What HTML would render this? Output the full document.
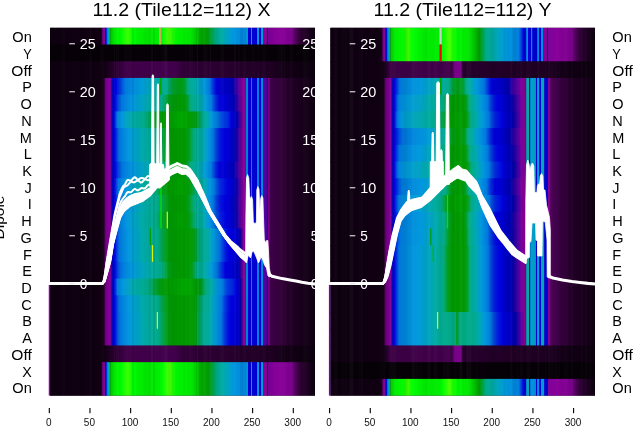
<!DOCTYPE html>
<html><head><meta charset="utf-8"><title>chart</title><style>html,body{margin:0;padding:0;background:#fff}body{width:640px;height:440px;overflow:hidden;font-family:"Liberation Sans",sans-serif}svg{display:block;will-change:transform}</style></head><body>
<svg width="640" height="440" viewBox="0 0 640 440">
<defs><clipPath id="clipL"><rect x="50" y="27.8" width="265" height="367.8"/></clipPath><linearGradient id="gL0" gradientUnits="userSpaceOnUse" x1="50.0" x2="315.0"><stop offset="0" stop-color="#0e0010"/><stop offset="0.1925" stop-color="#110013"/><stop offset="0.1943" stop-color="#1e0023"/><stop offset="0.1981" stop-color="#630071"/><stop offset="0.2" stop-color="#79008a"/><stop offset="0.2057" stop-color="#880099"/><stop offset="0.2075" stop-color="#2900a5"/><stop offset="0.2094" stop-color="#0000be"/><stop offset="0.2113" stop-color="#0000d8"/><stop offset="0.2132" stop-color="#0030dd"/><stop offset="0.2151" stop-color="#006fdd"/><stop offset="0.2189" stop-color="#0099dd"/><stop offset="0.2208" stop-color="#00a4bb"/><stop offset="0.2245" stop-color="#00aa88"/><stop offset="0.2264" stop-color="#009c1b"/><stop offset="0.2283" stop-color="#00ad00"/><stop offset="0.2302" stop-color="#00c900"/><stop offset="0.2453" stop-color="#00ee00"/><stop offset="0.2717" stop-color="#00ff00"/><stop offset="0.2943" stop-color="#40ff00"/><stop offset="0.3094" stop-color="#00fe00"/><stop offset="0.3585" stop-color="#00e700"/><stop offset="0.4" stop-color="#00eb00"/><stop offset="0.4264" stop-color="#00ff00"/><stop offset="0.4491" stop-color="#4bff00"/><stop offset="0.4755" stop-color="#00ff00"/><stop offset="0.4849" stop-color="#00f400"/><stop offset="0.5321" stop-color="#00e400"/><stop offset="0.5698" stop-color="#00ad00"/><stop offset="0.5925" stop-color="#009900"/><stop offset="0.6151" stop-color="#00a352"/><stop offset="0.6245" stop-color="#00aa88"/><stop offset="0.6509" stop-color="#00aaaa"/><stop offset="0.6868" stop-color="#0099dd"/><stop offset="0.7396" stop-color="#007edd"/><stop offset="0.7415" stop-color="#009cd3"/><stop offset="0.7453" stop-color="#009cd3"/><stop offset="0.7472" stop-color="#0000d8"/><stop offset="0.7566" stop-color="#0000d8"/><stop offset="0.7585" stop-color="#0099dc"/><stop offset="0.7623" stop-color="#0099dc"/><stop offset="0.7642" stop-color="#0000d2"/><stop offset="0.7811" stop-color="#0000d2"/><stop offset="0.783" stop-color="#0095dd"/><stop offset="0.7868" stop-color="#0095dd"/><stop offset="0.7887" stop-color="#0000d8"/><stop offset="0.7943" stop-color="#0000d8"/><stop offset="0.7962" stop-color="#009cd3"/><stop offset="0.8019" stop-color="#009cd3"/><stop offset="0.8038" stop-color="#880099"/><stop offset="0.817" stop-color="#880099"/><stop offset="0.8189" stop-color="#0000ce"/><stop offset="0.8208" stop-color="#0000ce"/><stop offset="0.8226" stop-color="#7a009b"/><stop offset="0.8547" stop-color="#880099"/><stop offset="0.8868" stop-color="#840095"/><stop offset="0.9132" stop-color="#780089"/><stop offset="0.9245" stop-color="#560062"/><stop offset="0.9434" stop-color="#320039"/><stop offset="0.9736" stop-color="#1a001e"/><stop offset="1" stop-color="#0e0010"/></linearGradient><linearGradient id="gL1" gradientUnits="userSpaceOnUse" x1="50.0" x2="315.0"><stop offset="0" stop-color="#070008"/><stop offset="1" stop-color="#070008"/></linearGradient><linearGradient id="gL2" gradientUnits="userSpaceOnUse" x1="50.0" x2="315.0"><stop offset="0" stop-color="#0e0010"/><stop offset="0.2038" stop-color="#110013"/><stop offset="0.2491" stop-color="#2d0034"/><stop offset="0.2906" stop-color="#400049"/><stop offset="0.4717" stop-color="#45004f"/><stop offset="0.4981" stop-color="#320039"/><stop offset="0.8377" stop-color="#1f0023"/><stop offset="0.8679" stop-color="#150018"/><stop offset="1" stop-color="#0c000e"/></linearGradient><linearGradient id="gL3" gradientUnits="userSpaceOnUse" x1="50.0" x2="315.0"><stop offset="0" stop-color="#0e0010"/><stop offset="0.2" stop-color="#110013"/><stop offset="0.2019" stop-color="#1b001e"/><stop offset="0.2057" stop-color="#3c0045"/><stop offset="0.2094" stop-color="#6b007a"/><stop offset="0.2113" stop-color="#79008a"/><stop offset="0.2264" stop-color="#870098"/><stop offset="0.2283" stop-color="#7f009a"/><stop offset="0.2321" stop-color="#2400a5"/><stop offset="0.234" stop-color="#0000ac"/><stop offset="0.2434" stop-color="#0000d6"/><stop offset="0.2491" stop-color="#0004dd"/><stop offset="0.2585" stop-color="#0021dd"/><stop offset="0.2623" stop-color="#0035dd"/><stop offset="0.283" stop-color="#0076dd"/><stop offset="0.3132" stop-color="#008bdd"/><stop offset="0.3396" stop-color="#0099dc"/><stop offset="0.4038" stop-color="#00aaaa"/><stop offset="0.4415" stop-color="#00aa89"/><stop offset="0.4604" stop-color="#00a039"/><stop offset="0.4792" stop-color="#009c1b"/><stop offset="0.4906" stop-color="#009c16"/><stop offset="0.5" stop-color="#009c1b"/><stop offset="0.5094" stop-color="#009f2c"/><stop offset="0.5208" stop-color="#00aa87"/><stop offset="0.5226" stop-color="#00aa8b"/><stop offset="0.5491" stop-color="#00aaaa"/><stop offset="0.5811" stop-color="#0099dc"/><stop offset="0.6019" stop-color="#0079dd"/><stop offset="0.6113" stop-color="#0048dd"/><stop offset="0.6264" stop-color="#0008dd"/><stop offset="0.6302" stop-color="#0000dc"/><stop offset="0.6453" stop-color="#0000ca"/><stop offset="0.6679" stop-color="#0000c1"/><stop offset="0.6887" stop-color="#0000ac"/><stop offset="0.7245" stop-color="#84009a"/><stop offset="0.7283" stop-color="#880099"/><stop offset="0.7358" stop-color="#860097"/><stop offset="0.7377" stop-color="#6d009c"/><stop offset="0.7396" stop-color="#6d009c"/><stop offset="0.7415" stop-color="#0088dd"/><stop offset="0.7453" stop-color="#0088dd"/><stop offset="0.7472" stop-color="#0000d8"/><stop offset="0.7566" stop-color="#0000d8"/><stop offset="0.7585" stop-color="#0082dd"/><stop offset="0.7623" stop-color="#0082dd"/><stop offset="0.7642" stop-color="#0000d2"/><stop offset="0.7811" stop-color="#0000d2"/><stop offset="0.783" stop-color="#007fdd"/><stop offset="0.7868" stop-color="#007fdd"/><stop offset="0.7887" stop-color="#0000d8"/><stop offset="0.7943" stop-color="#0000d8"/><stop offset="0.7962" stop-color="#0088dd"/><stop offset="0.8019" stop-color="#0088dd"/><stop offset="0.8038" stop-color="#4f00a0"/><stop offset="0.817" stop-color="#4f00a0"/><stop offset="0.8189" stop-color="#0000ce"/><stop offset="0.8208" stop-color="#0000ce"/><stop offset="0.8226" stop-color="#800091"/><stop offset="0.8264" stop-color="#780089"/><stop offset="0.8321" stop-color="#400049"/><stop offset="0.9057" stop-color="#240029"/><stop offset="1" stop-color="#0e0010"/></linearGradient><linearGradient id="gL4" gradientUnits="userSpaceOnUse" x1="50.0" x2="315.0"><stop offset="0" stop-color="#0e0010"/><stop offset="0.2" stop-color="#110013"/><stop offset="0.2019" stop-color="#1b001e"/><stop offset="0.2057" stop-color="#3c0045"/><stop offset="0.2094" stop-color="#6b007a"/><stop offset="0.2113" stop-color="#79008a"/><stop offset="0.2264" stop-color="#870098"/><stop offset="0.2283" stop-color="#7f009a"/><stop offset="0.2321" stop-color="#2400a5"/><stop offset="0.234" stop-color="#0000ac"/><stop offset="0.2434" stop-color="#0000db"/><stop offset="0.2453" stop-color="#0004dd"/><stop offset="0.2623" stop-color="#005cdd"/><stop offset="0.2698" stop-color="#0075dd"/><stop offset="0.3132" stop-color="#0098dd"/><stop offset="0.3755" stop-color="#00aaaa"/><stop offset="0.4226" stop-color="#00aa89"/><stop offset="0.4491" stop-color="#009c1b"/><stop offset="0.4604" stop-color="#009b0d"/><stop offset="0.4906" stop-color="#009900"/><stop offset="0.5094" stop-color="#009a0a"/><stop offset="0.517" stop-color="#009c1a"/><stop offset="0.5245" stop-color="#00a457"/><stop offset="0.534" stop-color="#00aa87"/><stop offset="0.566" stop-color="#00aaaa"/><stop offset="0.5811" stop-color="#00a1c6"/><stop offset="0.5906" stop-color="#0098dd"/><stop offset="0.6094" stop-color="#0078dd"/><stop offset="0.6264" stop-color="#002cdd"/><stop offset="0.6415" stop-color="#0000dc"/><stop offset="0.6679" stop-color="#0000ce"/><stop offset="0.6868" stop-color="#0000bb"/><stop offset="0.6962" stop-color="#0000aa"/><stop offset="0.7245" stop-color="#7f009a"/><stop offset="0.7302" stop-color="#880099"/><stop offset="0.7358" stop-color="#860097"/><stop offset="0.7377" stop-color="#6d009c"/><stop offset="0.7396" stop-color="#6d009c"/><stop offset="0.7415" stop-color="#0088dd"/><stop offset="0.7453" stop-color="#0088dd"/><stop offset="0.7472" stop-color="#0000d8"/><stop offset="0.7566" stop-color="#0000d8"/><stop offset="0.7585" stop-color="#0082dd"/><stop offset="0.7623" stop-color="#0082dd"/><stop offset="0.7642" stop-color="#0000d2"/><stop offset="0.7811" stop-color="#0000d2"/><stop offset="0.783" stop-color="#007fdd"/><stop offset="0.7868" stop-color="#007fdd"/><stop offset="0.7887" stop-color="#0000d8"/><stop offset="0.7943" stop-color="#0000d8"/><stop offset="0.7962" stop-color="#0088dd"/><stop offset="0.8019" stop-color="#0088dd"/><stop offset="0.8038" stop-color="#4f00a0"/><stop offset="0.817" stop-color="#4f00a0"/><stop offset="0.8189" stop-color="#0000ce"/><stop offset="0.8208" stop-color="#0000ce"/><stop offset="0.8226" stop-color="#800091"/><stop offset="0.8264" stop-color="#780089"/><stop offset="0.8321" stop-color="#400049"/><stop offset="0.9057" stop-color="#240029"/><stop offset="1" stop-color="#0e0010"/></linearGradient><linearGradient id="gL5" gradientUnits="userSpaceOnUse" x1="50.0" x2="315.0"><stop offset="0" stop-color="#0e0010"/><stop offset="0.2" stop-color="#110013"/><stop offset="0.2019" stop-color="#1b001e"/><stop offset="0.2057" stop-color="#3c0045"/><stop offset="0.2094" stop-color="#6b007a"/><stop offset="0.2113" stop-color="#79008a"/><stop offset="0.2264" stop-color="#870098"/><stop offset="0.2283" stop-color="#7f009a"/><stop offset="0.2321" stop-color="#2400a5"/><stop offset="0.234" stop-color="#0000ac"/><stop offset="0.2415" stop-color="#0000db"/><stop offset="0.2528" stop-color="#0074dd"/><stop offset="0.2547" stop-color="#007cdd"/><stop offset="0.2604" stop-color="#008bdd"/><stop offset="0.2717" stop-color="#0099dd"/><stop offset="0.2849" stop-color="#00a1c7"/><stop offset="0.3075" stop-color="#00aaab"/><stop offset="0.3566" stop-color="#00aa88"/><stop offset="0.3774" stop-color="#00a457"/><stop offset="0.3981" stop-color="#009c1b"/><stop offset="0.4245" stop-color="#009901"/><stop offset="0.4906" stop-color="#00a800"/><stop offset="0.5094" stop-color="#00a600"/><stop offset="0.5321" stop-color="#009900"/><stop offset="0.5528" stop-color="#009c1b"/><stop offset="0.5623" stop-color="#00a247"/><stop offset="0.5736" stop-color="#00aa88"/><stop offset="0.5925" stop-color="#00aaaa"/><stop offset="0.6094" stop-color="#0099dd"/><stop offset="0.6321" stop-color="#0078dd"/><stop offset="0.6453" stop-color="#004bdd"/><stop offset="0.6679" stop-color="#0030dd"/><stop offset="0.6849" stop-color="#0000dd"/><stop offset="0.7057" stop-color="#0000ac"/><stop offset="0.7075" stop-color="#0700a9"/><stop offset="0.7245" stop-color="#70009c"/><stop offset="0.7321" stop-color="#880099"/><stop offset="0.7358" stop-color="#860097"/><stop offset="0.7377" stop-color="#6d009c"/><stop offset="0.7396" stop-color="#6d009c"/><stop offset="0.7415" stop-color="#0088dd"/><stop offset="0.7453" stop-color="#0088dd"/><stop offset="0.7472" stop-color="#0000d8"/><stop offset="0.7566" stop-color="#0000d8"/><stop offset="0.7585" stop-color="#0082dd"/><stop offset="0.7623" stop-color="#0082dd"/><stop offset="0.7642" stop-color="#0000d2"/><stop offset="0.7811" stop-color="#0000d2"/><stop offset="0.783" stop-color="#007fdd"/><stop offset="0.7868" stop-color="#007fdd"/><stop offset="0.7887" stop-color="#0000d8"/><stop offset="0.7943" stop-color="#0000d8"/><stop offset="0.7962" stop-color="#0088dd"/><stop offset="0.8019" stop-color="#0088dd"/><stop offset="0.8038" stop-color="#4f00a0"/><stop offset="0.817" stop-color="#4f00a0"/><stop offset="0.8189" stop-color="#0000ce"/><stop offset="0.8208" stop-color="#0000ce"/><stop offset="0.8226" stop-color="#800091"/><stop offset="0.8264" stop-color="#780089"/><stop offset="0.8321" stop-color="#400049"/><stop offset="0.9057" stop-color="#240029"/><stop offset="1" stop-color="#0e0010"/></linearGradient><linearGradient id="gL6" gradientUnits="userSpaceOnUse" x1="50.0" x2="315.0"><stop offset="0" stop-color="#0e0010"/><stop offset="0.2" stop-color="#110013"/><stop offset="0.2019" stop-color="#1b001e"/><stop offset="0.2057" stop-color="#3c0045"/><stop offset="0.2094" stop-color="#6b007a"/><stop offset="0.2113" stop-color="#79008a"/><stop offset="0.2264" stop-color="#870098"/><stop offset="0.2283" stop-color="#7f009a"/><stop offset="0.2321" stop-color="#2400a5"/><stop offset="0.234" stop-color="#0000ac"/><stop offset="0.2434" stop-color="#0002dd"/><stop offset="0.2623" stop-color="#0078dd"/><stop offset="0.2981" stop-color="#0098dd"/><stop offset="0.3509" stop-color="#00aaab"/><stop offset="0.4075" stop-color="#00aa88"/><stop offset="0.4358" stop-color="#009c1b"/><stop offset="0.4566" stop-color="#009901"/><stop offset="0.5113" stop-color="#009a00"/><stop offset="0.5245" stop-color="#009c1b"/><stop offset="0.5396" stop-color="#00a76d"/><stop offset="0.5453" stop-color="#00aa85"/><stop offset="0.5755" stop-color="#00aaaa"/><stop offset="0.5962" stop-color="#0099dd"/><stop offset="0.617" stop-color="#0074dd"/><stop offset="0.6264" stop-color="#0047dd"/><stop offset="0.6453" stop-color="#000cdd"/><stop offset="0.6566" stop-color="#0000dd"/><stop offset="0.6679" stop-color="#0000d8"/><stop offset="0.6868" stop-color="#0000c4"/><stop offset="0.7" stop-color="#0000aa"/><stop offset="0.7245" stop-color="#7a009b"/><stop offset="0.7302" stop-color="#880099"/><stop offset="0.7358" stop-color="#860097"/><stop offset="0.7377" stop-color="#6d009c"/><stop offset="0.7396" stop-color="#6d009c"/><stop offset="0.7415" stop-color="#0088dd"/><stop offset="0.7453" stop-color="#0088dd"/><stop offset="0.7472" stop-color="#0000d8"/><stop offset="0.7566" stop-color="#0000d8"/><stop offset="0.7585" stop-color="#0082dd"/><stop offset="0.7623" stop-color="#0082dd"/><stop offset="0.7642" stop-color="#0000d2"/><stop offset="0.7811" stop-color="#0000d2"/><stop offset="0.783" stop-color="#007fdd"/><stop offset="0.7868" stop-color="#007fdd"/><stop offset="0.7887" stop-color="#0000d8"/><stop offset="0.7943" stop-color="#0000d8"/><stop offset="0.7962" stop-color="#0088dd"/><stop offset="0.8019" stop-color="#0088dd"/><stop offset="0.8038" stop-color="#4f00a0"/><stop offset="0.817" stop-color="#4f00a0"/><stop offset="0.8189" stop-color="#0000ce"/><stop offset="0.8208" stop-color="#0000ce"/><stop offset="0.8226" stop-color="#800091"/><stop offset="0.8264" stop-color="#780089"/><stop offset="0.8321" stop-color="#400049"/><stop offset="0.9057" stop-color="#240029"/><stop offset="1" stop-color="#0e0010"/></linearGradient><linearGradient id="gL7" gradientUnits="userSpaceOnUse" x1="50.0" x2="315.0"><stop offset="0" stop-color="#0e0010"/><stop offset="0.2" stop-color="#110013"/><stop offset="0.2019" stop-color="#1b001e"/><stop offset="0.2057" stop-color="#3c0045"/><stop offset="0.2094" stop-color="#6b007a"/><stop offset="0.2113" stop-color="#79008a"/><stop offset="0.2264" stop-color="#870098"/><stop offset="0.2283" stop-color="#7f009a"/><stop offset="0.2321" stop-color="#2400a5"/><stop offset="0.234" stop-color="#0000ac"/><stop offset="0.2434" stop-color="#0002dd"/><stop offset="0.2623" stop-color="#0078dd"/><stop offset="0.2981" stop-color="#0098dd"/><stop offset="0.3509" stop-color="#00aaab"/><stop offset="0.4075" stop-color="#00aa88"/><stop offset="0.4358" stop-color="#009c1b"/><stop offset="0.4566" stop-color="#009901"/><stop offset="0.5113" stop-color="#009a00"/><stop offset="0.5245" stop-color="#009c1b"/><stop offset="0.5396" stop-color="#00a76d"/><stop offset="0.5453" stop-color="#00aa85"/><stop offset="0.5755" stop-color="#00aaaa"/><stop offset="0.5962" stop-color="#0099dd"/><stop offset="0.617" stop-color="#0074dd"/><stop offset="0.6264" stop-color="#0047dd"/><stop offset="0.6453" stop-color="#000cdd"/><stop offset="0.6566" stop-color="#0000dd"/><stop offset="0.6679" stop-color="#0000d8"/><stop offset="0.6868" stop-color="#0000c4"/><stop offset="0.7" stop-color="#0000aa"/><stop offset="0.7245" stop-color="#7a009b"/><stop offset="0.7302" stop-color="#880099"/><stop offset="0.7358" stop-color="#860097"/><stop offset="0.7377" stop-color="#6d009c"/><stop offset="0.7396" stop-color="#6d009c"/><stop offset="0.7415" stop-color="#0088dd"/><stop offset="0.7453" stop-color="#0088dd"/><stop offset="0.7472" stop-color="#0000d8"/><stop offset="0.7566" stop-color="#0000d8"/><stop offset="0.7585" stop-color="#0082dd"/><stop offset="0.7623" stop-color="#0082dd"/><stop offset="0.7642" stop-color="#0000d2"/><stop offset="0.7811" stop-color="#0000d2"/><stop offset="0.783" stop-color="#007fdd"/><stop offset="0.7868" stop-color="#007fdd"/><stop offset="0.7887" stop-color="#0000d8"/><stop offset="0.7943" stop-color="#0000d8"/><stop offset="0.7962" stop-color="#0088dd"/><stop offset="0.8019" stop-color="#0088dd"/><stop offset="0.8038" stop-color="#4f00a0"/><stop offset="0.817" stop-color="#4f00a0"/><stop offset="0.8189" stop-color="#0000ce"/><stop offset="0.8208" stop-color="#0000ce"/><stop offset="0.8226" stop-color="#800091"/><stop offset="0.8264" stop-color="#780089"/><stop offset="0.8321" stop-color="#400049"/><stop offset="0.9057" stop-color="#240029"/><stop offset="1" stop-color="#0e0010"/></linearGradient><linearGradient id="gL8" gradientUnits="userSpaceOnUse" x1="50.0" x2="315.0"><stop offset="0" stop-color="#0e0010"/><stop offset="0.2" stop-color="#110013"/><stop offset="0.2019" stop-color="#1b001e"/><stop offset="0.2057" stop-color="#3c0045"/><stop offset="0.2094" stop-color="#6b007a"/><stop offset="0.2113" stop-color="#79008a"/><stop offset="0.2264" stop-color="#870098"/><stop offset="0.2283" stop-color="#7f009a"/><stop offset="0.2321" stop-color="#2400a5"/><stop offset="0.234" stop-color="#0000ac"/><stop offset="0.2415" stop-color="#0000d2"/><stop offset="0.2453" stop-color="#0002dd"/><stop offset="0.2623" stop-color="#0056dd"/><stop offset="0.2717" stop-color="#0075dd"/><stop offset="0.3132" stop-color="#0096dd"/><stop offset="0.3792" stop-color="#00aaab"/><stop offset="0.4245" stop-color="#00aa8a"/><stop offset="0.4264" stop-color="#00aa87"/><stop offset="0.4415" stop-color="#00a249"/><stop offset="0.4509" stop-color="#009d1d"/><stop offset="0.4604" stop-color="#009b10"/><stop offset="0.4906" stop-color="#009904"/><stop offset="0.5094" stop-color="#009b0d"/><stop offset="0.5151" stop-color="#009c19"/><stop offset="0.517" stop-color="#009d23"/><stop offset="0.5245" stop-color="#00a563"/><stop offset="0.5321" stop-color="#00aa88"/><stop offset="0.5642" stop-color="#00aaab"/><stop offset="0.5887" stop-color="#0099dc"/><stop offset="0.6094" stop-color="#0075dd"/><stop offset="0.6264" stop-color="#0027dd"/><stop offset="0.6396" stop-color="#0000dd"/><stop offset="0.6679" stop-color="#0000cc"/><stop offset="0.6868" stop-color="#0000b9"/><stop offset="0.6943" stop-color="#0000ac"/><stop offset="0.7245" stop-color="#7f009a"/><stop offset="0.7302" stop-color="#880099"/><stop offset="0.7358" stop-color="#860097"/><stop offset="0.7377" stop-color="#6d009c"/><stop offset="0.7396" stop-color="#6d009c"/><stop offset="0.7415" stop-color="#0088dd"/><stop offset="0.7453" stop-color="#0088dd"/><stop offset="0.7472" stop-color="#0000d8"/><stop offset="0.7566" stop-color="#0000d8"/><stop offset="0.7585" stop-color="#0082dd"/><stop offset="0.7623" stop-color="#0082dd"/><stop offset="0.7642" stop-color="#0000d2"/><stop offset="0.7811" stop-color="#0000d2"/><stop offset="0.783" stop-color="#007fdd"/><stop offset="0.7868" stop-color="#007fdd"/><stop offset="0.7887" stop-color="#0000d8"/><stop offset="0.7943" stop-color="#0000d8"/><stop offset="0.7962" stop-color="#0088dd"/><stop offset="0.8019" stop-color="#0088dd"/><stop offset="0.8038" stop-color="#4f00a0"/><stop offset="0.817" stop-color="#4f00a0"/><stop offset="0.8189" stop-color="#0000ce"/><stop offset="0.8208" stop-color="#0000ce"/><stop offset="0.8226" stop-color="#800091"/><stop offset="0.8264" stop-color="#780089"/><stop offset="0.8321" stop-color="#400049"/><stop offset="0.9057" stop-color="#240029"/><stop offset="1" stop-color="#0e0010"/></linearGradient><linearGradient id="gL9" gradientUnits="userSpaceOnUse" x1="50.0" x2="315.0"><stop offset="0" stop-color="#0e0010"/><stop offset="0.2" stop-color="#110013"/><stop offset="0.2019" stop-color="#1b001e"/><stop offset="0.2057" stop-color="#3c0045"/><stop offset="0.2094" stop-color="#6b007a"/><stop offset="0.2113" stop-color="#79008a"/><stop offset="0.2264" stop-color="#870098"/><stop offset="0.2283" stop-color="#7f009a"/><stop offset="0.2321" stop-color="#2400a5"/><stop offset="0.234" stop-color="#0000ac"/><stop offset="0.2415" stop-color="#0000d7"/><stop offset="0.2434" stop-color="#0009dd"/><stop offset="0.2585" stop-color="#0078dd"/><stop offset="0.2868" stop-color="#0098dd"/><stop offset="0.3358" stop-color="#00aaaa"/><stop offset="0.3925" stop-color="#00aa88"/><stop offset="0.4038" stop-color="#00a66b"/><stop offset="0.4245" stop-color="#009c1b"/><stop offset="0.4472" stop-color="#009901"/><stop offset="0.4906" stop-color="#00a100"/><stop offset="0.517" stop-color="#009a00"/><stop offset="0.5321" stop-color="#009c1a"/><stop offset="0.5396" stop-color="#00a140"/><stop offset="0.5566" stop-color="#00aa89"/><stop offset="0.5811" stop-color="#00aaa8"/><stop offset="0.6019" stop-color="#0097dd"/><stop offset="0.6208" stop-color="#0078dd"/><stop offset="0.6264" stop-color="#005ddd"/><stop offset="0.6453" stop-color="#001fdd"/><stop offset="0.6717" stop-color="#0000dc"/><stop offset="0.6868" stop-color="#0000cb"/><stop offset="0.7019" stop-color="#0000ab"/><stop offset="0.7245" stop-color="#77009b"/><stop offset="0.7321" stop-color="#880099"/><stop offset="0.7358" stop-color="#860097"/><stop offset="0.7377" stop-color="#6d009c"/><stop offset="0.7396" stop-color="#6d009c"/><stop offset="0.7415" stop-color="#0088dd"/><stop offset="0.7453" stop-color="#0088dd"/><stop offset="0.7472" stop-color="#0000d8"/><stop offset="0.7566" stop-color="#0000d8"/><stop offset="0.7585" stop-color="#0082dd"/><stop offset="0.7623" stop-color="#0082dd"/><stop offset="0.7642" stop-color="#0000d2"/><stop offset="0.7811" stop-color="#0000d2"/><stop offset="0.783" stop-color="#007fdd"/><stop offset="0.7868" stop-color="#007fdd"/><stop offset="0.7887" stop-color="#0000d8"/><stop offset="0.7943" stop-color="#0000d8"/><stop offset="0.7962" stop-color="#0088dd"/><stop offset="0.8019" stop-color="#0088dd"/><stop offset="0.8038" stop-color="#4f00a0"/><stop offset="0.817" stop-color="#4f00a0"/><stop offset="0.8189" stop-color="#0000ce"/><stop offset="0.8208" stop-color="#0000ce"/><stop offset="0.8226" stop-color="#800091"/><stop offset="0.8264" stop-color="#780089"/><stop offset="0.8321" stop-color="#400049"/><stop offset="0.9057" stop-color="#240029"/><stop offset="1" stop-color="#0e0010"/></linearGradient><linearGradient id="gL10" gradientUnits="userSpaceOnUse" x1="50.0" x2="315.0"><stop offset="0" stop-color="#0e0010"/><stop offset="0.2" stop-color="#110013"/><stop offset="0.2019" stop-color="#1b001e"/><stop offset="0.2057" stop-color="#3c0045"/><stop offset="0.2094" stop-color="#6b007a"/><stop offset="0.2113" stop-color="#79008a"/><stop offset="0.2264" stop-color="#870098"/><stop offset="0.2283" stop-color="#7f009a"/><stop offset="0.2321" stop-color="#2400a5"/><stop offset="0.234" stop-color="#0000ac"/><stop offset="0.2434" stop-color="#0002dd"/><stop offset="0.2623" stop-color="#0078dd"/><stop offset="0.2981" stop-color="#0098dd"/><stop offset="0.3509" stop-color="#00aaab"/><stop offset="0.4075" stop-color="#00aa88"/><stop offset="0.4358" stop-color="#009c1b"/><stop offset="0.4566" stop-color="#009901"/><stop offset="0.5113" stop-color="#009a00"/><stop offset="0.5245" stop-color="#009c1b"/><stop offset="0.5396" stop-color="#00a76d"/><stop offset="0.5453" stop-color="#00aa85"/><stop offset="0.5755" stop-color="#00aaaa"/><stop offset="0.5962" stop-color="#0099dd"/><stop offset="0.617" stop-color="#0074dd"/><stop offset="0.6264" stop-color="#0047dd"/><stop offset="0.6453" stop-color="#000cdd"/><stop offset="0.6566" stop-color="#0000dd"/><stop offset="0.6679" stop-color="#0000d8"/><stop offset="0.6868" stop-color="#0000c4"/><stop offset="0.7" stop-color="#0000aa"/><stop offset="0.7245" stop-color="#7a009b"/><stop offset="0.7302" stop-color="#880099"/><stop offset="0.7358" stop-color="#860097"/><stop offset="0.7377" stop-color="#6d009c"/><stop offset="0.7396" stop-color="#6d009c"/><stop offset="0.7415" stop-color="#0088dd"/><stop offset="0.7453" stop-color="#0088dd"/><stop offset="0.7472" stop-color="#0000d8"/><stop offset="0.7566" stop-color="#0000d8"/><stop offset="0.7585" stop-color="#0082dd"/><stop offset="0.7623" stop-color="#0082dd"/><stop offset="0.7642" stop-color="#0000d2"/><stop offset="0.7811" stop-color="#0000d2"/><stop offset="0.783" stop-color="#007fdd"/><stop offset="0.7868" stop-color="#007fdd"/><stop offset="0.7887" stop-color="#0000d8"/><stop offset="0.7943" stop-color="#0000d8"/><stop offset="0.7962" stop-color="#0088dd"/><stop offset="0.8019" stop-color="#0088dd"/><stop offset="0.8038" stop-color="#4f00a0"/><stop offset="0.817" stop-color="#4f00a0"/><stop offset="0.8189" stop-color="#0000ce"/><stop offset="0.8208" stop-color="#0000ce"/><stop offset="0.8226" stop-color="#800091"/><stop offset="0.8264" stop-color="#780089"/><stop offset="0.8321" stop-color="#400049"/><stop offset="0.9057" stop-color="#240029"/><stop offset="1" stop-color="#0e0010"/></linearGradient><linearGradient id="gL11" gradientUnits="userSpaceOnUse" x1="50.0" x2="315.0"><stop offset="0" stop-color="#0e0010"/><stop offset="0.2" stop-color="#110013"/><stop offset="0.2019" stop-color="#1b001e"/><stop offset="0.2057" stop-color="#3c0045"/><stop offset="0.2094" stop-color="#6b007a"/><stop offset="0.2113" stop-color="#79008a"/><stop offset="0.2264" stop-color="#870098"/><stop offset="0.2283" stop-color="#7f009a"/><stop offset="0.2321" stop-color="#2400a5"/><stop offset="0.234" stop-color="#0000ac"/><stop offset="0.2415" stop-color="#0000d6"/><stop offset="0.2434" stop-color="#0006dd"/><stop offset="0.2604" stop-color="#0078dd"/><stop offset="0.2925" stop-color="#0098dd"/><stop offset="0.3434" stop-color="#00aaaa"/><stop offset="0.4" stop-color="#00aa88"/><stop offset="0.4038" stop-color="#00a980"/><stop offset="0.4302" stop-color="#009c1b"/><stop offset="0.4528" stop-color="#009900"/><stop offset="0.4906" stop-color="#009f00"/><stop offset="0.5151" stop-color="#009900"/><stop offset="0.5283" stop-color="#009c1a"/><stop offset="0.5396" stop-color="#00a456"/><stop offset="0.5509" stop-color="#00aa87"/><stop offset="0.5792" stop-color="#00aaaa"/><stop offset="0.5981" stop-color="#0099dc"/><stop offset="0.6189" stop-color="#0077dd"/><stop offset="0.6264" stop-color="#0052dd"/><stop offset="0.6453" stop-color="#0016dd"/><stop offset="0.666" stop-color="#0000dd"/><stop offset="0.6868" stop-color="#0000c7"/><stop offset="0.7019" stop-color="#0300aa"/><stop offset="0.7245" stop-color="#79009b"/><stop offset="0.7302" stop-color="#870099"/><stop offset="0.7358" stop-color="#860097"/><stop offset="0.7377" stop-color="#6d009c"/><stop offset="0.7396" stop-color="#6d009c"/><stop offset="0.7415" stop-color="#0088dd"/><stop offset="0.7453" stop-color="#0088dd"/><stop offset="0.7472" stop-color="#0000d8"/><stop offset="0.7566" stop-color="#0000d8"/><stop offset="0.7585" stop-color="#0082dd"/><stop offset="0.7623" stop-color="#0082dd"/><stop offset="0.7642" stop-color="#0000d2"/><stop offset="0.7811" stop-color="#0000d2"/><stop offset="0.783" stop-color="#007fdd"/><stop offset="0.7868" stop-color="#007fdd"/><stop offset="0.7887" stop-color="#0000d8"/><stop offset="0.7943" stop-color="#0000d8"/><stop offset="0.7962" stop-color="#0088dd"/><stop offset="0.8019" stop-color="#0088dd"/><stop offset="0.8038" stop-color="#4f00a0"/><stop offset="0.817" stop-color="#4f00a0"/><stop offset="0.8189" stop-color="#0000ce"/><stop offset="0.8208" stop-color="#0000ce"/><stop offset="0.8226" stop-color="#800091"/><stop offset="0.8264" stop-color="#780089"/><stop offset="0.8321" stop-color="#400049"/><stop offset="0.9057" stop-color="#240029"/><stop offset="1" stop-color="#0e0010"/></linearGradient><linearGradient id="gL12" gradientUnits="userSpaceOnUse" x1="50.0" x2="315.0"><stop offset="0" stop-color="#0e0010"/><stop offset="0.2" stop-color="#110013"/><stop offset="0.2019" stop-color="#1b001e"/><stop offset="0.2057" stop-color="#3c0045"/><stop offset="0.2094" stop-color="#6b007a"/><stop offset="0.2113" stop-color="#79008a"/><stop offset="0.2264" stop-color="#870098"/><stop offset="0.2283" stop-color="#7f009a"/><stop offset="0.2321" stop-color="#2400a5"/><stop offset="0.234" stop-color="#0000ac"/><stop offset="0.2434" stop-color="#0002dd"/><stop offset="0.2623" stop-color="#0078dd"/><stop offset="0.2981" stop-color="#0098dd"/><stop offset="0.3509" stop-color="#00aaab"/><stop offset="0.4075" stop-color="#00aa88"/><stop offset="0.4358" stop-color="#009c1b"/><stop offset="0.4566" stop-color="#009901"/><stop offset="0.534" stop-color="#009a00"/><stop offset="0.5472" stop-color="#009c1b"/><stop offset="0.5623" stop-color="#00a76d"/><stop offset="0.5679" stop-color="#00aa85"/><stop offset="0.5981" stop-color="#00aaaa"/><stop offset="0.6189" stop-color="#0099dd"/><stop offset="0.6396" stop-color="#0074dd"/><stop offset="0.6491" stop-color="#0047dd"/><stop offset="0.6679" stop-color="#000cdd"/><stop offset="0.6792" stop-color="#0000dd"/><stop offset="0.6906" stop-color="#0000d8"/><stop offset="0.7075" stop-color="#0000c5"/><stop offset="0.717" stop-color="#0400a9"/><stop offset="0.7283" stop-color="#76009b"/><stop offset="0.7321" stop-color="#880099"/><stop offset="0.7358" stop-color="#860097"/><stop offset="0.7377" stop-color="#6d009c"/><stop offset="0.7396" stop-color="#6d009c"/><stop offset="0.7415" stop-color="#0088dd"/><stop offset="0.7453" stop-color="#0088dd"/><stop offset="0.7472" stop-color="#0000d8"/><stop offset="0.7566" stop-color="#0000d8"/><stop offset="0.7585" stop-color="#0082dd"/><stop offset="0.7623" stop-color="#0082dd"/><stop offset="0.7642" stop-color="#0000d2"/><stop offset="0.7811" stop-color="#0000d2"/><stop offset="0.783" stop-color="#007fdd"/><stop offset="0.7868" stop-color="#007fdd"/><stop offset="0.7887" stop-color="#0000d8"/><stop offset="0.7943" stop-color="#0000d8"/><stop offset="0.7962" stop-color="#0088dd"/><stop offset="0.8019" stop-color="#0088dd"/><stop offset="0.8038" stop-color="#4f00a0"/><stop offset="0.817" stop-color="#4f00a0"/><stop offset="0.8189" stop-color="#0000ce"/><stop offset="0.8208" stop-color="#0000ce"/><stop offset="0.8226" stop-color="#800091"/><stop offset="0.8264" stop-color="#780089"/><stop offset="0.8321" stop-color="#400049"/><stop offset="0.9057" stop-color="#240029"/><stop offset="1" stop-color="#0e0010"/></linearGradient><linearGradient id="gL13" gradientUnits="userSpaceOnUse" x1="50.0" x2="315.0"><stop offset="0" stop-color="#0e0010"/><stop offset="0.2" stop-color="#110013"/><stop offset="0.2019" stop-color="#1b001e"/><stop offset="0.2057" stop-color="#3c0045"/><stop offset="0.2094" stop-color="#6b007a"/><stop offset="0.2113" stop-color="#79008a"/><stop offset="0.2264" stop-color="#870098"/><stop offset="0.2283" stop-color="#7f009a"/><stop offset="0.2321" stop-color="#2400a5"/><stop offset="0.234" stop-color="#0000ac"/><stop offset="0.2434" stop-color="#0002dd"/><stop offset="0.2623" stop-color="#0078dd"/><stop offset="0.2981" stop-color="#0098dd"/><stop offset="0.3509" stop-color="#00aaab"/><stop offset="0.4075" stop-color="#00aa88"/><stop offset="0.4358" stop-color="#009c1b"/><stop offset="0.4566" stop-color="#009901"/><stop offset="0.534" stop-color="#009a00"/><stop offset="0.5472" stop-color="#009c1b"/><stop offset="0.5623" stop-color="#00a76d"/><stop offset="0.5679" stop-color="#00aa85"/><stop offset="0.5981" stop-color="#00aaaa"/><stop offset="0.6189" stop-color="#0099dd"/><stop offset="0.6396" stop-color="#0074dd"/><stop offset="0.6491" stop-color="#0047dd"/><stop offset="0.6679" stop-color="#000cdd"/><stop offset="0.6792" stop-color="#0000dd"/><stop offset="0.6906" stop-color="#0000d8"/><stop offset="0.7075" stop-color="#0000c5"/><stop offset="0.717" stop-color="#0400a9"/><stop offset="0.7283" stop-color="#76009b"/><stop offset="0.7321" stop-color="#880099"/><stop offset="0.7358" stop-color="#860097"/><stop offset="0.7377" stop-color="#6d009c"/><stop offset="0.7396" stop-color="#6d009c"/><stop offset="0.7415" stop-color="#0088dd"/><stop offset="0.7453" stop-color="#0088dd"/><stop offset="0.7472" stop-color="#0000d8"/><stop offset="0.7566" stop-color="#0000d8"/><stop offset="0.7585" stop-color="#0082dd"/><stop offset="0.7623" stop-color="#0082dd"/><stop offset="0.7642" stop-color="#0000d2"/><stop offset="0.7811" stop-color="#0000d2"/><stop offset="0.783" stop-color="#007fdd"/><stop offset="0.7868" stop-color="#007fdd"/><stop offset="0.7887" stop-color="#0000d8"/><stop offset="0.7943" stop-color="#0000d8"/><stop offset="0.7962" stop-color="#0088dd"/><stop offset="0.8019" stop-color="#0088dd"/><stop offset="0.8038" stop-color="#4f00a0"/><stop offset="0.817" stop-color="#4f00a0"/><stop offset="0.8189" stop-color="#0000ce"/><stop offset="0.8208" stop-color="#0000ce"/><stop offset="0.8226" stop-color="#800091"/><stop offset="0.8264" stop-color="#780089"/><stop offset="0.8321" stop-color="#400049"/><stop offset="0.9057" stop-color="#240029"/><stop offset="1" stop-color="#0e0010"/></linearGradient><linearGradient id="gL14" gradientUnits="userSpaceOnUse" x1="50.0" x2="315.0"><stop offset="0" stop-color="#0e0010"/><stop offset="0.2" stop-color="#110013"/><stop offset="0.2019" stop-color="#1b001e"/><stop offset="0.2057" stop-color="#3c0045"/><stop offset="0.2094" stop-color="#6b007a"/><stop offset="0.2113" stop-color="#79008a"/><stop offset="0.2264" stop-color="#870098"/><stop offset="0.2283" stop-color="#7f009a"/><stop offset="0.2321" stop-color="#2400a5"/><stop offset="0.234" stop-color="#0000ac"/><stop offset="0.2434" stop-color="#0000db"/><stop offset="0.2623" stop-color="#0062dd"/><stop offset="0.2679" stop-color="#0075dd"/><stop offset="0.3094" stop-color="#0098dd"/><stop offset="0.3698" stop-color="#00aaab"/><stop offset="0.4189" stop-color="#00aa89"/><stop offset="0.4226" stop-color="#00a97f"/><stop offset="0.4453" stop-color="#009d1f"/><stop offset="0.4604" stop-color="#009a0a"/><stop offset="0.4849" stop-color="#009900"/><stop offset="0.5113" stop-color="#009900"/><stop offset="0.5283" stop-color="#009a07"/><stop offset="0.5377" stop-color="#009c1b"/><stop offset="0.5434" stop-color="#00a24b"/><stop offset="0.5547" stop-color="#00aa86"/><stop offset="0.5868" stop-color="#00aaaa"/><stop offset="0.6113" stop-color="#0097dd"/><stop offset="0.6302" stop-color="#0076dd"/><stop offset="0.6453" stop-color="#0032dd"/><stop offset="0.6623" stop-color="#0000dc"/><stop offset="0.6868" stop-color="#0000d0"/><stop offset="0.7057" stop-color="#0000be"/><stop offset="0.7132" stop-color="#0000ac"/><stop offset="0.7151" stop-color="#0900a9"/><stop offset="0.7283" stop-color="#7c009b"/><stop offset="0.7321" stop-color="#880099"/><stop offset="0.7358" stop-color="#860097"/><stop offset="0.7377" stop-color="#6d009c"/><stop offset="0.7396" stop-color="#6d009c"/><stop offset="0.7415" stop-color="#0088dd"/><stop offset="0.7453" stop-color="#0088dd"/><stop offset="0.7472" stop-color="#0000d8"/><stop offset="0.7566" stop-color="#0000d8"/><stop offset="0.7585" stop-color="#0082dd"/><stop offset="0.7623" stop-color="#0082dd"/><stop offset="0.7642" stop-color="#0000d2"/><stop offset="0.7811" stop-color="#0000d2"/><stop offset="0.783" stop-color="#007fdd"/><stop offset="0.7868" stop-color="#007fdd"/><stop offset="0.7887" stop-color="#0000d8"/><stop offset="0.7943" stop-color="#0000d8"/><stop offset="0.7962" stop-color="#0088dd"/><stop offset="0.8019" stop-color="#0088dd"/><stop offset="0.8038" stop-color="#4f00a0"/><stop offset="0.817" stop-color="#4f00a0"/><stop offset="0.8189" stop-color="#0000ce"/><stop offset="0.8208" stop-color="#0000ce"/><stop offset="0.8226" stop-color="#800091"/><stop offset="0.8264" stop-color="#780089"/><stop offset="0.8321" stop-color="#400049"/><stop offset="0.9057" stop-color="#240029"/><stop offset="1" stop-color="#0e0010"/></linearGradient><linearGradient id="gL15" gradientUnits="userSpaceOnUse" x1="50.0" x2="315.0"><stop offset="0" stop-color="#0e0010"/><stop offset="0.2" stop-color="#110013"/><stop offset="0.2019" stop-color="#1b001e"/><stop offset="0.2057" stop-color="#3c0045"/><stop offset="0.2094" stop-color="#6b007a"/><stop offset="0.2113" stop-color="#79008a"/><stop offset="0.2264" stop-color="#870098"/><stop offset="0.2283" stop-color="#7f009a"/><stop offset="0.2321" stop-color="#2400a5"/><stop offset="0.234" stop-color="#0000ac"/><stop offset="0.2415" stop-color="#0000da"/><stop offset="0.2547" stop-color="#0078dd"/><stop offset="0.2623" stop-color="#0089dd"/><stop offset="0.2755" stop-color="#0098dd"/><stop offset="0.317" stop-color="#00aaaa"/><stop offset="0.3698" stop-color="#00aa87"/><stop offset="0.4038" stop-color="#009e2a"/><stop offset="0.4075" stop-color="#009c1b"/><stop offset="0.4321" stop-color="#009901"/><stop offset="0.5019" stop-color="#00a600"/><stop offset="0.5321" stop-color="#00a300"/><stop offset="0.5491" stop-color="#009900"/><stop offset="0.5679" stop-color="#009c1a"/><stop offset="0.5849" stop-color="#00a666"/><stop offset="0.5906" stop-color="#00aa85"/><stop offset="0.6113" stop-color="#00aaa9"/><stop offset="0.6302" stop-color="#0097dd"/><stop offset="0.6509" stop-color="#0077dd"/><stop offset="0.6679" stop-color="#003ddd"/><stop offset="0.6906" stop-color="#0023dd"/><stop offset="0.7" stop-color="#0001dd"/><stop offset="0.7019" stop-color="#0000da"/><stop offset="0.7094" stop-color="#0000cd"/><stop offset="0.717" stop-color="#0000af"/><stop offset="0.7189" stop-color="#0800a9"/><stop offset="0.7283" stop-color="#70009c"/><stop offset="0.7321" stop-color="#850099"/><stop offset="0.734" stop-color="#870098"/><stop offset="0.7358" stop-color="#860097"/><stop offset="0.7377" stop-color="#6d009c"/><stop offset="0.7396" stop-color="#6d009c"/><stop offset="0.7415" stop-color="#0088dd"/><stop offset="0.7453" stop-color="#0088dd"/><stop offset="0.7472" stop-color="#0000d8"/><stop offset="0.7566" stop-color="#0000d8"/><stop offset="0.7585" stop-color="#0082dd"/><stop offset="0.7623" stop-color="#0082dd"/><stop offset="0.7642" stop-color="#0000d2"/><stop offset="0.7811" stop-color="#0000d2"/><stop offset="0.783" stop-color="#007fdd"/><stop offset="0.7868" stop-color="#007fdd"/><stop offset="0.7887" stop-color="#0000d8"/><stop offset="0.7943" stop-color="#0000d8"/><stop offset="0.7962" stop-color="#0088dd"/><stop offset="0.8019" stop-color="#0088dd"/><stop offset="0.8038" stop-color="#4f00a0"/><stop offset="0.817" stop-color="#4f00a0"/><stop offset="0.8189" stop-color="#0000ce"/><stop offset="0.8208" stop-color="#0000ce"/><stop offset="0.8226" stop-color="#800091"/><stop offset="0.8264" stop-color="#780089"/><stop offset="0.8321" stop-color="#400049"/><stop offset="0.9057" stop-color="#240029"/><stop offset="1" stop-color="#0e0010"/></linearGradient><linearGradient id="gL16" gradientUnits="userSpaceOnUse" x1="50.0" x2="315.0"><stop offset="0" stop-color="#0e0010"/><stop offset="0.2" stop-color="#110013"/><stop offset="0.2019" stop-color="#1b001e"/><stop offset="0.2057" stop-color="#3c0045"/><stop offset="0.2094" stop-color="#6b007a"/><stop offset="0.2113" stop-color="#79008a"/><stop offset="0.2264" stop-color="#870098"/><stop offset="0.2283" stop-color="#7f009a"/><stop offset="0.2321" stop-color="#2400a5"/><stop offset="0.234" stop-color="#0000ac"/><stop offset="0.2434" stop-color="#0002dd"/><stop offset="0.2623" stop-color="#0078dd"/><stop offset="0.2981" stop-color="#0098dd"/><stop offset="0.3509" stop-color="#00aaab"/><stop offset="0.4075" stop-color="#00aa88"/><stop offset="0.4358" stop-color="#009c1b"/><stop offset="0.4566" stop-color="#009901"/><stop offset="0.5415" stop-color="#009a00"/><stop offset="0.5547" stop-color="#009c1b"/><stop offset="0.5698" stop-color="#00a76d"/><stop offset="0.5755" stop-color="#00aa85"/><stop offset="0.6057" stop-color="#00aaaa"/><stop offset="0.6264" stop-color="#0099dd"/><stop offset="0.6472" stop-color="#0074dd"/><stop offset="0.6566" stop-color="#0047dd"/><stop offset="0.6755" stop-color="#000cdd"/><stop offset="0.6868" stop-color="#0000dd"/><stop offset="0.6981" stop-color="#0000d8"/><stop offset="0.7094" stop-color="#0000ca"/><stop offset="0.7132" stop-color="#0000c3"/><stop offset="0.7189" stop-color="#0000aa"/><stop offset="0.7283" stop-color="#6e009c"/><stop offset="0.7321" stop-color="#870099"/><stop offset="0.734" stop-color="#870098"/><stop offset="0.7358" stop-color="#860097"/><stop offset="0.7377" stop-color="#6d009c"/><stop offset="0.7396" stop-color="#6d009c"/><stop offset="0.7415" stop-color="#0088dd"/><stop offset="0.7453" stop-color="#0088dd"/><stop offset="0.7472" stop-color="#0000d8"/><stop offset="0.7566" stop-color="#0000d8"/><stop offset="0.7585" stop-color="#0082dd"/><stop offset="0.7623" stop-color="#0082dd"/><stop offset="0.7642" stop-color="#0000d2"/><stop offset="0.7811" stop-color="#0000d2"/><stop offset="0.783" stop-color="#007fdd"/><stop offset="0.7868" stop-color="#007fdd"/><stop offset="0.7887" stop-color="#0000d8"/><stop offset="0.7943" stop-color="#0000d8"/><stop offset="0.7962" stop-color="#0088dd"/><stop offset="0.8019" stop-color="#0088dd"/><stop offset="0.8038" stop-color="#4f00a0"/><stop offset="0.817" stop-color="#4f00a0"/><stop offset="0.8189" stop-color="#0000ce"/><stop offset="0.8208" stop-color="#0000ce"/><stop offset="0.8226" stop-color="#800091"/><stop offset="0.8264" stop-color="#780089"/><stop offset="0.8321" stop-color="#400049"/><stop offset="0.9057" stop-color="#240029"/><stop offset="1" stop-color="#0e0010"/></linearGradient><linearGradient id="gL17" gradientUnits="userSpaceOnUse" x1="50.0" x2="315.0"><stop offset="0" stop-color="#0e0010"/><stop offset="0.2" stop-color="#110013"/><stop offset="0.2019" stop-color="#1b001e"/><stop offset="0.2057" stop-color="#3c0045"/><stop offset="0.2094" stop-color="#6b007a"/><stop offset="0.2113" stop-color="#79008a"/><stop offset="0.2264" stop-color="#870098"/><stop offset="0.2283" stop-color="#7f009a"/><stop offset="0.2321" stop-color="#2400a5"/><stop offset="0.234" stop-color="#0000ac"/><stop offset="0.2434" stop-color="#0001dd"/><stop offset="0.2604" stop-color="#006add"/><stop offset="0.2642" stop-color="#0078dd"/><stop offset="0.3019" stop-color="#0099dd"/><stop offset="0.3566" stop-color="#00aaaa"/><stop offset="0.4094" stop-color="#00aa89"/><stop offset="0.4226" stop-color="#00a55d"/><stop offset="0.4377" stop-color="#009d1c"/><stop offset="0.4604" stop-color="#009900"/><stop offset="0.5396" stop-color="#009a00"/><stop offset="0.5528" stop-color="#009c1a"/><stop offset="0.5698" stop-color="#00a878"/><stop offset="0.5736" stop-color="#00aa88"/><stop offset="0.6038" stop-color="#00aaaa"/><stop offset="0.6264" stop-color="#0097dd"/><stop offset="0.6453" stop-color="#0077dd"/><stop offset="0.6566" stop-color="#0042dd"/><stop offset="0.6755" stop-color="#0007dd"/><stop offset="0.683" stop-color="#0000dd"/><stop offset="0.7075" stop-color="#0000cc"/><stop offset="0.7132" stop-color="#0000c2"/><stop offset="0.7189" stop-color="#0100aa"/><stop offset="0.7283" stop-color="#6f009c"/><stop offset="0.7321" stop-color="#870099"/><stop offset="0.7358" stop-color="#860097"/><stop offset="0.7377" stop-color="#6d009c"/><stop offset="0.7396" stop-color="#6d009c"/><stop offset="0.7415" stop-color="#0088dd"/><stop offset="0.7453" stop-color="#0088dd"/><stop offset="0.7472" stop-color="#0000d8"/><stop offset="0.7566" stop-color="#0000d8"/><stop offset="0.7585" stop-color="#0082dd"/><stop offset="0.7623" stop-color="#0082dd"/><stop offset="0.7642" stop-color="#0000d2"/><stop offset="0.7811" stop-color="#0000d2"/><stop offset="0.783" stop-color="#007fdd"/><stop offset="0.7868" stop-color="#007fdd"/><stop offset="0.7887" stop-color="#0000d8"/><stop offset="0.7943" stop-color="#0000d8"/><stop offset="0.7962" stop-color="#0088dd"/><stop offset="0.8019" stop-color="#0088dd"/><stop offset="0.8038" stop-color="#4f00a0"/><stop offset="0.817" stop-color="#4f00a0"/><stop offset="0.8189" stop-color="#0000ce"/><stop offset="0.8208" stop-color="#0000ce"/><stop offset="0.8226" stop-color="#800091"/><stop offset="0.8264" stop-color="#780089"/><stop offset="0.8321" stop-color="#400049"/><stop offset="0.9057" stop-color="#240029"/><stop offset="1" stop-color="#0e0010"/></linearGradient><linearGradient id="gL18" gradientUnits="userSpaceOnUse" x1="50.0" x2="315.0"><stop offset="0" stop-color="#0e0010"/><stop offset="0.2" stop-color="#110013"/><stop offset="0.2019" stop-color="#1b001e"/><stop offset="0.2057" stop-color="#3c0045"/><stop offset="0.2094" stop-color="#6b007a"/><stop offset="0.2113" stop-color="#79008a"/><stop offset="0.2264" stop-color="#870098"/><stop offset="0.2283" stop-color="#7f009a"/><stop offset="0.2321" stop-color="#2400a5"/><stop offset="0.234" stop-color="#0000ac"/><stop offset="0.2434" stop-color="#0001dd"/><stop offset="0.2604" stop-color="#006add"/><stop offset="0.2642" stop-color="#0078dd"/><stop offset="0.3019" stop-color="#0099dd"/><stop offset="0.3566" stop-color="#00aaaa"/><stop offset="0.4094" stop-color="#00aa89"/><stop offset="0.4226" stop-color="#00a55d"/><stop offset="0.4377" stop-color="#009d1c"/><stop offset="0.4604" stop-color="#009900"/><stop offset="0.5396" stop-color="#009a00"/><stop offset="0.5528" stop-color="#009c1a"/><stop offset="0.5698" stop-color="#00a878"/><stop offset="0.5736" stop-color="#00aa88"/><stop offset="0.6038" stop-color="#00aaaa"/><stop offset="0.6264" stop-color="#0097dd"/><stop offset="0.6453" stop-color="#0077dd"/><stop offset="0.6566" stop-color="#0042dd"/><stop offset="0.6755" stop-color="#0007dd"/><stop offset="0.683" stop-color="#0000dd"/><stop offset="0.7075" stop-color="#0000cc"/><stop offset="0.7132" stop-color="#0000c2"/><stop offset="0.7189" stop-color="#0100aa"/><stop offset="0.7283" stop-color="#6f009c"/><stop offset="0.7321" stop-color="#870099"/><stop offset="0.7358" stop-color="#860097"/><stop offset="0.7377" stop-color="#6d009c"/><stop offset="0.7396" stop-color="#6d009c"/><stop offset="0.7415" stop-color="#0088dd"/><stop offset="0.7453" stop-color="#0088dd"/><stop offset="0.7472" stop-color="#0000d8"/><stop offset="0.7566" stop-color="#0000d8"/><stop offset="0.7585" stop-color="#0082dd"/><stop offset="0.7623" stop-color="#0082dd"/><stop offset="0.7642" stop-color="#0000d2"/><stop offset="0.7811" stop-color="#0000d2"/><stop offset="0.783" stop-color="#007fdd"/><stop offset="0.7868" stop-color="#007fdd"/><stop offset="0.7887" stop-color="#0000d8"/><stop offset="0.7943" stop-color="#0000d8"/><stop offset="0.7962" stop-color="#0088dd"/><stop offset="0.8019" stop-color="#0088dd"/><stop offset="0.8038" stop-color="#4f00a0"/><stop offset="0.817" stop-color="#4f00a0"/><stop offset="0.8189" stop-color="#0000ce"/><stop offset="0.8208" stop-color="#0000ce"/><stop offset="0.8226" stop-color="#800091"/><stop offset="0.8264" stop-color="#780089"/><stop offset="0.8321" stop-color="#400049"/><stop offset="0.9057" stop-color="#240029"/><stop offset="1" stop-color="#0e0010"/></linearGradient><linearGradient id="gL19" gradientUnits="userSpaceOnUse" x1="50.0" x2="315.0"><stop offset="0" stop-color="#0e0010"/><stop offset="0.2038" stop-color="#110013"/><stop offset="0.2491" stop-color="#2d0034"/><stop offset="0.2906" stop-color="#400049"/><stop offset="0.4717" stop-color="#45004f"/><stop offset="0.4981" stop-color="#320039"/><stop offset="0.8377" stop-color="#1f0023"/><stop offset="0.8679" stop-color="#150018"/><stop offset="1" stop-color="#0c000e"/></linearGradient><linearGradient id="gL20" gradientUnits="userSpaceOnUse" x1="50.0" x2="315.0"><stop offset="0" stop-color="#0e0010"/><stop offset="0.1925" stop-color="#110013"/><stop offset="0.1943" stop-color="#1e0023"/><stop offset="0.1981" stop-color="#630071"/><stop offset="0.2" stop-color="#79008a"/><stop offset="0.2057" stop-color="#880099"/><stop offset="0.2075" stop-color="#2900a5"/><stop offset="0.2094" stop-color="#0000be"/><stop offset="0.2113" stop-color="#0000d8"/><stop offset="0.2132" stop-color="#0030dd"/><stop offset="0.2151" stop-color="#006fdd"/><stop offset="0.2189" stop-color="#0099dd"/><stop offset="0.2208" stop-color="#00a4bb"/><stop offset="0.2245" stop-color="#00aa88"/><stop offset="0.2264" stop-color="#009c1b"/><stop offset="0.2283" stop-color="#00ad00"/><stop offset="0.2302" stop-color="#00c900"/><stop offset="0.2453" stop-color="#00ee00"/><stop offset="0.2717" stop-color="#00ff00"/><stop offset="0.2943" stop-color="#40ff00"/><stop offset="0.3094" stop-color="#00fe00"/><stop offset="0.3585" stop-color="#00e700"/><stop offset="0.4" stop-color="#00eb00"/><stop offset="0.4264" stop-color="#00ff00"/><stop offset="0.4491" stop-color="#4bff00"/><stop offset="0.4755" stop-color="#00ff00"/><stop offset="0.4849" stop-color="#00f500"/><stop offset="0.5358" stop-color="#00e400"/><stop offset="0.5736" stop-color="#00ad00"/><stop offset="0.5962" stop-color="#009900"/><stop offset="0.6189" stop-color="#00a352"/><stop offset="0.6283" stop-color="#00aa88"/><stop offset="0.6547" stop-color="#00aaaa"/><stop offset="0.6906" stop-color="#0099dd"/><stop offset="0.7396" stop-color="#007edd"/><stop offset="0.7415" stop-color="#009cd3"/><stop offset="0.7453" stop-color="#009cd3"/><stop offset="0.7472" stop-color="#0000d8"/><stop offset="0.7566" stop-color="#0000d8"/><stop offset="0.7585" stop-color="#0099dc"/><stop offset="0.7623" stop-color="#0099dc"/><stop offset="0.7642" stop-color="#0000d2"/><stop offset="0.7811" stop-color="#0000d2"/><stop offset="0.783" stop-color="#0095dd"/><stop offset="0.7868" stop-color="#0095dd"/><stop offset="0.7887" stop-color="#0000d8"/><stop offset="0.7943" stop-color="#0000d8"/><stop offset="0.7962" stop-color="#009cd3"/><stop offset="0.8019" stop-color="#009cd3"/><stop offset="0.8038" stop-color="#880099"/><stop offset="0.817" stop-color="#880099"/><stop offset="0.8189" stop-color="#0000ce"/><stop offset="0.8208" stop-color="#0000ce"/><stop offset="0.8226" stop-color="#7a009b"/><stop offset="0.8547" stop-color="#880099"/><stop offset="0.8868" stop-color="#840095"/><stop offset="0.9132" stop-color="#780089"/><stop offset="0.9245" stop-color="#560062"/><stop offset="0.9434" stop-color="#320039"/><stop offset="0.9736" stop-color="#1a001e"/><stop offset="1" stop-color="#0e0010"/></linearGradient><linearGradient id="gL21" gradientUnits="userSpaceOnUse" x1="50.0" x2="315.0"><stop offset="0" stop-color="#0e0010"/><stop offset="0.1925" stop-color="#110013"/><stop offset="0.1943" stop-color="#1e0023"/><stop offset="0.1981" stop-color="#630071"/><stop offset="0.2" stop-color="#79008a"/><stop offset="0.2057" stop-color="#880099"/><stop offset="0.2075" stop-color="#2900a5"/><stop offset="0.2094" stop-color="#0000be"/><stop offset="0.2113" stop-color="#0000d8"/><stop offset="0.2132" stop-color="#0030dd"/><stop offset="0.2151" stop-color="#006fdd"/><stop offset="0.2189" stop-color="#0099dd"/><stop offset="0.2208" stop-color="#00a4bb"/><stop offset="0.2245" stop-color="#00aa88"/><stop offset="0.2264" stop-color="#009c1b"/><stop offset="0.2283" stop-color="#00ad00"/><stop offset="0.2302" stop-color="#00c900"/><stop offset="0.2453" stop-color="#00ee00"/><stop offset="0.2717" stop-color="#00ff00"/><stop offset="0.2943" stop-color="#40ff00"/><stop offset="0.3094" stop-color="#00fe00"/><stop offset="0.3585" stop-color="#00e700"/><stop offset="0.4" stop-color="#00eb00"/><stop offset="0.4264" stop-color="#00ff00"/><stop offset="0.4491" stop-color="#4bff00"/><stop offset="0.4755" stop-color="#00ff00"/><stop offset="0.4849" stop-color="#00f500"/><stop offset="0.5358" stop-color="#00e400"/><stop offset="0.5736" stop-color="#00ad00"/><stop offset="0.5962" stop-color="#009900"/><stop offset="0.6189" stop-color="#00a352"/><stop offset="0.6283" stop-color="#00aa88"/><stop offset="0.6547" stop-color="#00aaaa"/><stop offset="0.6906" stop-color="#0099dd"/><stop offset="0.7396" stop-color="#007edd"/><stop offset="0.7415" stop-color="#009cd3"/><stop offset="0.7453" stop-color="#009cd3"/><stop offset="0.7472" stop-color="#0000d8"/><stop offset="0.7566" stop-color="#0000d8"/><stop offset="0.7585" stop-color="#0099dc"/><stop offset="0.7623" stop-color="#0099dc"/><stop offset="0.7642" stop-color="#0000d2"/><stop offset="0.7811" stop-color="#0000d2"/><stop offset="0.783" stop-color="#0095dd"/><stop offset="0.7868" stop-color="#0095dd"/><stop offset="0.7887" stop-color="#0000d8"/><stop offset="0.7943" stop-color="#0000d8"/><stop offset="0.7962" stop-color="#009cd3"/><stop offset="0.8019" stop-color="#009cd3"/><stop offset="0.8038" stop-color="#880099"/><stop offset="0.817" stop-color="#880099"/><stop offset="0.8189" stop-color="#0000ce"/><stop offset="0.8208" stop-color="#0000ce"/><stop offset="0.8226" stop-color="#7a009b"/><stop offset="0.8547" stop-color="#880099"/><stop offset="0.8868" stop-color="#840095"/><stop offset="0.9132" stop-color="#780089"/><stop offset="0.9245" stop-color="#560062"/><stop offset="0.9434" stop-color="#320039"/><stop offset="0.9736" stop-color="#1a001e"/><stop offset="1" stop-color="#0e0010"/></linearGradient><linearGradient id="gR0" gradientUnits="userSpaceOnUse" x1="330.4" x2="595.0"><stop offset="0" stop-color="#0e0010"/><stop offset="0.1925" stop-color="#110013"/><stop offset="0.1943" stop-color="#1e0023"/><stop offset="0.1981" stop-color="#630071"/><stop offset="0.2" stop-color="#79008a"/><stop offset="0.2057" stop-color="#880099"/><stop offset="0.2075" stop-color="#2900a5"/><stop offset="0.2094" stop-color="#0000be"/><stop offset="0.2113" stop-color="#0000d8"/><stop offset="0.2132" stop-color="#0030dd"/><stop offset="0.2151" stop-color="#006fdd"/><stop offset="0.2189" stop-color="#0099dd"/><stop offset="0.2208" stop-color="#00a4bb"/><stop offset="0.2245" stop-color="#00aa88"/><stop offset="0.2264" stop-color="#009c1b"/><stop offset="0.2283" stop-color="#00ad00"/><stop offset="0.2302" stop-color="#00c900"/><stop offset="0.2453" stop-color="#00ee00"/><stop offset="0.2717" stop-color="#00ff00"/><stop offset="0.2943" stop-color="#40ff00"/><stop offset="0.3094" stop-color="#00fe00"/><stop offset="0.3585" stop-color="#00e700"/><stop offset="0.4" stop-color="#00eb00"/><stop offset="0.4264" stop-color="#00ff00"/><stop offset="0.4491" stop-color="#4bff00"/><stop offset="0.4755" stop-color="#00ff00"/><stop offset="0.483" stop-color="#00f500"/><stop offset="0.5189" stop-color="#00e700"/><stop offset="0.5358" stop-color="#00cf00"/><stop offset="0.5623" stop-color="#009900"/><stop offset="0.5887" stop-color="#00aa89"/><stop offset="0.6189" stop-color="#00aaaa"/><stop offset="0.6415" stop-color="#00a0c9"/><stop offset="0.666" stop-color="#0099dd"/><stop offset="0.7094" stop-color="#0081dd"/><stop offset="0.7132" stop-color="#0078dd"/><stop offset="0.7208" stop-color="#003cdd"/><stop offset="0.7283" stop-color="#000cdd"/><stop offset="0.734" stop-color="#0000dc"/><stop offset="0.7396" stop-color="#0000d8"/><stop offset="0.7415" stop-color="#008fdd"/><stop offset="0.7453" stop-color="#008fdd"/><stop offset="0.7472" stop-color="#0000d8"/><stop offset="0.7566" stop-color="#0000d8"/><stop offset="0.7585" stop-color="#0089dd"/><stop offset="0.7623" stop-color="#0089dd"/><stop offset="0.7642" stop-color="#0000d2"/><stop offset="0.7811" stop-color="#0000d2"/><stop offset="0.783" stop-color="#0085dd"/><stop offset="0.7868" stop-color="#0085dd"/><stop offset="0.7887" stop-color="#0000d8"/><stop offset="0.7943" stop-color="#0000d8"/><stop offset="0.7962" stop-color="#008fdd"/><stop offset="0.8019" stop-color="#008fdd"/><stop offset="0.8038" stop-color="#880099"/><stop offset="0.817" stop-color="#880099"/><stop offset="0.8189" stop-color="#0000ce"/><stop offset="0.8208" stop-color="#0000ce"/><stop offset="0.8226" stop-color="#7a009b"/><stop offset="0.8547" stop-color="#880099"/><stop offset="0.8868" stop-color="#840095"/><stop offset="0.9132" stop-color="#780089"/><stop offset="0.9245" stop-color="#560062"/><stop offset="0.9434" stop-color="#320039"/><stop offset="0.9736" stop-color="#1a001e"/><stop offset="1" stop-color="#0e0010"/></linearGradient><linearGradient id="gR1" gradientUnits="userSpaceOnUse" x1="330.4" x2="595.0"><stop offset="0" stop-color="#0e0010"/><stop offset="0.1925" stop-color="#110013"/><stop offset="0.1943" stop-color="#1e0023"/><stop offset="0.1981" stop-color="#630071"/><stop offset="0.2" stop-color="#79008a"/><stop offset="0.2057" stop-color="#880099"/><stop offset="0.2075" stop-color="#2900a5"/><stop offset="0.2094" stop-color="#0000be"/><stop offset="0.2113" stop-color="#0000d8"/><stop offset="0.2132" stop-color="#0030dd"/><stop offset="0.2151" stop-color="#006fdd"/><stop offset="0.2189" stop-color="#0099dd"/><stop offset="0.2208" stop-color="#00a4bb"/><stop offset="0.2245" stop-color="#00aa88"/><stop offset="0.2264" stop-color="#009c1b"/><stop offset="0.2283" stop-color="#00ad00"/><stop offset="0.2302" stop-color="#00c900"/><stop offset="0.2453" stop-color="#00ee00"/><stop offset="0.2717" stop-color="#00ff00"/><stop offset="0.2943" stop-color="#40ff00"/><stop offset="0.3094" stop-color="#00fe00"/><stop offset="0.3585" stop-color="#00e700"/><stop offset="0.4" stop-color="#00eb00"/><stop offset="0.4264" stop-color="#00ff00"/><stop offset="0.4491" stop-color="#4bff00"/><stop offset="0.4755" stop-color="#00ff00"/><stop offset="0.483" stop-color="#00f500"/><stop offset="0.5189" stop-color="#00e700"/><stop offset="0.5358" stop-color="#00cf00"/><stop offset="0.5623" stop-color="#009900"/><stop offset="0.5887" stop-color="#00aa89"/><stop offset="0.6189" stop-color="#00aaaa"/><stop offset="0.6415" stop-color="#00a0c9"/><stop offset="0.666" stop-color="#0099dd"/><stop offset="0.7094" stop-color="#0081dd"/><stop offset="0.7132" stop-color="#0078dd"/><stop offset="0.7208" stop-color="#003cdd"/><stop offset="0.7283" stop-color="#000cdd"/><stop offset="0.734" stop-color="#0000dc"/><stop offset="0.7396" stop-color="#0000d8"/><stop offset="0.7415" stop-color="#008fdd"/><stop offset="0.7453" stop-color="#008fdd"/><stop offset="0.7472" stop-color="#0000d8"/><stop offset="0.7566" stop-color="#0000d8"/><stop offset="0.7585" stop-color="#0089dd"/><stop offset="0.7623" stop-color="#0089dd"/><stop offset="0.7642" stop-color="#0000d2"/><stop offset="0.7811" stop-color="#0000d2"/><stop offset="0.783" stop-color="#0085dd"/><stop offset="0.7868" stop-color="#0085dd"/><stop offset="0.7887" stop-color="#0000d8"/><stop offset="0.7943" stop-color="#0000d8"/><stop offset="0.7962" stop-color="#008fdd"/><stop offset="0.8019" stop-color="#008fdd"/><stop offset="0.8038" stop-color="#880099"/><stop offset="0.817" stop-color="#880099"/><stop offset="0.8189" stop-color="#0000ce"/><stop offset="0.8208" stop-color="#0000ce"/><stop offset="0.8226" stop-color="#7a009b"/><stop offset="0.8547" stop-color="#880099"/><stop offset="0.8868" stop-color="#840095"/><stop offset="0.9132" stop-color="#780089"/><stop offset="0.9245" stop-color="#560062"/><stop offset="0.9434" stop-color="#320039"/><stop offset="0.9736" stop-color="#1a001e"/><stop offset="1" stop-color="#0e0010"/></linearGradient><linearGradient id="gR2" gradientUnits="userSpaceOnUse" x1="330.4" x2="595.0"><stop offset="0" stop-color="#0e0010"/><stop offset="0.2038" stop-color="#110013"/><stop offset="0.2113" stop-color="#28002e"/><stop offset="0.2264" stop-color="#3c0044"/><stop offset="0.4604" stop-color="#43004c"/><stop offset="0.466" stop-color="#6b007a"/><stop offset="0.4717" stop-color="#770088"/><stop offset="0.4774" stop-color="#79008a"/><stop offset="0.4811" stop-color="#860097"/><stop offset="0.4849" stop-color="#7a008b"/><stop offset="0.4906" stop-color="#750086"/><stop offset="0.4943" stop-color="#6b007a"/><stop offset="0.5" stop-color="#26002c"/><stop offset="0.8377" stop-color="#1d0021"/><stop offset="0.8868" stop-color="#130016"/><stop offset="1" stop-color="#0c000e"/></linearGradient><linearGradient id="gR3" gradientUnits="userSpaceOnUse" x1="330.4" x2="595.0"><stop offset="0" stop-color="#0e0010"/><stop offset="0.2" stop-color="#110013"/><stop offset="0.2019" stop-color="#1b001e"/><stop offset="0.2057" stop-color="#3c0045"/><stop offset="0.2094" stop-color="#6b007a"/><stop offset="0.2113" stop-color="#79008a"/><stop offset="0.2264" stop-color="#870098"/><stop offset="0.2283" stop-color="#7f009a"/><stop offset="0.2321" stop-color="#2400a5"/><stop offset="0.234" stop-color="#0000ac"/><stop offset="0.2434" stop-color="#0000db"/><stop offset="0.2604" stop-color="#0070dd"/><stop offset="0.266" stop-color="#007cdd"/><stop offset="0.2849" stop-color="#0089dd"/><stop offset="0.3415" stop-color="#0099dc"/><stop offset="0.4094" stop-color="#00aaa9"/><stop offset="0.4302" stop-color="#00aa9a"/><stop offset="0.4472" stop-color="#00aa86"/><stop offset="0.4642" stop-color="#009f32"/><stop offset="0.4774" stop-color="#009c1b"/><stop offset="0.483" stop-color="#009c18"/><stop offset="0.4906" stop-color="#009d1e"/><stop offset="0.5019" stop-color="#009f33"/><stop offset="0.5132" stop-color="#00aa89"/><stop offset="0.5283" stop-color="#00aaa9"/><stop offset="0.5509" stop-color="#009ada"/><stop offset="0.5811" stop-color="#0074dd"/><stop offset="0.6038" stop-color="#0010dd"/><stop offset="0.6113" stop-color="#0000db"/><stop offset="0.6226" stop-color="#0000ce"/><stop offset="0.6491" stop-color="#0000c0"/><stop offset="0.6717" stop-color="#0100aa"/><stop offset="0.6925" stop-color="#4000a2"/><stop offset="0.7132" stop-color="#67009d"/><stop offset="0.7264" stop-color="#870099"/><stop offset="0.7377" stop-color="#860097"/><stop offset="0.7396" stop-color="#5200a0"/><stop offset="0.7415" stop-color="#00aaa3"/><stop offset="0.7491" stop-color="#00aaa3"/><stop offset="0.7509" stop-color="#0000d8"/><stop offset="0.7547" stop-color="#0000d8"/><stop offset="0.7566" stop-color="#009fca"/><stop offset="0.7755" stop-color="#009fca"/><stop offset="0.7774" stop-color="#0000d8"/><stop offset="0.7792" stop-color="#0000d8"/><stop offset="0.7811" stop-color="#0099dd"/><stop offset="0.7887" stop-color="#0099dd"/><stop offset="0.7906" stop-color="#0000d8"/><stop offset="0.7943" stop-color="#0000d8"/><stop offset="0.7962" stop-color="#00a8b0"/><stop offset="0.8075" stop-color="#00a8b0"/><stop offset="0.8094" stop-color="#0000ce"/><stop offset="0.8208" stop-color="#0000ce"/><stop offset="0.8226" stop-color="#860097"/><stop offset="0.8264" stop-color="#850096"/><stop offset="0.8283" stop-color="#730083"/><stop offset="0.8302" stop-color="#5b0068"/><stop offset="0.8377" stop-color="#470052"/><stop offset="0.9057" stop-color="#26002c"/><stop offset="1" stop-color="#0e0010"/></linearGradient><linearGradient id="gR4" gradientUnits="userSpaceOnUse" x1="330.4" x2="595.0"><stop offset="0" stop-color="#0e0010"/><stop offset="0.2" stop-color="#110013"/><stop offset="0.2019" stop-color="#1b001e"/><stop offset="0.2057" stop-color="#3c0045"/><stop offset="0.2094" stop-color="#6b007a"/><stop offset="0.2113" stop-color="#79008a"/><stop offset="0.2264" stop-color="#870098"/><stop offset="0.2283" stop-color="#7f009a"/><stop offset="0.2321" stop-color="#2400a5"/><stop offset="0.234" stop-color="#0000ac"/><stop offset="0.2415" stop-color="#0000d9"/><stop offset="0.2453" stop-color="#001add"/><stop offset="0.2547" stop-color="#0071dd"/><stop offset="0.2585" stop-color="#007fdd"/><stop offset="0.2642" stop-color="#0087dd"/><stop offset="0.2849" stop-color="#0098dd"/><stop offset="0.3396" stop-color="#00a1c5"/><stop offset="0.3755" stop-color="#00aaa9"/><stop offset="0.4208" stop-color="#00aa89"/><stop offset="0.4302" stop-color="#00a668"/><stop offset="0.4453" stop-color="#009c1b"/><stop offset="0.4623" stop-color="#009902"/><stop offset="0.5019" stop-color="#009900"/><stop offset="0.5132" stop-color="#009c19"/><stop offset="0.5151" stop-color="#009d22"/><stop offset="0.5264" stop-color="#00aa89"/><stop offset="0.5453" stop-color="#00aaab"/><stop offset="0.5698" stop-color="#0098dd"/><stop offset="0.5943" stop-color="#0077dd"/><stop offset="0.6038" stop-color="#0048dd"/><stop offset="0.6226" stop-color="#000edd"/><stop offset="0.6321" stop-color="#0001dd"/><stop offset="0.6491" stop-color="#0000d4"/><stop offset="0.6849" stop-color="#0100aa"/><stop offset="0.7245" stop-color="#7c009a"/><stop offset="0.7302" stop-color="#880099"/><stop offset="0.7377" stop-color="#860097"/><stop offset="0.7396" stop-color="#5200a0"/><stop offset="0.7415" stop-color="#00aaa3"/><stop offset="0.7491" stop-color="#00aaa3"/><stop offset="0.7509" stop-color="#0000d8"/><stop offset="0.7547" stop-color="#0000d8"/><stop offset="0.7566" stop-color="#009fca"/><stop offset="0.7755" stop-color="#009fca"/><stop offset="0.7774" stop-color="#0000d8"/><stop offset="0.7792" stop-color="#0000d8"/><stop offset="0.7811" stop-color="#0099dd"/><stop offset="0.7887" stop-color="#0099dd"/><stop offset="0.7906" stop-color="#0000d8"/><stop offset="0.7943" stop-color="#0000d8"/><stop offset="0.7962" stop-color="#00a8b0"/><stop offset="0.8075" stop-color="#00a8b0"/><stop offset="0.8094" stop-color="#0000ce"/><stop offset="0.8208" stop-color="#0000ce"/><stop offset="0.8226" stop-color="#860097"/><stop offset="0.8264" stop-color="#850096"/><stop offset="0.8283" stop-color="#730083"/><stop offset="0.8302" stop-color="#5b0068"/><stop offset="0.8377" stop-color="#470052"/><stop offset="0.9057" stop-color="#26002c"/><stop offset="1" stop-color="#0e0010"/></linearGradient><linearGradient id="gR5" gradientUnits="userSpaceOnUse" x1="330.4" x2="595.0"><stop offset="0" stop-color="#0e0010"/><stop offset="0.2" stop-color="#110013"/><stop offset="0.2019" stop-color="#1b001e"/><stop offset="0.2057" stop-color="#3c0045"/><stop offset="0.2094" stop-color="#6b007a"/><stop offset="0.2113" stop-color="#79008a"/><stop offset="0.2264" stop-color="#870098"/><stop offset="0.2283" stop-color="#7f009a"/><stop offset="0.2321" stop-color="#2400a5"/><stop offset="0.234" stop-color="#0000ac"/><stop offset="0.2415" stop-color="#0000db"/><stop offset="0.2528" stop-color="#0077dd"/><stop offset="0.2623" stop-color="#0090dd"/><stop offset="0.2717" stop-color="#0099dd"/><stop offset="0.2849" stop-color="#009fcc"/><stop offset="0.3509" stop-color="#00aaa9"/><stop offset="0.4075" stop-color="#00aa86"/><stop offset="0.4302" stop-color="#00a034"/><stop offset="0.4358" stop-color="#009c1a"/><stop offset="0.4547" stop-color="#009900"/><stop offset="0.483" stop-color="#009f00"/><stop offset="0.5075" stop-color="#009900"/><stop offset="0.5189" stop-color="#009c1a"/><stop offset="0.5283" stop-color="#00a772"/><stop offset="0.5321" stop-color="#00aa89"/><stop offset="0.5509" stop-color="#00aaa9"/><stop offset="0.5755" stop-color="#0099dd"/><stop offset="0.5981" stop-color="#0078dd"/><stop offset="0.6038" stop-color="#005edd"/><stop offset="0.6226" stop-color="#0022dd"/><stop offset="0.6472" stop-color="#0000dd"/><stop offset="0.6906" stop-color="#0300aa"/><stop offset="0.7245" stop-color="#79009b"/><stop offset="0.7302" stop-color="#860099"/><stop offset="0.7377" stop-color="#860097"/><stop offset="0.7396" stop-color="#5200a0"/><stop offset="0.7415" stop-color="#00aaa3"/><stop offset="0.7491" stop-color="#00aaa3"/><stop offset="0.7509" stop-color="#0000d8"/><stop offset="0.7547" stop-color="#0000d8"/><stop offset="0.7566" stop-color="#009fca"/><stop offset="0.7755" stop-color="#009fca"/><stop offset="0.7774" stop-color="#0000d8"/><stop offset="0.7792" stop-color="#0000d8"/><stop offset="0.7811" stop-color="#0099dd"/><stop offset="0.7887" stop-color="#0099dd"/><stop offset="0.7906" stop-color="#0000d8"/><stop offset="0.7943" stop-color="#0000d8"/><stop offset="0.7962" stop-color="#00a8b0"/><stop offset="0.8075" stop-color="#00a8b0"/><stop offset="0.8094" stop-color="#0000ce"/><stop offset="0.8208" stop-color="#0000ce"/><stop offset="0.8226" stop-color="#860097"/><stop offset="0.8264" stop-color="#850096"/><stop offset="0.8283" stop-color="#730083"/><stop offset="0.8302" stop-color="#5b0068"/><stop offset="0.8377" stop-color="#470052"/><stop offset="0.9057" stop-color="#26002c"/><stop offset="1" stop-color="#0e0010"/></linearGradient><linearGradient id="gR6" gradientUnits="userSpaceOnUse" x1="330.4" x2="595.0"><stop offset="0" stop-color="#0e0010"/><stop offset="0.2" stop-color="#110013"/><stop offset="0.2019" stop-color="#1b001e"/><stop offset="0.2057" stop-color="#3c0045"/><stop offset="0.2094" stop-color="#6b007a"/><stop offset="0.2113" stop-color="#79008a"/><stop offset="0.2264" stop-color="#870098"/><stop offset="0.2283" stop-color="#7f009a"/><stop offset="0.2321" stop-color="#2400a5"/><stop offset="0.234" stop-color="#0000ac"/><stop offset="0.2434" stop-color="#0000dc"/><stop offset="0.2604" stop-color="#0050dd"/><stop offset="0.2755" stop-color="#0077dd"/><stop offset="0.3623" stop-color="#0099dd"/><stop offset="0.3774" stop-color="#009dd1"/><stop offset="0.4113" stop-color="#00aaaa"/><stop offset="0.4377" stop-color="#00aa8a"/><stop offset="0.4396" stop-color="#00a984"/><stop offset="0.4566" stop-color="#009d1e"/><stop offset="0.4585" stop-color="#009c19"/><stop offset="0.4642" stop-color="#009b11"/><stop offset="0.483" stop-color="#009a07"/><stop offset="0.5019" stop-color="#009b11"/><stop offset="0.5057" stop-color="#009c18"/><stop offset="0.5075" stop-color="#009d20"/><stop offset="0.5189" stop-color="#00a980"/><stop offset="0.5208" stop-color="#00aa8a"/><stop offset="0.5377" stop-color="#00aaab"/><stop offset="0.5623" stop-color="#0097dd"/><stop offset="0.5868" stop-color="#0078dd"/><stop offset="0.6038" stop-color="#002cdd"/><stop offset="0.6189" stop-color="#0000dd"/><stop offset="0.6491" stop-color="#0000ca"/><stop offset="0.6774" stop-color="#0000ab"/><stop offset="0.6925" stop-color="#2c00a4"/><stop offset="0.7283" stop-color="#870099"/><stop offset="0.7377" stop-color="#860097"/><stop offset="0.7396" stop-color="#5200a0"/><stop offset="0.7415" stop-color="#00aaa3"/><stop offset="0.7491" stop-color="#00aaa3"/><stop offset="0.7509" stop-color="#0000d8"/><stop offset="0.7547" stop-color="#0000d8"/><stop offset="0.7566" stop-color="#009fca"/><stop offset="0.7755" stop-color="#009fca"/><stop offset="0.7774" stop-color="#0000d8"/><stop offset="0.7792" stop-color="#0000d8"/><stop offset="0.7811" stop-color="#0099dd"/><stop offset="0.7887" stop-color="#0099dd"/><stop offset="0.7906" stop-color="#0000d8"/><stop offset="0.7943" stop-color="#0000d8"/><stop offset="0.7962" stop-color="#00a8b0"/><stop offset="0.8075" stop-color="#00a8b0"/><stop offset="0.8094" stop-color="#0000ce"/><stop offset="0.8208" stop-color="#0000ce"/><stop offset="0.8226" stop-color="#860097"/><stop offset="0.8264" stop-color="#850096"/><stop offset="0.8283" stop-color="#730083"/><stop offset="0.8302" stop-color="#5b0068"/><stop offset="0.8377" stop-color="#470052"/><stop offset="0.9057" stop-color="#26002c"/><stop offset="1" stop-color="#0e0010"/></linearGradient><linearGradient id="gR7" gradientUnits="userSpaceOnUse" x1="330.4" x2="595.0"><stop offset="0" stop-color="#0e0010"/><stop offset="0.2" stop-color="#110013"/><stop offset="0.2019" stop-color="#1b001e"/><stop offset="0.2057" stop-color="#3c0045"/><stop offset="0.2094" stop-color="#6b007a"/><stop offset="0.2113" stop-color="#79008a"/><stop offset="0.2264" stop-color="#870098"/><stop offset="0.2283" stop-color="#7f009a"/><stop offset="0.2321" stop-color="#2400a5"/><stop offset="0.234" stop-color="#0000ac"/><stop offset="0.2415" stop-color="#0000d8"/><stop offset="0.2434" stop-color="#0006dd"/><stop offset="0.2585" stop-color="#006cdd"/><stop offset="0.2623" stop-color="#0078dd"/><stop offset="0.2849" stop-color="#0089dd"/><stop offset="0.3358" stop-color="#0099dd"/><stop offset="0.3774" stop-color="#00a4bd"/><stop offset="0.3943" stop-color="#00aaa9"/><stop offset="0.4264" stop-color="#00aa88"/><stop offset="0.4302" stop-color="#00a878"/><stop offset="0.4453" stop-color="#009c1b"/><stop offset="0.4604" stop-color="#009903"/><stop offset="0.5019" stop-color="#009a00"/><stop offset="0.5151" stop-color="#009c1a"/><stop offset="0.5264" stop-color="#00a981"/><stop offset="0.5283" stop-color="#00aa8b"/><stop offset="0.5472" stop-color="#00a9ac"/><stop offset="0.5717" stop-color="#0098dd"/><stop offset="0.5943" stop-color="#0079dd"/><stop offset="0.6038" stop-color="#004edd"/><stop offset="0.6226" stop-color="#0013dd"/><stop offset="0.6358" stop-color="#0001dd"/><stop offset="0.6491" stop-color="#0000d6"/><stop offset="0.6849" stop-color="#0000ab"/><stop offset="0.7132" stop-color="#5300a0"/><stop offset="0.7245" stop-color="#7b009b"/><stop offset="0.7302" stop-color="#880099"/><stop offset="0.7377" stop-color="#860097"/><stop offset="0.7396" stop-color="#5200a0"/><stop offset="0.7415" stop-color="#00aaa3"/><stop offset="0.7491" stop-color="#00aaa3"/><stop offset="0.7509" stop-color="#0000d8"/><stop offset="0.7547" stop-color="#0000d8"/><stop offset="0.7566" stop-color="#009fca"/><stop offset="0.7755" stop-color="#009fca"/><stop offset="0.7774" stop-color="#0000d8"/><stop offset="0.7792" stop-color="#0000d8"/><stop offset="0.7811" stop-color="#0099dd"/><stop offset="0.7887" stop-color="#0099dd"/><stop offset="0.7906" stop-color="#0000d8"/><stop offset="0.7943" stop-color="#0000d8"/><stop offset="0.7962" stop-color="#00a8b0"/><stop offset="0.8075" stop-color="#00a8b0"/><stop offset="0.8094" stop-color="#0000ce"/><stop offset="0.8208" stop-color="#0000ce"/><stop offset="0.8226" stop-color="#860097"/><stop offset="0.8264" stop-color="#850096"/><stop offset="0.8283" stop-color="#730083"/><stop offset="0.8302" stop-color="#5b0068"/><stop offset="0.8377" stop-color="#470052"/><stop offset="0.9057" stop-color="#26002c"/><stop offset="1" stop-color="#0e0010"/></linearGradient><linearGradient id="gR8" gradientUnits="userSpaceOnUse" x1="330.4" x2="595.0"><stop offset="0" stop-color="#0e0010"/><stop offset="0.2" stop-color="#110013"/><stop offset="0.2019" stop-color="#1b001e"/><stop offset="0.2057" stop-color="#3c0045"/><stop offset="0.2094" stop-color="#6b007a"/><stop offset="0.2113" stop-color="#79008a"/><stop offset="0.2264" stop-color="#870098"/><stop offset="0.2283" stop-color="#7f009a"/><stop offset="0.2321" stop-color="#2400a5"/><stop offset="0.234" stop-color="#0000ac"/><stop offset="0.2415" stop-color="#0000db"/><stop offset="0.2547" stop-color="#0078dd"/><stop offset="0.2604" stop-color="#0086dd"/><stop offset="0.2849" stop-color="#009ad9"/><stop offset="0.3396" stop-color="#00a3bf"/><stop offset="0.366" stop-color="#00aaa9"/><stop offset="0.4113" stop-color="#00aa87"/><stop offset="0.4302" stop-color="#009f32"/><stop offset="0.434" stop-color="#009c1b"/><stop offset="0.4509" stop-color="#009901"/><stop offset="0.483" stop-color="#00a100"/><stop offset="0.5094" stop-color="#009a00"/><stop offset="0.5208" stop-color="#009c19"/><stop offset="0.5226" stop-color="#009d24"/><stop offset="0.5283" stop-color="#00a55c"/><stop offset="0.534" stop-color="#00aa87"/><stop offset="0.5547" stop-color="#00aaab"/><stop offset="0.5792" stop-color="#0097dd"/><stop offset="0.6" stop-color="#0079dd"/><stop offset="0.6226" stop-color="#002cdd"/><stop offset="0.6509" stop-color="#0002dd"/><stop offset="0.6925" stop-color="#0100aa"/><stop offset="0.7245" stop-color="#77009b"/><stop offset="0.7321" stop-color="#880099"/><stop offset="0.7377" stop-color="#860097"/><stop offset="0.7396" stop-color="#5200a0"/><stop offset="0.7415" stop-color="#00aaa3"/><stop offset="0.7491" stop-color="#00aaa3"/><stop offset="0.7509" stop-color="#0000d8"/><stop offset="0.7547" stop-color="#0000d8"/><stop offset="0.7566" stop-color="#009fca"/><stop offset="0.7755" stop-color="#009fca"/><stop offset="0.7774" stop-color="#0000d8"/><stop offset="0.7792" stop-color="#0000d8"/><stop offset="0.7811" stop-color="#0099dd"/><stop offset="0.7887" stop-color="#0099dd"/><stop offset="0.7906" stop-color="#0000d8"/><stop offset="0.7943" stop-color="#0000d8"/><stop offset="0.7962" stop-color="#00a8b0"/><stop offset="0.8075" stop-color="#00a8b0"/><stop offset="0.8094" stop-color="#0000ce"/><stop offset="0.8208" stop-color="#0000ce"/><stop offset="0.8226" stop-color="#860097"/><stop offset="0.8264" stop-color="#850096"/><stop offset="0.8283" stop-color="#730083"/><stop offset="0.8302" stop-color="#5b0068"/><stop offset="0.8377" stop-color="#470052"/><stop offset="0.9057" stop-color="#26002c"/><stop offset="1" stop-color="#0e0010"/></linearGradient><linearGradient id="gR9" gradientUnits="userSpaceOnUse" x1="330.4" x2="595.0"><stop offset="0" stop-color="#0e0010"/><stop offset="0.2" stop-color="#110013"/><stop offset="0.2019" stop-color="#1b001e"/><stop offset="0.2057" stop-color="#3c0045"/><stop offset="0.2094" stop-color="#6b007a"/><stop offset="0.2113" stop-color="#79008a"/><stop offset="0.2264" stop-color="#870098"/><stop offset="0.2283" stop-color="#7f009a"/><stop offset="0.2321" stop-color="#2400a5"/><stop offset="0.234" stop-color="#0000ac"/><stop offset="0.2434" stop-color="#0000dd"/><stop offset="0.2604" stop-color="#005cdd"/><stop offset="0.2717" stop-color="#0078dd"/><stop offset="0.2849" stop-color="#0082dd"/><stop offset="0.3528" stop-color="#0099dd"/><stop offset="0.3774" stop-color="#009fca"/><stop offset="0.4075" stop-color="#00aaa9"/><stop offset="0.434" stop-color="#00aa89"/><stop offset="0.4358" stop-color="#00a983"/><stop offset="0.4528" stop-color="#009c1c"/><stop offset="0.4642" stop-color="#009a0a"/><stop offset="0.483" stop-color="#009900"/><stop offset="0.5019" stop-color="#009a0a"/><stop offset="0.5094" stop-color="#009c1a"/><stop offset="0.5226" stop-color="#00aa89"/><stop offset="0.5396" stop-color="#00aaa9"/><stop offset="0.5642" stop-color="#0099dd"/><stop offset="0.5906" stop-color="#0077dd"/><stop offset="0.6038" stop-color="#0037dd"/><stop offset="0.6226" stop-color="#0000dc"/><stop offset="0.6491" stop-color="#0000ce"/><stop offset="0.6811" stop-color="#0100aa"/><stop offset="0.7245" stop-color="#7f009a"/><stop offset="0.7302" stop-color="#880099"/><stop offset="0.7377" stop-color="#860097"/><stop offset="0.7396" stop-color="#5200a0"/><stop offset="0.7415" stop-color="#00aaa3"/><stop offset="0.7491" stop-color="#00aaa3"/><stop offset="0.7509" stop-color="#0000d8"/><stop offset="0.7547" stop-color="#0000d8"/><stop offset="0.7566" stop-color="#009fca"/><stop offset="0.7755" stop-color="#009fca"/><stop offset="0.7774" stop-color="#0000d8"/><stop offset="0.7792" stop-color="#0000d8"/><stop offset="0.7811" stop-color="#0099dd"/><stop offset="0.7887" stop-color="#0099dd"/><stop offset="0.7906" stop-color="#0000d8"/><stop offset="0.7943" stop-color="#0000d8"/><stop offset="0.7962" stop-color="#00a8b0"/><stop offset="0.8075" stop-color="#00a8b0"/><stop offset="0.8094" stop-color="#0000ce"/><stop offset="0.8208" stop-color="#0000ce"/><stop offset="0.8226" stop-color="#860097"/><stop offset="0.8264" stop-color="#850096"/><stop offset="0.8283" stop-color="#730083"/><stop offset="0.8302" stop-color="#5b0068"/><stop offset="0.8377" stop-color="#470052"/><stop offset="0.9057" stop-color="#26002c"/><stop offset="1" stop-color="#0e0010"/></linearGradient><linearGradient id="gR10" gradientUnits="userSpaceOnUse" x1="330.4" x2="595.0"><stop offset="0" stop-color="#0e0010"/><stop offset="0.2" stop-color="#110013"/><stop offset="0.2019" stop-color="#1b001e"/><stop offset="0.2057" stop-color="#3c0045"/><stop offset="0.2094" stop-color="#6b007a"/><stop offset="0.2113" stop-color="#79008a"/><stop offset="0.2264" stop-color="#870098"/><stop offset="0.2283" stop-color="#7f009a"/><stop offset="0.2321" stop-color="#2400a5"/><stop offset="0.234" stop-color="#0000ac"/><stop offset="0.2415" stop-color="#0000da"/><stop offset="0.2566" stop-color="#0074dd"/><stop offset="0.2604" stop-color="#007ddd"/><stop offset="0.2849" stop-color="#0091dd"/><stop offset="0.3094" stop-color="#0099dd"/><stop offset="0.3396" stop-color="#009ecf"/><stop offset="0.383" stop-color="#00aaa9"/><stop offset="0.417" stop-color="#00aa89"/><stop offset="0.4302" stop-color="#00a24b"/><stop offset="0.4377" stop-color="#009c1b"/><stop offset="0.4528" stop-color="#009902"/><stop offset="0.483" stop-color="#00a000"/><stop offset="0.5075" stop-color="#009a00"/><stop offset="0.5208" stop-color="#009d1d"/><stop offset="0.5283" stop-color="#00a667"/><stop offset="0.5321" stop-color="#00a983"/><stop offset="0.534" stop-color="#00aa8a"/><stop offset="0.5528" stop-color="#00aaaa"/><stop offset="0.5774" stop-color="#0098dd"/><stop offset="0.6" stop-color="#0077dd"/><stop offset="0.6038" stop-color="#0064dd"/><stop offset="0.6226" stop-color="#0027dd"/><stop offset="0.6509" stop-color="#0000dc"/><stop offset="0.6906" stop-color="#0000aa"/><stop offset="0.7245" stop-color="#78009b"/><stop offset="0.7321" stop-color="#880099"/><stop offset="0.7377" stop-color="#860097"/><stop offset="0.7396" stop-color="#5200a0"/><stop offset="0.7415" stop-color="#00aaa3"/><stop offset="0.7491" stop-color="#00aaa3"/><stop offset="0.7509" stop-color="#0000d8"/><stop offset="0.7547" stop-color="#0000d8"/><stop offset="0.7566" stop-color="#009fca"/><stop offset="0.7755" stop-color="#009fca"/><stop offset="0.7774" stop-color="#0000d8"/><stop offset="0.7792" stop-color="#0000d8"/><stop offset="0.7811" stop-color="#0099dd"/><stop offset="0.7887" stop-color="#0099dd"/><stop offset="0.7906" stop-color="#0000d8"/><stop offset="0.7943" stop-color="#0000d8"/><stop offset="0.7962" stop-color="#00a8b0"/><stop offset="0.8075" stop-color="#00a8b0"/><stop offset="0.8094" stop-color="#0000ce"/><stop offset="0.8208" stop-color="#0000ce"/><stop offset="0.8226" stop-color="#860097"/><stop offset="0.8264" stop-color="#850096"/><stop offset="0.8283" stop-color="#730083"/><stop offset="0.8302" stop-color="#5b0068"/><stop offset="0.8377" stop-color="#470052"/><stop offset="0.9057" stop-color="#26002c"/><stop offset="1" stop-color="#0e0010"/></linearGradient><linearGradient id="gR11" gradientUnits="userSpaceOnUse" x1="330.4" x2="595.0"><stop offset="0" stop-color="#0e0010"/><stop offset="0.2" stop-color="#110013"/><stop offset="0.2019" stop-color="#1b001e"/><stop offset="0.2057" stop-color="#3c0045"/><stop offset="0.2094" stop-color="#6b007a"/><stop offset="0.2113" stop-color="#79008a"/><stop offset="0.2264" stop-color="#870098"/><stop offset="0.2283" stop-color="#7f009a"/><stop offset="0.2321" stop-color="#2400a5"/><stop offset="0.234" stop-color="#0000ac"/><stop offset="0.2434" stop-color="#0003dd"/><stop offset="0.2585" stop-color="#0060dd"/><stop offset="0.266" stop-color="#0077dd"/><stop offset="0.2849" stop-color="#0086dd"/><stop offset="0.3453" stop-color="#0099dd"/><stop offset="0.3774" stop-color="#00a1c4"/><stop offset="0.4" stop-color="#00aaaa"/><stop offset="0.4302" stop-color="#00aa8a"/><stop offset="0.4321" stop-color="#00a983"/><stop offset="0.4491" stop-color="#009c1b"/><stop offset="0.4642" stop-color="#009903"/><stop offset="0.4962" stop-color="#009900"/><stop offset="0.5019" stop-color="#009903"/><stop offset="0.5132" stop-color="#009d1e"/><stop offset="0.5245" stop-color="#00aa85"/><stop offset="0.5264" stop-color="#00aa8c"/><stop offset="0.5434" stop-color="#00aaab"/><stop offset="0.5679" stop-color="#0099dd"/><stop offset="0.5925" stop-color="#0078dd"/><stop offset="0.6038" stop-color="#0043dd"/><stop offset="0.6226" stop-color="#0009dd"/><stop offset="0.6283" stop-color="#0001dd"/><stop offset="0.6491" stop-color="#0000d2"/><stop offset="0.683" stop-color="#0000aa"/><stop offset="0.7245" stop-color="#7d009a"/><stop offset="0.7302" stop-color="#880099"/><stop offset="0.7377" stop-color="#860097"/><stop offset="0.7396" stop-color="#5200a0"/><stop offset="0.7415" stop-color="#00aaa3"/><stop offset="0.7491" stop-color="#00aaa3"/><stop offset="0.7509" stop-color="#0000d8"/><stop offset="0.7547" stop-color="#0000d8"/><stop offset="0.7566" stop-color="#009fca"/><stop offset="0.7755" stop-color="#009fca"/><stop offset="0.7774" stop-color="#0000d8"/><stop offset="0.7792" stop-color="#0000d8"/><stop offset="0.7811" stop-color="#0099dd"/><stop offset="0.7887" stop-color="#0099dd"/><stop offset="0.7906" stop-color="#0000d8"/><stop offset="0.7943" stop-color="#0000d8"/><stop offset="0.7962" stop-color="#00a8b0"/><stop offset="0.8075" stop-color="#00a8b0"/><stop offset="0.8094" stop-color="#0000ce"/><stop offset="0.8208" stop-color="#0000ce"/><stop offset="0.8226" stop-color="#860097"/><stop offset="0.8264" stop-color="#850096"/><stop offset="0.8283" stop-color="#730083"/><stop offset="0.8302" stop-color="#5b0068"/><stop offset="0.8377" stop-color="#470052"/><stop offset="0.9057" stop-color="#26002c"/><stop offset="1" stop-color="#0e0010"/></linearGradient><linearGradient id="gR12" gradientUnits="userSpaceOnUse" x1="330.4" x2="595.0"><stop offset="0" stop-color="#0e0010"/><stop offset="0.2" stop-color="#110013"/><stop offset="0.2019" stop-color="#1b001e"/><stop offset="0.2057" stop-color="#3c0045"/><stop offset="0.2094" stop-color="#6b007a"/><stop offset="0.2113" stop-color="#79008a"/><stop offset="0.2264" stop-color="#870098"/><stop offset="0.2283" stop-color="#7f009a"/><stop offset="0.2321" stop-color="#2400a5"/><stop offset="0.234" stop-color="#0000ac"/><stop offset="0.2415" stop-color="#0000d8"/><stop offset="0.2434" stop-color="#0005dd"/><stop offset="0.2585" stop-color="#0066dd"/><stop offset="0.2642" stop-color="#0077dd"/><stop offset="0.2849" stop-color="#0088dd"/><stop offset="0.3415" stop-color="#0099dd"/><stop offset="0.3774" stop-color="#00a3c0"/><stop offset="0.3981" stop-color="#00aaa9"/><stop offset="0.4283" stop-color="#00aa89"/><stop offset="0.4302" stop-color="#00a983"/><stop offset="0.4472" stop-color="#009c1b"/><stop offset="0.4642" stop-color="#009900"/><stop offset="0.5019" stop-color="#009900"/><stop offset="0.5132" stop-color="#009c19"/><stop offset="0.5151" stop-color="#009d22"/><stop offset="0.5264" stop-color="#00aa89"/><stop offset="0.5453" stop-color="#00aaab"/><stop offset="0.5698" stop-color="#0098dd"/><stop offset="0.5943" stop-color="#0077dd"/><stop offset="0.6038" stop-color="#0048dd"/><stop offset="0.6226" stop-color="#000edd"/><stop offset="0.6321" stop-color="#0001dd"/><stop offset="0.6491" stop-color="#0000d4"/><stop offset="0.6849" stop-color="#0100aa"/><stop offset="0.7245" stop-color="#7c009a"/><stop offset="0.7302" stop-color="#880099"/><stop offset="0.7377" stop-color="#860097"/><stop offset="0.7396" stop-color="#5200a0"/><stop offset="0.7415" stop-color="#00aaa3"/><stop offset="0.7491" stop-color="#00aaa3"/><stop offset="0.7509" stop-color="#0000d8"/><stop offset="0.7547" stop-color="#0000d8"/><stop offset="0.7566" stop-color="#009fca"/><stop offset="0.7755" stop-color="#009fca"/><stop offset="0.7774" stop-color="#0000d8"/><stop offset="0.7792" stop-color="#0000d8"/><stop offset="0.7811" stop-color="#0099dd"/><stop offset="0.7887" stop-color="#0099dd"/><stop offset="0.7906" stop-color="#0000d8"/><stop offset="0.7943" stop-color="#0000d8"/><stop offset="0.7962" stop-color="#00a8b0"/><stop offset="0.8075" stop-color="#00a8b0"/><stop offset="0.8094" stop-color="#0000ce"/><stop offset="0.8208" stop-color="#0000ce"/><stop offset="0.8226" stop-color="#860097"/><stop offset="0.8264" stop-color="#850096"/><stop offset="0.8283" stop-color="#730083"/><stop offset="0.8302" stop-color="#5b0068"/><stop offset="0.8377" stop-color="#470052"/><stop offset="0.9057" stop-color="#26002c"/><stop offset="1" stop-color="#0e0010"/></linearGradient><linearGradient id="gR13" gradientUnits="userSpaceOnUse" x1="330.4" x2="595.0"><stop offset="0" stop-color="#0e0010"/><stop offset="0.2" stop-color="#110013"/><stop offset="0.2019" stop-color="#1b001e"/><stop offset="0.2057" stop-color="#3c0045"/><stop offset="0.2094" stop-color="#6b007a"/><stop offset="0.2113" stop-color="#79008a"/><stop offset="0.2264" stop-color="#870098"/><stop offset="0.2283" stop-color="#7f009a"/><stop offset="0.2321" stop-color="#2400a5"/><stop offset="0.234" stop-color="#0000ac"/><stop offset="0.2415" stop-color="#0000d9"/><stop offset="0.2434" stop-color="#0008dd"/><stop offset="0.2585" stop-color="#0072dd"/><stop offset="0.2604" stop-color="#0078dd"/><stop offset="0.2849" stop-color="#008bdd"/><stop offset="0.3302" stop-color="#0099dc"/><stop offset="0.3774" stop-color="#00a5b9"/><stop offset="0.3906" stop-color="#00aaaa"/><stop offset="0.4245" stop-color="#00aa88"/><stop offset="0.4302" stop-color="#00a76d"/><stop offset="0.4434" stop-color="#009c1b"/><stop offset="0.4585" stop-color="#009902"/><stop offset="0.5038" stop-color="#009a00"/><stop offset="0.517" stop-color="#009c1b"/><stop offset="0.5283" stop-color="#00aa88"/><stop offset="0.5491" stop-color="#00a9ac"/><stop offset="0.5717" stop-color="#0099dc"/><stop offset="0.5962" stop-color="#0078dd"/><stop offset="0.6038" stop-color="#0053dd"/><stop offset="0.6226" stop-color="#0018dd"/><stop offset="0.6396" stop-color="#0001dd"/><stop offset="0.6491" stop-color="#0000d8"/><stop offset="0.6868" stop-color="#0000ab"/><stop offset="0.7132" stop-color="#5200a0"/><stop offset="0.7245" stop-color="#7a009b"/><stop offset="0.7302" stop-color="#870099"/><stop offset="0.7377" stop-color="#860097"/><stop offset="0.7396" stop-color="#5200a0"/><stop offset="0.7415" stop-color="#00aaa3"/><stop offset="0.7491" stop-color="#00aaa3"/><stop offset="0.7509" stop-color="#0000d8"/><stop offset="0.7547" stop-color="#0000d8"/><stop offset="0.7566" stop-color="#009fca"/><stop offset="0.7755" stop-color="#009fca"/><stop offset="0.7774" stop-color="#0000d8"/><stop offset="0.7792" stop-color="#0000d8"/><stop offset="0.7811" stop-color="#0099dd"/><stop offset="0.7887" stop-color="#0099dd"/><stop offset="0.7906" stop-color="#0000d8"/><stop offset="0.7943" stop-color="#0000d8"/><stop offset="0.7962" stop-color="#00a8b0"/><stop offset="0.8075" stop-color="#00a8b0"/><stop offset="0.8094" stop-color="#0000ce"/><stop offset="0.8208" stop-color="#0000ce"/><stop offset="0.8226" stop-color="#860097"/><stop offset="0.8264" stop-color="#850096"/><stop offset="0.8283" stop-color="#730083"/><stop offset="0.8302" stop-color="#5b0068"/><stop offset="0.8377" stop-color="#470052"/><stop offset="0.9057" stop-color="#26002c"/><stop offset="1" stop-color="#0e0010"/></linearGradient><linearGradient id="gR14" gradientUnits="userSpaceOnUse" x1="330.4" x2="595.0"><stop offset="0" stop-color="#0e0010"/><stop offset="0.2" stop-color="#110013"/><stop offset="0.2019" stop-color="#1b001e"/><stop offset="0.2057" stop-color="#3c0045"/><stop offset="0.2094" stop-color="#6b007a"/><stop offset="0.2113" stop-color="#79008a"/><stop offset="0.2264" stop-color="#870098"/><stop offset="0.2283" stop-color="#7f009a"/><stop offset="0.2321" stop-color="#2400a5"/><stop offset="0.234" stop-color="#0000ac"/><stop offset="0.2415" stop-color="#0000d9"/><stop offset="0.2434" stop-color="#0008dd"/><stop offset="0.2585" stop-color="#0072dd"/><stop offset="0.2604" stop-color="#0078dd"/><stop offset="0.2849" stop-color="#008bdd"/><stop offset="0.3302" stop-color="#0099dc"/><stop offset="0.3774" stop-color="#00a5b9"/><stop offset="0.3906" stop-color="#00aaaa"/><stop offset="0.4245" stop-color="#00aa88"/><stop offset="0.4302" stop-color="#00a76d"/><stop offset="0.4434" stop-color="#009c1b"/><stop offset="0.4585" stop-color="#009902"/><stop offset="0.5038" stop-color="#009a00"/><stop offset="0.517" stop-color="#009c1b"/><stop offset="0.5283" stop-color="#00aa88"/><stop offset="0.5491" stop-color="#00a9ac"/><stop offset="0.5717" stop-color="#0099dc"/><stop offset="0.5962" stop-color="#0078dd"/><stop offset="0.6038" stop-color="#0053dd"/><stop offset="0.6226" stop-color="#0018dd"/><stop offset="0.6396" stop-color="#0001dd"/><stop offset="0.6491" stop-color="#0000d8"/><stop offset="0.6868" stop-color="#0000ab"/><stop offset="0.7132" stop-color="#5200a0"/><stop offset="0.7245" stop-color="#7a009b"/><stop offset="0.7302" stop-color="#870099"/><stop offset="0.7377" stop-color="#860097"/><stop offset="0.7396" stop-color="#5200a0"/><stop offset="0.7415" stop-color="#00aaa3"/><stop offset="0.7491" stop-color="#00aaa3"/><stop offset="0.7509" stop-color="#0000d8"/><stop offset="0.7547" stop-color="#0000d8"/><stop offset="0.7566" stop-color="#009fca"/><stop offset="0.7755" stop-color="#009fca"/><stop offset="0.7774" stop-color="#0000d8"/><stop offset="0.7792" stop-color="#0000d8"/><stop offset="0.7811" stop-color="#0099dd"/><stop offset="0.7887" stop-color="#0099dd"/><stop offset="0.7906" stop-color="#0000d8"/><stop offset="0.7943" stop-color="#0000d8"/><stop offset="0.7962" stop-color="#00a8b0"/><stop offset="0.8075" stop-color="#00a8b0"/><stop offset="0.8094" stop-color="#0000ce"/><stop offset="0.8208" stop-color="#0000ce"/><stop offset="0.8226" stop-color="#860097"/><stop offset="0.8264" stop-color="#850096"/><stop offset="0.8283" stop-color="#730083"/><stop offset="0.8302" stop-color="#5b0068"/><stop offset="0.8377" stop-color="#470052"/><stop offset="0.9057" stop-color="#26002c"/><stop offset="1" stop-color="#0e0010"/></linearGradient><linearGradient id="gR15" gradientUnits="userSpaceOnUse" x1="330.4" x2="595.0"><stop offset="0" stop-color="#0e0010"/><stop offset="0.2" stop-color="#110013"/><stop offset="0.2019" stop-color="#1b001e"/><stop offset="0.2057" stop-color="#3c0045"/><stop offset="0.2094" stop-color="#6b007a"/><stop offset="0.2113" stop-color="#79008a"/><stop offset="0.2264" stop-color="#870098"/><stop offset="0.2283" stop-color="#7f009a"/><stop offset="0.2321" stop-color="#2400a5"/><stop offset="0.234" stop-color="#0000ac"/><stop offset="0.2415" stop-color="#0000d9"/><stop offset="0.2434" stop-color="#0008dd"/><stop offset="0.2585" stop-color="#0072dd"/><stop offset="0.2604" stop-color="#0078dd"/><stop offset="0.2849" stop-color="#008bdd"/><stop offset="0.3302" stop-color="#0099dc"/><stop offset="0.3774" stop-color="#00a5b9"/><stop offset="0.3906" stop-color="#00aaaa"/><stop offset="0.4245" stop-color="#00aa88"/><stop offset="0.4302" stop-color="#00a76d"/><stop offset="0.4434" stop-color="#009c1b"/><stop offset="0.4585" stop-color="#009902"/><stop offset="0.5038" stop-color="#009a00"/><stop offset="0.517" stop-color="#009c1b"/><stop offset="0.5283" stop-color="#00aa88"/><stop offset="0.5491" stop-color="#00a9ac"/><stop offset="0.5717" stop-color="#0099dc"/><stop offset="0.5962" stop-color="#0078dd"/><stop offset="0.6038" stop-color="#0053dd"/><stop offset="0.6226" stop-color="#0018dd"/><stop offset="0.6396" stop-color="#0001dd"/><stop offset="0.6491" stop-color="#0000d8"/><stop offset="0.6868" stop-color="#0000ab"/><stop offset="0.7132" stop-color="#5200a0"/><stop offset="0.7245" stop-color="#7a009b"/><stop offset="0.7302" stop-color="#870099"/><stop offset="0.7377" stop-color="#860097"/><stop offset="0.7396" stop-color="#5200a0"/><stop offset="0.7415" stop-color="#00aaa3"/><stop offset="0.7491" stop-color="#00aaa3"/><stop offset="0.7509" stop-color="#0000d8"/><stop offset="0.7547" stop-color="#0000d8"/><stop offset="0.7566" stop-color="#009fca"/><stop offset="0.7755" stop-color="#009fca"/><stop offset="0.7774" stop-color="#0000d8"/><stop offset="0.7792" stop-color="#0000d8"/><stop offset="0.7811" stop-color="#0099dd"/><stop offset="0.7887" stop-color="#0099dd"/><stop offset="0.7906" stop-color="#0000d8"/><stop offset="0.7943" stop-color="#0000d8"/><stop offset="0.7962" stop-color="#00a8b0"/><stop offset="0.8075" stop-color="#00a8b0"/><stop offset="0.8094" stop-color="#0000ce"/><stop offset="0.8208" stop-color="#0000ce"/><stop offset="0.8226" stop-color="#860097"/><stop offset="0.8264" stop-color="#850096"/><stop offset="0.8283" stop-color="#730083"/><stop offset="0.8302" stop-color="#5b0068"/><stop offset="0.8377" stop-color="#470052"/><stop offset="0.9057" stop-color="#26002c"/><stop offset="1" stop-color="#0e0010"/></linearGradient><linearGradient id="gR16" gradientUnits="userSpaceOnUse" x1="330.4" x2="595.0"><stop offset="0" stop-color="#0e0010"/><stop offset="0.2" stop-color="#110013"/><stop offset="0.2019" stop-color="#1b001e"/><stop offset="0.2057" stop-color="#3c0045"/><stop offset="0.2094" stop-color="#6b007a"/><stop offset="0.2113" stop-color="#79008a"/><stop offset="0.2264" stop-color="#870098"/><stop offset="0.2283" stop-color="#7f009a"/><stop offset="0.2321" stop-color="#2400a5"/><stop offset="0.234" stop-color="#0000ac"/><stop offset="0.2415" stop-color="#0000d9"/><stop offset="0.2434" stop-color="#0008dd"/><stop offset="0.2585" stop-color="#0072dd"/><stop offset="0.2604" stop-color="#0078dd"/><stop offset="0.2849" stop-color="#008bdd"/><stop offset="0.3302" stop-color="#0099dc"/><stop offset="0.3774" stop-color="#00a5b9"/><stop offset="0.3906" stop-color="#00aaaa"/><stop offset="0.4245" stop-color="#00aa88"/><stop offset="0.4302" stop-color="#00a76d"/><stop offset="0.4434" stop-color="#009c1b"/><stop offset="0.4585" stop-color="#009902"/><stop offset="0.5038" stop-color="#009a00"/><stop offset="0.517" stop-color="#009c1b"/><stop offset="0.5283" stop-color="#00aa88"/><stop offset="0.5491" stop-color="#00a9ac"/><stop offset="0.5717" stop-color="#0099dc"/><stop offset="0.5962" stop-color="#0078dd"/><stop offset="0.6038" stop-color="#0053dd"/><stop offset="0.6226" stop-color="#0018dd"/><stop offset="0.6396" stop-color="#0001dd"/><stop offset="0.6491" stop-color="#0000d8"/><stop offset="0.6868" stop-color="#0000ab"/><stop offset="0.7132" stop-color="#5200a0"/><stop offset="0.7245" stop-color="#7a009b"/><stop offset="0.7302" stop-color="#870099"/><stop offset="0.7377" stop-color="#860097"/><stop offset="0.7396" stop-color="#5200a0"/><stop offset="0.7415" stop-color="#00aaa3"/><stop offset="0.7491" stop-color="#00aaa3"/><stop offset="0.7509" stop-color="#0000d8"/><stop offset="0.7547" stop-color="#0000d8"/><stop offset="0.7566" stop-color="#009fca"/><stop offset="0.7755" stop-color="#009fca"/><stop offset="0.7774" stop-color="#0000d8"/><stop offset="0.7792" stop-color="#0000d8"/><stop offset="0.7811" stop-color="#0099dd"/><stop offset="0.7887" stop-color="#0099dd"/><stop offset="0.7906" stop-color="#0000d8"/><stop offset="0.7943" stop-color="#0000d8"/><stop offset="0.7962" stop-color="#00a8b0"/><stop offset="0.8075" stop-color="#00a8b0"/><stop offset="0.8094" stop-color="#0000ce"/><stop offset="0.8208" stop-color="#0000ce"/><stop offset="0.8226" stop-color="#860097"/><stop offset="0.8264" stop-color="#850096"/><stop offset="0.8283" stop-color="#730083"/><stop offset="0.8302" stop-color="#5b0068"/><stop offset="0.8377" stop-color="#470052"/><stop offset="0.9057" stop-color="#26002c"/><stop offset="1" stop-color="#0e0010"/></linearGradient><linearGradient id="gR17" gradientUnits="userSpaceOnUse" x1="330.4" x2="595.0"><stop offset="0" stop-color="#0e0010"/><stop offset="0.2" stop-color="#110013"/><stop offset="0.2019" stop-color="#1b001e"/><stop offset="0.2057" stop-color="#3c0045"/><stop offset="0.2094" stop-color="#6b007a"/><stop offset="0.2113" stop-color="#79008a"/><stop offset="0.2264" stop-color="#870098"/><stop offset="0.2283" stop-color="#7f009a"/><stop offset="0.2321" stop-color="#2400a5"/><stop offset="0.234" stop-color="#0000ac"/><stop offset="0.2415" stop-color="#0000d9"/><stop offset="0.2434" stop-color="#0008dd"/><stop offset="0.2585" stop-color="#0072dd"/><stop offset="0.2604" stop-color="#0078dd"/><stop offset="0.2849" stop-color="#008bdd"/><stop offset="0.3302" stop-color="#0099dc"/><stop offset="0.3774" stop-color="#00a5b9"/><stop offset="0.3906" stop-color="#00aaaa"/><stop offset="0.417" stop-color="#00aa92"/><stop offset="0.483" stop-color="#00a980"/><stop offset="0.5094" stop-color="#00a983"/><stop offset="0.5453" stop-color="#00aa92"/><stop offset="0.5604" stop-color="#00a9ac"/><stop offset="0.583" stop-color="#0099dc"/><stop offset="0.6075" stop-color="#0078dd"/><stop offset="0.6151" stop-color="#0053dd"/><stop offset="0.634" stop-color="#0018dd"/><stop offset="0.6528" stop-color="#0000dc"/><stop offset="0.6792" stop-color="#0000c4"/><stop offset="0.6981" stop-color="#0000ab"/><stop offset="0.7113" stop-color="#2c00a5"/><stop offset="0.7264" stop-color="#76009b"/><stop offset="0.7321" stop-color="#880099"/><stop offset="0.7377" stop-color="#860097"/><stop offset="0.7396" stop-color="#5200a0"/><stop offset="0.7415" stop-color="#00aaa3"/><stop offset="0.7491" stop-color="#00aaa3"/><stop offset="0.7509" stop-color="#0000d8"/><stop offset="0.7547" stop-color="#0000d8"/><stop offset="0.7566" stop-color="#009fca"/><stop offset="0.7755" stop-color="#009fca"/><stop offset="0.7774" stop-color="#0000d8"/><stop offset="0.7792" stop-color="#0000d8"/><stop offset="0.7811" stop-color="#0099dd"/><stop offset="0.7887" stop-color="#0099dd"/><stop offset="0.7906" stop-color="#0000d8"/><stop offset="0.7943" stop-color="#0000d8"/><stop offset="0.7962" stop-color="#00a8b0"/><stop offset="0.8075" stop-color="#00a8b0"/><stop offset="0.8094" stop-color="#0000ce"/><stop offset="0.8208" stop-color="#0000ce"/><stop offset="0.8226" stop-color="#860097"/><stop offset="0.8264" stop-color="#850096"/><stop offset="0.8283" stop-color="#730083"/><stop offset="0.8302" stop-color="#5b0068"/><stop offset="0.8377" stop-color="#470052"/><stop offset="0.9057" stop-color="#26002c"/><stop offset="1" stop-color="#0e0010"/></linearGradient><linearGradient id="gR18" gradientUnits="userSpaceOnUse" x1="330.4" x2="595.0"><stop offset="0" stop-color="#0e0010"/><stop offset="0.2" stop-color="#110013"/><stop offset="0.2019" stop-color="#1b001e"/><stop offset="0.2057" stop-color="#3c0045"/><stop offset="0.2094" stop-color="#6b007a"/><stop offset="0.2113" stop-color="#79008a"/><stop offset="0.2264" stop-color="#870098"/><stop offset="0.2283" stop-color="#7f009a"/><stop offset="0.2321" stop-color="#2400a5"/><stop offset="0.234" stop-color="#0000ac"/><stop offset="0.2415" stop-color="#0000d9"/><stop offset="0.2434" stop-color="#0008dd"/><stop offset="0.2585" stop-color="#0072dd"/><stop offset="0.2604" stop-color="#0078dd"/><stop offset="0.2849" stop-color="#008bdd"/><stop offset="0.3302" stop-color="#0099dc"/><stop offset="0.3774" stop-color="#00a5b9"/><stop offset="0.3906" stop-color="#00aaaa"/><stop offset="0.417" stop-color="#00aa92"/><stop offset="0.483" stop-color="#00a980"/><stop offset="0.5094" stop-color="#00a983"/><stop offset="0.5453" stop-color="#00aa92"/><stop offset="0.5604" stop-color="#00a9ac"/><stop offset="0.583" stop-color="#0099dc"/><stop offset="0.6075" stop-color="#0078dd"/><stop offset="0.6151" stop-color="#0053dd"/><stop offset="0.634" stop-color="#0018dd"/><stop offset="0.6528" stop-color="#0000dc"/><stop offset="0.6792" stop-color="#0000c4"/><stop offset="0.6981" stop-color="#0000ab"/><stop offset="0.7113" stop-color="#2c00a5"/><stop offset="0.7264" stop-color="#76009b"/><stop offset="0.7321" stop-color="#880099"/><stop offset="0.7377" stop-color="#860097"/><stop offset="0.7396" stop-color="#5200a0"/><stop offset="0.7415" stop-color="#00aaa3"/><stop offset="0.7491" stop-color="#00aaa3"/><stop offset="0.7509" stop-color="#0000d8"/><stop offset="0.7547" stop-color="#0000d8"/><stop offset="0.7566" stop-color="#009fca"/><stop offset="0.7755" stop-color="#009fca"/><stop offset="0.7774" stop-color="#0000d8"/><stop offset="0.7792" stop-color="#0000d8"/><stop offset="0.7811" stop-color="#0099dd"/><stop offset="0.7887" stop-color="#0099dd"/><stop offset="0.7906" stop-color="#0000d8"/><stop offset="0.7943" stop-color="#0000d8"/><stop offset="0.7962" stop-color="#00a8b0"/><stop offset="0.8075" stop-color="#00a8b0"/><stop offset="0.8094" stop-color="#0000ce"/><stop offset="0.8208" stop-color="#0000ce"/><stop offset="0.8226" stop-color="#860097"/><stop offset="0.8264" stop-color="#850096"/><stop offset="0.8283" stop-color="#730083"/><stop offset="0.8302" stop-color="#5b0068"/><stop offset="0.8377" stop-color="#470052"/><stop offset="0.9057" stop-color="#26002c"/><stop offset="1" stop-color="#0e0010"/></linearGradient><linearGradient id="gR19" gradientUnits="userSpaceOnUse" x1="330.4" x2="595.0"><stop offset="0" stop-color="#0e0010"/><stop offset="0.2038" stop-color="#110013"/><stop offset="0.2113" stop-color="#28002e"/><stop offset="0.2264" stop-color="#3c0044"/><stop offset="0.4604" stop-color="#43004c"/><stop offset="0.466" stop-color="#6b007a"/><stop offset="0.4717" stop-color="#770088"/><stop offset="0.4774" stop-color="#79008a"/><stop offset="0.4811" stop-color="#860097"/><stop offset="0.4849" stop-color="#7a008b"/><stop offset="0.4906" stop-color="#750086"/><stop offset="0.4943" stop-color="#6b007a"/><stop offset="0.5" stop-color="#26002c"/><stop offset="0.8377" stop-color="#1d0021"/><stop offset="0.8868" stop-color="#130016"/><stop offset="1" stop-color="#0c000e"/></linearGradient><linearGradient id="gR20" gradientUnits="userSpaceOnUse" x1="330.4" x2="595.0"><stop offset="0" stop-color="#070008"/><stop offset="1" stop-color="#070008"/></linearGradient><linearGradient id="gR21" gradientUnits="userSpaceOnUse" x1="330.4" x2="595.0"><stop offset="0" stop-color="#0e0010"/><stop offset="0.1925" stop-color="#110013"/><stop offset="0.1943" stop-color="#1e0023"/><stop offset="0.1981" stop-color="#630071"/><stop offset="0.2" stop-color="#79008a"/><stop offset="0.2057" stop-color="#880099"/><stop offset="0.2075" stop-color="#2900a5"/><stop offset="0.2094" stop-color="#0000be"/><stop offset="0.2113" stop-color="#0000d8"/><stop offset="0.2132" stop-color="#0030dd"/><stop offset="0.2151" stop-color="#006fdd"/><stop offset="0.2189" stop-color="#0099dd"/><stop offset="0.2208" stop-color="#00a4bb"/><stop offset="0.2245" stop-color="#00aa88"/><stop offset="0.2264" stop-color="#009c1b"/><stop offset="0.2283" stop-color="#00ad00"/><stop offset="0.2302" stop-color="#00c900"/><stop offset="0.2453" stop-color="#00ee00"/><stop offset="0.2717" stop-color="#00ff00"/><stop offset="0.2943" stop-color="#40ff00"/><stop offset="0.3094" stop-color="#00fe00"/><stop offset="0.3585" stop-color="#00e700"/><stop offset="0.4" stop-color="#00eb00"/><stop offset="0.4264" stop-color="#00ff00"/><stop offset="0.4491" stop-color="#4bff00"/><stop offset="0.4755" stop-color="#00ff00"/><stop offset="0.483" stop-color="#00f500"/><stop offset="0.5189" stop-color="#00e700"/><stop offset="0.5358" stop-color="#00cf00"/><stop offset="0.5623" stop-color="#009900"/><stop offset="0.5887" stop-color="#00aa89"/><stop offset="0.6189" stop-color="#00aaaa"/><stop offset="0.6415" stop-color="#00a0c9"/><stop offset="0.666" stop-color="#0099dd"/><stop offset="0.7094" stop-color="#0081dd"/><stop offset="0.7132" stop-color="#0078dd"/><stop offset="0.7208" stop-color="#003cdd"/><stop offset="0.7283" stop-color="#000cdd"/><stop offset="0.734" stop-color="#0000dc"/><stop offset="0.7396" stop-color="#0000d8"/><stop offset="0.7415" stop-color="#00a2c1"/><stop offset="0.7491" stop-color="#00a2c1"/><stop offset="0.7509" stop-color="#0000d8"/><stop offset="0.7547" stop-color="#0000d8"/><stop offset="0.7566" stop-color="#0092dd"/><stop offset="0.7755" stop-color="#0092dd"/><stop offset="0.7774" stop-color="#0000d8"/><stop offset="0.7792" stop-color="#0000d8"/><stop offset="0.7811" stop-color="#0086dd"/><stop offset="0.7887" stop-color="#0086dd"/><stop offset="0.7906" stop-color="#0000d8"/><stop offset="0.7943" stop-color="#0000d8"/><stop offset="0.7962" stop-color="#009dd0"/><stop offset="0.8075" stop-color="#009dd0"/><stop offset="0.8094" stop-color="#0000ce"/><stop offset="0.8208" stop-color="#0000ce"/><stop offset="0.8226" stop-color="#860097"/><stop offset="0.8245" stop-color="#860097"/><stop offset="0.8264" stop-color="#7c009b"/><stop offset="0.8547" stop-color="#880099"/><stop offset="0.8868" stop-color="#840095"/><stop offset="0.9132" stop-color="#780089"/><stop offset="0.9245" stop-color="#560062"/><stop offset="0.9434" stop-color="#320039"/><stop offset="0.9736" stop-color="#1a001e"/><stop offset="1" stop-color="#0e0010"/></linearGradient></defs>
<rect width="640" height="440" fill="#fff"/>
<rect x="50.0" y="27.8" width="265.0" height="367.8" fill="#0e0010"/>
<rect x="50.0" y="27.80" width="265.0" height="17.82" fill="url(#gL0)"/>
<rect x="50.0" y="44.52" width="265.0" height="17.82" fill="url(#gL1)"/>
<rect x="50.0" y="61.24" width="265.0" height="17.82" fill="url(#gL2)"/>
<rect x="50.0" y="77.95" width="265.0" height="17.82" fill="url(#gL3)"/>
<rect x="50.0" y="94.67" width="265.0" height="17.82" fill="url(#gL4)"/>
<rect x="50.0" y="111.39" width="265.0" height="17.82" fill="url(#gL5)"/>
<rect x="50.0" y="128.11" width="265.0" height="17.82" fill="url(#gL6)"/>
<rect x="50.0" y="144.83" width="265.0" height="17.82" fill="url(#gL7)"/>
<rect x="50.0" y="161.55" width="265.0" height="17.82" fill="url(#gL8)"/>
<rect x="50.0" y="178.26" width="265.0" height="17.82" fill="url(#gL9)"/>
<rect x="50.0" y="194.98" width="265.0" height="17.82" fill="url(#gL10)"/>
<rect x="50.0" y="211.70" width="265.0" height="17.82" fill="url(#gL11)"/>
<rect x="50.0" y="228.42" width="265.0" height="17.82" fill="url(#gL12)"/>
<rect x="50.0" y="245.14" width="265.0" height="17.82" fill="url(#gL13)"/>
<rect x="50.0" y="261.85" width="265.0" height="17.82" fill="url(#gL14)"/>
<rect x="50.0" y="278.57" width="265.0" height="17.82" fill="url(#gL15)"/>
<rect x="50.0" y="295.29" width="265.0" height="17.82" fill="url(#gL16)"/>
<rect x="50.0" y="312.01" width="265.0" height="17.82" fill="url(#gL17)"/>
<rect x="50.0" y="328.73" width="265.0" height="17.82" fill="url(#gL18)"/>
<rect x="50.0" y="345.45" width="265.0" height="17.82" fill="url(#gL19)"/>
<rect x="50.0" y="362.16" width="265.0" height="17.82" fill="url(#gL20)"/>
<rect x="50.0" y="378.88" width="265.0" height="16.72" fill="url(#gL21)"/>
<rect x="330.4" y="27.8" width="264.6" height="367.8" fill="#0e0010"/>
<rect x="330.4" y="27.80" width="264.6" height="17.82" fill="url(#gR0)"/>
<rect x="330.4" y="44.52" width="264.6" height="17.82" fill="url(#gR1)"/>
<rect x="330.4" y="61.24" width="264.6" height="17.82" fill="url(#gR2)"/>
<rect x="330.4" y="77.95" width="264.6" height="17.82" fill="url(#gR3)"/>
<rect x="330.4" y="94.67" width="264.6" height="17.82" fill="url(#gR4)"/>
<rect x="330.4" y="111.39" width="264.6" height="17.82" fill="url(#gR5)"/>
<rect x="330.4" y="128.11" width="264.6" height="17.82" fill="url(#gR6)"/>
<rect x="330.4" y="144.83" width="264.6" height="17.82" fill="url(#gR7)"/>
<rect x="330.4" y="161.55" width="264.6" height="17.82" fill="url(#gR8)"/>
<rect x="330.4" y="178.26" width="264.6" height="17.82" fill="url(#gR9)"/>
<rect x="330.4" y="194.98" width="264.6" height="17.82" fill="url(#gR10)"/>
<rect x="330.4" y="211.70" width="264.6" height="17.82" fill="url(#gR11)"/>
<rect x="330.4" y="228.42" width="264.6" height="17.82" fill="url(#gR12)"/>
<rect x="330.4" y="245.14" width="264.6" height="17.82" fill="url(#gR13)"/>
<rect x="330.4" y="261.85" width="264.6" height="17.82" fill="url(#gR14)"/>
<rect x="330.4" y="278.57" width="264.6" height="17.82" fill="url(#gR15)"/>
<rect x="330.4" y="295.29" width="264.6" height="17.82" fill="url(#gR16)"/>
<rect x="330.4" y="312.01" width="264.6" height="17.82" fill="url(#gR17)"/>
<rect x="330.4" y="328.73" width="264.6" height="17.82" fill="url(#gR18)"/>
<rect x="330.4" y="345.45" width="264.6" height="17.82" fill="url(#gR19)"/>
<rect x="330.4" y="362.16" width="264.6" height="17.82" fill="url(#gR20)"/>
<rect x="330.4" y="378.88" width="264.6" height="16.72" fill="url(#gR21)"/>
<rect x="51.0" y="27.8" width="4.0" height="367.8" fill="#000" fill-opacity="0.017"/><rect x="55.0" y="27.8" width="3.0" height="367.8" fill="#000" fill-opacity="0.016"/><rect x="58.0" y="27.8" width="4.0" height="367.8" fill="#000" fill-opacity="0.060"/><rect x="62.0" y="27.8" width="3.0" height="367.8" fill="#fff" fill-opacity="0.011"/><rect x="68.0" y="27.8" width="4.0" height="367.8" fill="#000" fill-opacity="0.017"/><rect x="80.0" y="27.8" width="1.0" height="367.8" fill="#000" fill-opacity="0.028"/><rect x="81.0" y="27.8" width="4.0" height="367.8" fill="#000" fill-opacity="0.015"/><rect x="85.0" y="27.8" width="1.0" height="367.8" fill="#000" fill-opacity="0.041"/><rect x="90.0" y="27.8" width="1.0" height="367.8" fill="#fff" fill-opacity="0.025"/><rect x="92.0" y="27.8" width="4.0" height="367.8" fill="#000" fill-opacity="0.015"/><rect x="96.0" y="27.8" width="4.0" height="367.8" fill="#000" fill-opacity="0.060"/><rect x="100.0" y="27.8" width="1.0" height="367.8" fill="#fff" fill-opacity="0.009"/><rect x="101.0" y="27.8" width="3.0" height="367.8" fill="#fff" fill-opacity="0.012"/><rect x="104.0" y="27.8" width="2.0" height="367.8" fill="#000" fill-opacity="0.021"/><rect x="106.0" y="27.8" width="1.0" height="367.8" fill="#000" fill-opacity="0.020"/><rect x="110.0" y="27.8" width="1.0" height="367.8" fill="#000" fill-opacity="0.012"/><rect x="114.0" y="27.8" width="1.0" height="367.8" fill="#fff" fill-opacity="0.022"/><rect x="115.0" y="27.8" width="1.0" height="367.8" fill="#000" fill-opacity="0.028"/><rect x="116.0" y="27.8" width="2.0" height="367.8" fill="#fff" fill-opacity="0.014"/><rect x="118.0" y="27.8" width="1.0" height="367.8" fill="#fff" fill-opacity="0.017"/><rect x="119.0" y="27.8" width="2.0" height="367.8" fill="#000" fill-opacity="0.021"/><rect x="124.0" y="27.8" width="4.0" height="367.8" fill="#fff" fill-opacity="0.011"/><rect x="128.0" y="27.8" width="1.0" height="367.8" fill="#fff" fill-opacity="0.010"/><rect x="129.0" y="27.8" width="3.0" height="367.8" fill="#fff" fill-opacity="0.011"/><rect x="132.0" y="27.8" width="2.0" height="367.8" fill="#000" fill-opacity="0.057"/><rect x="136.0" y="27.8" width="4.0" height="367.8" fill="#000" fill-opacity="0.016"/><rect x="144.0" y="27.8" width="3.0" height="367.8" fill="#000" fill-opacity="0.016"/><rect x="148.0" y="27.8" width="3.0" height="367.8" fill="#000" fill-opacity="0.032"/><rect x="151.0" y="27.8" width="2.0" height="367.8" fill="#fff" fill-opacity="0.024"/><rect x="153.0" y="27.8" width="2.0" height="367.8" fill="#000" fill-opacity="0.060"/><rect x="155.0" y="27.8" width="1.0" height="367.8" fill="#fff" fill-opacity="0.012"/><rect x="158.0" y="27.8" width="3.0" height="367.8" fill="#000" fill-opacity="0.013"/><rect x="161.0" y="27.8" width="1.0" height="367.8" fill="#fff" fill-opacity="0.010"/><rect x="162.0" y="27.8" width="1.0" height="367.8" fill="#000" fill-opacity="0.023"/><rect x="163.0" y="27.8" width="2.0" height="367.8" fill="#fff" fill-opacity="0.018"/><rect x="165.0" y="27.8" width="2.0" height="367.8" fill="#fff" fill-opacity="0.030"/><rect x="167.0" y="27.8" width="1.0" height="367.8" fill="#fff" fill-opacity="0.013"/><rect x="168.0" y="27.8" width="2.0" height="367.8" fill="#000" fill-opacity="0.034"/><rect x="170.0" y="27.8" width="1.0" height="367.8" fill="#000" fill-opacity="0.022"/><rect x="171.0" y="27.8" width="1.0" height="367.8" fill="#000" fill-opacity="0.018"/><rect x="172.0" y="27.8" width="1.0" height="367.8" fill="#000" fill-opacity="0.057"/><rect x="173.0" y="27.8" width="4.0" height="367.8" fill="#000" fill-opacity="0.033"/><rect x="177.0" y="27.8" width="4.0" height="367.8" fill="#000" fill-opacity="0.014"/><rect x="183.0" y="27.8" width="2.0" height="367.8" fill="#000" fill-opacity="0.024"/><rect x="185.0" y="27.8" width="2.0" height="367.8" fill="#fff" fill-opacity="0.008"/><rect x="189.0" y="27.8" width="4.0" height="367.8" fill="#fff" fill-opacity="0.014"/><rect x="196.0" y="27.8" width="1.0" height="367.8" fill="#000" fill-opacity="0.059"/><rect x="197.0" y="27.8" width="1.0" height="367.8" fill="#fff" fill-opacity="0.030"/><rect x="199.0" y="27.8" width="4.0" height="367.8" fill="#000" fill-opacity="0.060"/><rect x="203.0" y="27.8" width="4.0" height="367.8" fill="#fff" fill-opacity="0.014"/><rect x="207.0" y="27.8" width="1.0" height="367.8" fill="#fff" fill-opacity="0.007"/><rect x="210.0" y="27.8" width="1.0" height="367.8" fill="#fff" fill-opacity="0.030"/><rect x="213.0" y="27.8" width="2.0" height="367.8" fill="#000" fill-opacity="0.016"/><rect x="215.0" y="27.8" width="2.0" height="367.8" fill="#000" fill-opacity="0.028"/><rect x="217.0" y="27.8" width="1.0" height="367.8" fill="#000" fill-opacity="0.030"/><rect x="218.0" y="27.8" width="1.0" height="367.8" fill="#000" fill-opacity="0.014"/><rect x="220.0" y="27.8" width="1.0" height="367.8" fill="#fff" fill-opacity="0.013"/><rect x="221.0" y="27.8" width="3.0" height="367.8" fill="#fff" fill-opacity="0.021"/><rect x="234.0" y="27.8" width="2.0" height="367.8" fill="#fff" fill-opacity="0.025"/><rect x="238.0" y="27.8" width="2.0" height="367.8" fill="#fff" fill-opacity="0.011"/><rect x="240.0" y="27.8" width="3.0" height="367.8" fill="#000" fill-opacity="0.050"/><rect x="243.0" y="27.8" width="3.0" height="367.8" fill="#fff" fill-opacity="0.015"/><rect x="246.0" y="27.8" width="2.0" height="367.8" fill="#000" fill-opacity="0.042"/><rect x="248.0" y="27.8" width="3.0" height="367.8" fill="#000" fill-opacity="0.023"/><rect x="251.0" y="27.8" width="4.0" height="367.8" fill="#fff" fill-opacity="0.008"/><rect x="258.0" y="27.8" width="1.0" height="367.8" fill="#fff" fill-opacity="0.015"/><rect x="259.0" y="27.8" width="3.0" height="367.8" fill="#000" fill-opacity="0.022"/><rect x="262.0" y="27.8" width="4.0" height="367.8" fill="#fff" fill-opacity="0.013"/><rect x="266.0" y="27.8" width="1.0" height="367.8" fill="#000" fill-opacity="0.026"/><rect x="267.0" y="27.8" width="1.0" height="367.8" fill="#000" fill-opacity="0.038"/><rect x="268.0" y="27.8" width="4.0" height="367.8" fill="#000" fill-opacity="0.033"/><rect x="272.0" y="27.8" width="2.0" height="367.8" fill="#000" fill-opacity="0.022"/><rect x="278.0" y="27.8" width="3.0" height="367.8" fill="#fff" fill-opacity="0.010"/><rect x="281.0" y="27.8" width="1.0" height="367.8" fill="#fff" fill-opacity="0.029"/><rect x="282.0" y="27.8" width="4.0" height="367.8" fill="#fff" fill-opacity="0.013"/><rect x="287.0" y="27.8" width="3.0" height="367.8" fill="#000" fill-opacity="0.012"/><rect x="290.0" y="27.8" width="2.0" height="367.8" fill="#fff" fill-opacity="0.015"/><rect x="292.0" y="27.8" width="1.0" height="367.8" fill="#fff" fill-opacity="0.011"/><rect x="293.0" y="27.8" width="3.0" height="367.8" fill="#000" fill-opacity="0.020"/><rect x="296.0" y="27.8" width="2.0" height="367.8" fill="#000" fill-opacity="0.016"/><rect x="298.0" y="27.8" width="2.0" height="367.8" fill="#000" fill-opacity="0.049"/><rect x="300.0" y="27.8" width="3.0" height="367.8" fill="#000" fill-opacity="0.060"/><rect x="303.0" y="27.8" width="1.0" height="367.8" fill="#fff" fill-opacity="0.013"/><rect x="304.0" y="27.8" width="2.0" height="367.8" fill="#fff" fill-opacity="0.014"/><rect x="306.0" y="27.8" width="3.0" height="367.8" fill="#fff" fill-opacity="0.012"/><rect x="312.0" y="27.8" width="3.0" height="367.8" fill="#000" fill-opacity="0.038"/>
<rect x="334.4" y="27.8" width="3.0" height="367.8" fill="#fff" fill-opacity="0.018"/><rect x="337.4" y="27.8" width="3.0" height="367.8" fill="#000" fill-opacity="0.029"/><rect x="342.4" y="27.8" width="1.0" height="367.8" fill="#fff" fill-opacity="0.030"/><rect x="343.4" y="27.8" width="1.0" height="367.8" fill="#000" fill-opacity="0.048"/><rect x="344.4" y="27.8" width="3.0" height="367.8" fill="#fff" fill-opacity="0.013"/><rect x="347.4" y="27.8" width="1.0" height="367.8" fill="#000" fill-opacity="0.013"/><rect x="348.4" y="27.8" width="1.0" height="367.8" fill="#fff" fill-opacity="0.011"/><rect x="349.4" y="27.8" width="4.0" height="367.8" fill="#fff" fill-opacity="0.030"/><rect x="353.4" y="27.8" width="1.0" height="367.8" fill="#000" fill-opacity="0.028"/><rect x="358.4" y="27.8" width="2.0" height="367.8" fill="#fff" fill-opacity="0.010"/><rect x="360.4" y="27.8" width="3.0" height="367.8" fill="#fff" fill-opacity="0.014"/><rect x="363.4" y="27.8" width="2.0" height="367.8" fill="#000" fill-opacity="0.016"/><rect x="365.4" y="27.8" width="1.0" height="367.8" fill="#fff" fill-opacity="0.006"/><rect x="367.4" y="27.8" width="2.0" height="367.8" fill="#000" fill-opacity="0.060"/><rect x="371.4" y="27.8" width="3.0" height="367.8" fill="#000" fill-opacity="0.016"/><rect x="374.4" y="27.8" width="4.0" height="367.8" fill="#000" fill-opacity="0.018"/><rect x="378.4" y="27.8" width="1.0" height="367.8" fill="#fff" fill-opacity="0.011"/><rect x="379.4" y="27.8" width="4.0" height="367.8" fill="#fff" fill-opacity="0.009"/><rect x="383.4" y="27.8" width="2.0" height="367.8" fill="#fff" fill-opacity="0.016"/><rect x="385.4" y="27.8" width="4.0" height="367.8" fill="#000" fill-opacity="0.060"/><rect x="389.4" y="27.8" width="4.0" height="367.8" fill="#fff" fill-opacity="0.021"/><rect x="393.4" y="27.8" width="3.0" height="367.8" fill="#fff" fill-opacity="0.019"/><rect x="396.4" y="27.8" width="2.0" height="367.8" fill="#000" fill-opacity="0.017"/><rect x="398.4" y="27.8" width="1.0" height="367.8" fill="#fff" fill-opacity="0.007"/><rect x="399.4" y="27.8" width="4.0" height="367.8" fill="#000" fill-opacity="0.021"/><rect x="403.4" y="27.8" width="4.0" height="367.8" fill="#000" fill-opacity="0.060"/><rect x="407.4" y="27.8" width="4.0" height="367.8" fill="#000" fill-opacity="0.018"/><rect x="411.4" y="27.8" width="4.0" height="367.8" fill="#fff" fill-opacity="0.025"/><rect x="415.4" y="27.8" width="3.0" height="367.8" fill="#fff" fill-opacity="0.017"/><rect x="418.4" y="27.8" width="2.0" height="367.8" fill="#fff" fill-opacity="0.010"/><rect x="420.4" y="27.8" width="2.0" height="367.8" fill="#fff" fill-opacity="0.012"/><rect x="422.4" y="27.8" width="1.0" height="367.8" fill="#000" fill-opacity="0.018"/><rect x="423.4" y="27.8" width="1.0" height="367.8" fill="#fff" fill-opacity="0.011"/><rect x="424.4" y="27.8" width="3.0" height="367.8" fill="#000" fill-opacity="0.016"/><rect x="427.4" y="27.8" width="3.0" height="367.8" fill="#fff" fill-opacity="0.025"/><rect x="434.4" y="27.8" width="1.0" height="367.8" fill="#fff" fill-opacity="0.030"/><rect x="435.4" y="27.8" width="2.0" height="367.8" fill="#fff" fill-opacity="0.020"/><rect x="437.4" y="27.8" width="2.0" height="367.8" fill="#000" fill-opacity="0.013"/><rect x="439.4" y="27.8" width="2.0" height="367.8" fill="#000" fill-opacity="0.024"/><rect x="441.4" y="27.8" width="1.0" height="367.8" fill="#000" fill-opacity="0.019"/><rect x="442.4" y="27.8" width="4.0" height="367.8" fill="#fff" fill-opacity="0.014"/><rect x="446.4" y="27.8" width="3.0" height="367.8" fill="#fff" fill-opacity="0.018"/><rect x="449.4" y="27.8" width="2.0" height="367.8" fill="#fff" fill-opacity="0.007"/><rect x="451.4" y="27.8" width="3.0" height="367.8" fill="#000" fill-opacity="0.044"/><rect x="454.4" y="27.8" width="2.0" height="367.8" fill="#fff" fill-opacity="0.010"/><rect x="456.4" y="27.8" width="3.0" height="367.8" fill="#000" fill-opacity="0.018"/><rect x="459.4" y="27.8" width="3.0" height="367.8" fill="#fff" fill-opacity="0.030"/><rect x="462.4" y="27.8" width="1.0" height="367.8" fill="#000" fill-opacity="0.030"/><rect x="463.4" y="27.8" width="1.0" height="367.8" fill="#fff" fill-opacity="0.006"/><rect x="466.4" y="27.8" width="2.0" height="367.8" fill="#fff" fill-opacity="0.030"/><rect x="468.4" y="27.8" width="3.0" height="367.8" fill="#fff" fill-opacity="0.029"/><rect x="475.4" y="27.8" width="3.0" height="367.8" fill="#fff" fill-opacity="0.008"/><rect x="485.4" y="27.8" width="1.0" height="367.8" fill="#fff" fill-opacity="0.009"/><rect x="490.4" y="27.8" width="4.0" height="367.8" fill="#000" fill-opacity="0.046"/><rect x="494.4" y="27.8" width="2.0" height="367.8" fill="#000" fill-opacity="0.018"/><rect x="503.4" y="27.8" width="2.0" height="367.8" fill="#000" fill-opacity="0.050"/><rect x="506.4" y="27.8" width="2.0" height="367.8" fill="#000" fill-opacity="0.031"/><rect x="508.4" y="27.8" width="2.0" height="367.8" fill="#000" fill-opacity="0.013"/><rect x="510.4" y="27.8" width="2.0" height="367.8" fill="#fff" fill-opacity="0.024"/><rect x="512.4" y="27.8" width="4.0" height="367.8" fill="#000" fill-opacity="0.060"/><rect x="516.4" y="27.8" width="2.0" height="367.8" fill="#fff" fill-opacity="0.008"/><rect x="520.4" y="27.8" width="2.0" height="367.8" fill="#fff" fill-opacity="0.020"/><rect x="522.4" y="27.8" width="4.0" height="367.8" fill="#000" fill-opacity="0.048"/><rect x="526.4" y="27.8" width="4.0" height="367.8" fill="#fff" fill-opacity="0.015"/><rect x="534.4" y="27.8" width="3.0" height="367.8" fill="#000" fill-opacity="0.060"/><rect x="537.4" y="27.8" width="2.0" height="367.8" fill="#fff" fill-opacity="0.027"/><rect x="545.4" y="27.8" width="1.0" height="367.8" fill="#fff" fill-opacity="0.025"/><rect x="546.4" y="27.8" width="2.0" height="367.8" fill="#000" fill-opacity="0.040"/><rect x="548.4" y="27.8" width="2.0" height="367.8" fill="#fff" fill-opacity="0.024"/><rect x="550.4" y="27.8" width="3.0" height="367.8" fill="#fff" fill-opacity="0.011"/><rect x="555.4" y="27.8" width="1.0" height="367.8" fill="#fff" fill-opacity="0.026"/><rect x="556.4" y="27.8" width="1.0" height="367.8" fill="#fff" fill-opacity="0.008"/><rect x="557.4" y="27.8" width="1.0" height="367.8" fill="#fff" fill-opacity="0.008"/><rect x="558.4" y="27.8" width="1.0" height="367.8" fill="#fff" fill-opacity="0.025"/><rect x="559.4" y="27.8" width="1.0" height="367.8" fill="#000" fill-opacity="0.052"/><rect x="560.4" y="27.8" width="1.0" height="367.8" fill="#000" fill-opacity="0.017"/><rect x="561.4" y="27.8" width="1.0" height="367.8" fill="#000" fill-opacity="0.035"/><rect x="562.4" y="27.8" width="1.0" height="367.8" fill="#000" fill-opacity="0.021"/><rect x="563.4" y="27.8" width="4.0" height="367.8" fill="#fff" fill-opacity="0.008"/><rect x="567.4" y="27.8" width="1.0" height="367.8" fill="#fff" fill-opacity="0.015"/><rect x="568.4" y="27.8" width="2.0" height="367.8" fill="#000" fill-opacity="0.033"/><rect x="570.4" y="27.8" width="3.0" height="367.8" fill="#fff" fill-opacity="0.012"/><rect x="573.4" y="27.8" width="4.0" height="367.8" fill="#000" fill-opacity="0.032"/><rect x="577.4" y="27.8" width="4.0" height="367.8" fill="#000" fill-opacity="0.047"/><rect x="581.4" y="27.8" width="1.0" height="367.8" fill="#fff" fill-opacity="0.030"/><rect x="582.4" y="27.8" width="1.0" height="367.8" fill="#000" fill-opacity="0.060"/><rect x="585.4" y="27.8" width="1.0" height="367.8" fill="#fff" fill-opacity="0.030"/><rect x="587.4" y="27.8" width="1.0" height="367.8" fill="#fff" fill-opacity="0.012"/><rect x="588.4" y="27.8" width="4.0" height="367.8" fill="#fff" fill-opacity="0.006"/>
<rect x="81" y="27.8" width="1.1" height="367.8" fill="#000" fill-opacity="0.55"/><rect x="93.6" y="27.8" width="1" height="367.8" fill="#000" fill-opacity="0.4"/>
<rect x="159.20" y="27.80" width="1.60" height="16.72" fill="#ff9a70"/>
<rect x="159.90" y="77.95" width="1.60" height="16.72" fill="#00a700"/>
<rect x="160.35" y="178.26" width="1.30" height="50.15" fill="#00e400"/>
<rect x="166.70" y="211.70" width="1.20" height="16.72" fill="#daf500"/>
<rect x="149.80" y="228.42" width="1.20" height="16.72" fill="#009c00"/>
<rect x="151.90" y="245.14" width="1.20" height="16.72" fill="#daf500"/>
<rect x="156.80" y="312.01" width="1.20" height="16.72" fill="#daf500"/>
<rect x="439.50" y="27.80" width="2.20" height="16.72" fill="#cccccc"/>
<rect x="439.50" y="44.52" width="2.20" height="16.72" fill="#f80000"/>
<rect x="439.90" y="77.95" width="1.80" height="16.72" fill="#00a700"/>
<rect x="446.90" y="194.98" width="1.20" height="33.44" fill="#00e400"/>
<rect x="430.20" y="228.42" width="1.20" height="16.72" fill="#009c00"/>
<rect x="432.60" y="245.14" width="1.20" height="16.72" fill="#00bb00"/>
<rect x="437.00" y="312.01" width="1.20" height="16.72" fill="#daf500"/>
<rect x="456.10" y="312.01" width="2.20" height="33.44" fill="#009c1b"/>
<rect x="48.75" y="284.5" width="1.4" height="111.1" fill="#8a00a0"/><rect x="328.9" y="284.5" width="1.4" height="111.1" fill="#7a00b0"/>
<g fill="#fff" stroke="#fff" stroke-linejoin="round" stroke-linecap="round">
<g fill="none">
<polyline points="49.0,283.5 102.5,283.5 103.0,283.0 103.5,282.5 104.0,282.0 104.5,281.5 105.0,279.9 105.5,278.2 106.0,276.6 106.5,275.0 107.0,273.2 107.5,271.5 108.0,269.7 108.5,268.0 109.0,266.2 109.5,264.5 110.0,262.7 110.5,260.1 111.0,257.0 111.5,253.9 112.0,250.8 112.5,247.6 113.0,244.5 113.5,242.5 114.0,240.6 114.5,238.6 115.0,236.7 115.5,234.7 116.0,232.8 116.5,230.9 117.0,229.1 117.5,227.3 118.0,225.5 118.5,223.7 119.0,221.9 119.5,220.0 120.0,218.2 120.5,217.0 121.0,216.1 121.5,215.3 122.0,214.4 122.5,213.6 123.0,212.7 123.5,211.9 124.0,211.0 124.5,210.6 125.0,210.2 125.5,209.8 126.0,209.3 126.5,208.9 127.0,208.5 127.5,208.1 128.0,207.7 128.5,207.2 129.0,206.8 129.5,206.4 130.0,206.0 130.5,205.8 131.0,205.6 131.5,205.4 132.0,205.2 132.5,205.0 133.0,204.8 133.5,204.6 134.0,204.4 134.5,204.2 135.0,204.0 135.5,203.8 136.0,203.6 136.5,203.4 137.0,203.2 137.5,203.0 138.0,202.8 138.5,202.6 139.0,202.4 139.5,202.2 140.0,202.0 140.5,201.8 141.0,201.6 141.5,201.4 142.0,201.2 142.5,201.0 143.0,200.6 143.5,200.3 144.0,199.9 144.5,199.5 145.0,199.2 145.5,198.8 146.0,198.4 146.5,198.1 147.0,197.7 147.5,197.3 148.0,197.0 148.5,196.6 149.0,196.2 149.5,195.9 150.0,195.5 150.5,194.9 151.0,194.3 151.5,193.7 152.0,193.1 152.5,192.5 153.0,191.9 153.5,191.3 154.0,190.7 154.5,190.1 155.0,189.5 155.5,188.9 156.0,188.3 156.5,187.7 157.0,187.1 157.5,186.5 158.0,186.0 158.5,185.6 159.0,185.1 159.5,184.6 160.0,184.2 160.5,183.7 161.0,183.2 161.5,182.8 162.0,182.3 162.5,181.8 163.0,181.4 163.5,180.9 164.0,180.4 164.5,180.0 165.0,179.5 165.5,179.1 166.0,178.7 166.5,178.2 167.0,177.8 167.5,177.4 168.0,177.0 168.5,176.6 169.0,176.2 169.5,175.8 170.0,175.3 170.5,174.9 171.0,174.5 171.5,174.3 172.0,174.0 172.5,173.8 173.0,173.6 173.5,173.3 174.0,173.1 174.5,172.9 175.0,172.7 175.5,172.4 176.0,172.2 176.5,172.0 177.0,171.7 177.5,171.5 178.0,171.8 178.5,172.1 179.0,172.3 179.5,172.6 180.0,172.9 180.5,173.2 181.0,173.4 181.5,173.7 182.0,174.0 182.5,173.9 183.0,173.9 183.5,173.8 184.0,173.8 184.5,173.7 185.0,173.6 185.5,173.6 186.0,173.5 186.5,173.9 187.0,174.4 187.5,174.8 188.0,175.2 188.5,175.7 189.0,176.1 189.5,176.6 190.0,177.0 190.5,177.9 191.0,178.7 191.5,179.6 192.0,180.5 192.5,181.3 193.0,182.2 193.5,183.1 194.0,183.9 194.5,184.8 195.0,185.7 195.5,186.5 196.0,187.4 196.5,188.3 197.0,189.1 197.5,190.0 198.0,190.9 198.5,191.9 199.0,192.8 199.5,193.7 200.0,194.7 200.5,195.6 201.0,196.5 201.5,197.5 202.0,198.4 202.5,199.3 203.0,200.3 203.5,201.2 204.0,202.1 204.5,203.1 205.0,204.0 205.5,205.0 206.0,206.0 206.5,206.9 207.0,207.9 207.5,208.9 208.0,209.9 208.5,210.9 209.0,211.7 209.5,212.5 210.0,213.3 210.5,214.1 211.0,215.0 211.5,215.8 212.0,216.6 212.5,217.4 213.0,218.2 213.5,219.0 214.0,219.8 214.5,220.6 215.0,221.4 215.5,222.2 216.0,223.0 216.5,223.8 217.0,224.6 217.5,225.4 218.0,226.2 218.5,227.1 219.0,227.9 219.5,228.7 220.0,229.5 220.5,230.3 221.0,231.1 221.5,231.9 222.0,232.7 222.5,233.5 223.0,234.4 223.5,235.1 224.0,235.8 224.5,236.5 225.0,237.2 225.5,237.9 226.0,238.5 226.5,239.2 227.0,239.9 227.5,240.6 228.0,241.3 228.5,242.0 229.0,242.6 229.5,243.3 230.0,244.0 230.5,244.6 231.0,245.2 231.5,245.8 232.0,246.3 232.5,246.9 233.0,247.5 233.5,248.1 234.0,248.7 234.5,249.2 235.0,249.8 235.5,250.4 236.0,251.0 236.5,251.6 237.0,252.2 237.5,252.8 238.0,253.4 238.5,254.0 239.0,254.6 239.5,255.2 240.0,255.8 240.5,256.4 241.0,257.0 241.5,257.4 242.0,257.8 242.5,258.2 243.0,258.6 243.5,259.0 244.0,259.4 244.5,259.8 245.0,260.2 245.5,260.6 246.0,261.0" stroke-width="2.00"/>
<polyline points="49.0,283.5 102.5,283.5 103.0,283.0 103.5,282.5 104.0,281.9 104.5,281.3 105.0,279.6 105.5,277.9 106.0,276.2 106.5,274.5 107.0,272.7 107.5,270.9 108.0,269.1 108.5,267.3 109.0,265.5 109.5,263.7 110.0,261.9 110.5,259.3 111.0,256.1 111.5,253.0 112.0,249.9 112.5,246.8 113.0,243.7 113.5,241.7 114.0,239.7 114.5,237.7 115.0,235.7 115.5,233.8 116.0,231.8 116.5,229.9 117.0,228.1 117.5,226.3 118.0,224.5 118.5,222.7 119.0,220.8 119.5,219.0 120.0,217.2 120.5,216.0 121.0,215.1 121.5,214.2 122.0,213.4 122.5,212.5 123.0,211.6 123.5,210.8 124.0,210.0 124.5,209.5 125.0,209.1 125.5,208.7 126.0,208.3 126.5,207.8 127.0,207.4 127.5,207.0 128.0,206.6 128.5,206.2 129.0,205.8 129.5,205.4 130.0,205.0 130.5,204.8 131.0,204.6 131.5,204.4 132.0,204.2 132.5,204.0 133.0,203.8 133.5,203.6 134.0,203.4 134.5,203.2 135.0,203.0 135.5,202.8 136.0,202.6 136.5,202.4 137.0,202.2 137.5,202.0 138.0,201.8 138.5,201.6 139.0,201.5 139.5,201.3 140.0,201.1 140.5,200.9 141.0,200.7 141.5,200.5 142.0,200.3 142.5,200.1 143.0,199.7 143.5,199.4 144.0,199.0 144.5,198.7 145.0,198.3 145.5,198.0 146.0,197.6 146.5,197.2 147.0,196.9 147.5,196.5 148.0,196.2 148.5,195.8 149.0,195.5 149.5,195.1 150.0,194.7 150.5,194.2 151.0,193.6 151.5,193.0 152.0,192.4 152.5,191.8 153.0,191.3 153.5,190.7 154.0,190.1 154.5,189.5 155.0,188.9 155.5,188.3 156.0,187.8 156.5,187.2 157.0,186.6 157.5,186.0 158.0,185.5 158.5,185.1 159.0,184.6 159.5,184.2 160.0,183.7 160.5,183.3 161.0,182.8 161.5,182.3 162.0,181.9 162.5,181.4 163.0,181.0 163.5,180.5 164.0,180.0 164.5,179.6 165.0,179.1 165.5,178.7 166.0,178.3 166.5,177.9 167.0,177.5 167.5,177.0 168.0,176.6 168.5,176.2 169.0,175.8 169.5,175.4 170.0,175.0 170.5,174.6 171.0,174.2 171.5,173.9 172.0,173.7 172.5,173.5 173.0,173.2 173.5,173.0 174.0,172.8 174.5,172.5 175.0,172.3 175.5,172.1 176.0,171.9 176.5,171.6 177.0,171.4 177.5,171.2 178.0,171.4 178.5,171.7 179.0,172.0 179.5,172.3 180.0,172.5 180.5,172.8 181.0,173.1 181.5,173.4 182.0,173.7 182.5,173.6 183.0,173.5 183.5,173.5 184.0,173.4 184.5,173.4 185.0,173.3 185.5,173.3 186.0,173.2 186.5,173.6 187.0,174.1 187.5,174.5 188.0,174.9 188.5,175.4 189.0,175.8 189.5,176.2 190.0,176.7 190.5,177.5 191.0,178.4 191.5,179.3 192.0,180.1 192.5,181.0 193.0,181.8 193.5,182.7 194.0,183.6 194.5,184.4 195.0,185.3 195.5,186.2 196.0,187.0 196.5,187.9 197.0,188.7 197.5,189.6 198.0,190.5 198.5,191.5 199.0,192.4 199.5,193.4 200.0,194.3 200.5,195.2 201.0,196.2 201.5,197.1 202.0,198.1 202.5,199.0 203.0,200.0 203.5,200.9 204.0,201.8 204.5,202.8 205.0,203.7 205.5,204.7 206.0,205.7 206.5,206.7 207.0,207.7 207.5,208.7 208.0,209.7 208.5,210.7 209.0,211.5 209.5,212.4 210.0,213.2 210.5,214.0 211.0,214.8 211.5,215.6 212.0,216.4 212.5,217.2 213.0,218.0 213.5,218.8 214.0,219.7 214.5,220.5 215.0,221.3 215.5,222.1 216.0,222.9 216.5,223.7 217.0,224.5 217.5,225.3 218.0,226.1 218.5,226.9 219.0,227.7 219.5,228.5 220.0,229.4 220.5,230.2 221.0,231.0 221.5,231.8 222.0,232.6 222.5,233.4 223.0,234.2 223.5,235.0 224.0,235.7 224.5,236.4 225.0,237.1 225.5,237.8 226.0,238.4 226.5,239.1 227.0,239.8 227.5,240.5 228.0,241.1 228.5,241.8 229.0,242.5 229.5,243.2 230.0,243.9 230.5,244.4 231.0,245.0 231.5,245.6 232.0,246.2 232.5,246.7 233.0,247.3 233.5,247.9 234.0,248.5 234.5,249.1 235.0,249.6 235.5,250.2 236.0,250.8 236.5,251.4 237.0,252.0 237.5,252.6 238.0,253.2 238.5,253.8 239.0,254.3 239.5,254.9 240.0,255.5 240.5,256.1 241.0,256.7 241.5,257.1 242.0,257.5 242.5,257.9 243.0,258.3 243.5,258.7 244.0,259.1 244.5,259.5 245.0,259.9 245.5,260.3 246.0,260.7" stroke-width="2.00"/>
<polyline points="49.0,283.5 102.5,283.5 103.0,283.0 103.5,282.4 104.0,281.8 104.5,281.1 105.0,279.4 105.5,277.6 106.0,275.8 106.5,274.0 107.0,272.2 107.5,270.3 108.0,268.4 108.5,266.6 109.0,264.7 109.5,262.9 110.0,261.0 110.5,258.4 111.0,255.3 111.5,252.2 112.0,249.1 112.5,246.0 113.0,242.8 113.5,240.8 114.0,238.8 114.5,236.7 115.0,234.8 115.5,232.8 116.0,230.8 116.5,229.0 117.0,227.1 117.5,225.3 118.0,223.5 118.5,221.6 119.0,219.8 119.5,218.0 120.0,216.2 120.5,215.0 121.0,214.1 121.5,213.2 122.0,212.3 122.5,211.5 123.0,210.6 123.5,209.7 124.0,208.9 124.5,208.5 125.0,208.1 125.5,207.6 126.0,207.2 126.5,206.8 127.0,206.3 127.5,205.9 128.0,205.5 128.5,205.1 129.0,204.7 129.5,204.3 130.0,203.9 130.5,203.7 131.0,203.5 131.5,203.3 132.0,203.1 132.5,202.9 133.0,202.7 133.5,202.5 134.0,202.3 134.5,202.1 135.0,201.9 135.5,201.7 136.0,201.6 136.5,201.4 137.0,201.2 137.5,201.0 138.0,200.9 138.5,200.7 139.0,200.5 139.5,200.3 140.0,200.1 140.5,200.0 141.0,199.8 141.5,199.6 142.0,199.4 142.5,199.2 143.0,198.9 143.5,198.5 144.0,198.2 144.5,197.8 145.0,197.5 145.5,197.1 146.0,196.8 146.5,196.4 147.0,196.1 147.5,195.7 148.0,195.4 148.5,195.0 149.0,194.7 149.5,194.3 150.0,194.0 150.5,193.4 151.0,192.9 151.5,192.3 152.0,191.7 152.5,191.2 153.0,190.6 153.5,190.1 154.0,189.5 154.5,188.9 155.0,188.4 155.5,187.8 156.0,187.2 156.5,186.6 157.0,186.1 157.5,185.5 158.0,185.1 158.5,184.6 159.0,184.2 159.5,183.7 160.0,183.3 160.5,182.8 161.0,182.4 161.5,181.9 162.0,181.4 162.5,181.0 163.0,180.5 163.5,180.1 164.0,179.6 164.5,179.2 165.0,178.7 165.5,178.3 166.0,177.9 166.5,177.5 167.0,177.1 167.5,176.7 168.0,176.3 168.5,175.9 169.0,175.4 169.5,175.0 170.0,174.6 170.5,174.2 171.0,173.8 171.5,173.6 172.0,173.4 172.5,173.1 173.0,172.9 173.5,172.7 174.0,172.4 174.5,172.2 175.0,172.0 175.5,171.7 176.0,171.5 176.5,171.3 177.0,171.1 177.5,170.8 178.0,171.1 178.5,171.4 179.0,171.7 179.5,171.9 180.0,172.2 180.5,172.5 181.0,172.8 181.5,173.0 182.0,173.3 182.5,173.3 183.0,173.2 183.5,173.2 184.0,173.1 184.5,173.1 185.0,173.0 185.5,173.0 186.0,172.9 186.5,173.3 187.0,173.8 187.5,174.2 188.0,174.6 188.5,175.1 189.0,175.5 189.5,175.9 190.0,176.4 190.5,177.2 191.0,178.1 191.5,178.9 192.0,179.8 192.5,180.6 193.0,181.5 193.5,182.4 194.0,183.2 194.5,184.1 195.0,184.9 195.5,185.8 196.0,186.6 196.5,187.5 197.0,188.3 197.5,189.2 198.0,190.1 198.5,191.1 199.0,192.0 199.5,193.0 200.0,193.9 200.5,194.9 201.0,195.8 201.5,196.8 202.0,197.7 202.5,198.7 203.0,199.6 203.5,200.6 204.0,201.5 204.5,202.5 205.0,203.4 205.5,204.4 206.0,205.4 206.5,206.4 207.0,207.4 207.5,208.4 208.0,209.4 208.5,210.4 209.0,211.4 209.5,212.2 210.0,213.0 210.5,213.9 211.0,214.7 211.5,215.5 212.0,216.3 212.5,217.1 213.0,217.9 213.5,218.7 214.0,219.5 214.5,220.3 215.0,221.1 215.5,221.9 216.0,222.7 216.5,223.6 217.0,224.4 217.5,225.2 218.0,226.0 218.5,226.8 219.0,227.6 219.5,228.4 220.0,229.2 220.5,230.0 221.0,230.8 221.5,231.7 222.0,232.5 222.5,233.3 223.0,234.1 223.5,234.9 224.0,235.6 224.5,236.3 225.0,237.0 225.5,237.6 226.0,238.3 226.5,239.0 227.0,239.7 227.5,240.3 228.0,241.0 228.5,241.7 229.0,242.4 229.5,243.0 230.0,243.7 230.5,244.3 231.0,244.9 231.5,245.4 232.0,246.0 232.5,246.6 233.0,247.1 233.5,247.7 234.0,248.3 234.5,248.9 235.0,249.4 235.5,250.0 236.0,250.6 236.5,251.1 237.0,251.7 237.5,252.3 238.0,252.9 238.5,253.5 239.0,254.1 239.5,254.7 240.0,255.3 240.5,255.9 241.0,256.4 241.5,256.8 242.0,257.2 242.5,257.6 243.0,258.0 243.5,258.4 244.0,258.8 244.5,259.2 245.0,259.6 245.5,260.0 246.0,260.4" stroke-width="2.00"/>
<polyline points="49.0,283.5 102.5,283.5 103.0,282.9 103.5,282.4 104.0,281.6 104.5,280.9 105.0,279.1 105.5,277.3 106.0,275.4 106.5,273.5 107.0,271.6 107.5,269.7 108.0,267.8 108.5,265.9 109.0,264.0 109.5,262.1 110.0,260.2 110.5,257.5 111.0,254.4 111.5,251.3 112.0,248.2 112.5,245.1 113.0,242.0 113.5,239.9 114.0,237.9 114.5,235.8 115.0,233.8 115.5,231.8 116.0,229.9 116.5,228.0 117.0,226.1 117.5,224.3 118.0,222.5 118.5,220.6 119.0,218.8 119.5,217.0 120.0,215.2 120.5,214.0 121.0,213.1 121.5,212.2 122.0,211.3 122.5,210.4 123.0,209.5 123.5,208.7 124.0,207.9 124.5,207.4 125.0,207.0 125.5,206.6 126.0,206.1 126.5,205.7 127.0,205.3 127.5,204.8 128.0,204.4 128.5,204.1 129.0,203.7 129.5,203.3 130.0,202.9 130.5,202.7 131.0,202.5 131.5,202.3 132.0,202.1 132.5,201.9 133.0,201.7 133.5,201.5 134.0,201.3 134.5,201.1 135.0,200.9 135.5,200.7 136.0,200.5 136.5,200.4 137.0,200.2 137.5,200.1 138.0,199.9 138.5,199.7 139.0,199.6 139.5,199.4 140.0,199.2 140.5,199.1 141.0,198.9 141.5,198.7 142.0,198.5 142.5,198.3 143.0,198.0 143.5,197.6 144.0,197.3 144.5,196.9 145.0,196.6 145.5,196.3 146.0,195.9 146.5,195.6 147.0,195.2 147.5,194.9 148.0,194.6 148.5,194.2 149.0,193.9 149.5,193.6 150.0,193.2 150.5,192.7 151.0,192.1 151.5,191.6 152.0,191.1 152.5,190.5 153.0,190.0 153.5,189.4 154.0,188.9 154.5,188.3 155.0,187.8 155.5,187.2 156.0,186.7 156.5,186.1 157.0,185.6 157.5,185.0 158.0,184.6 158.5,184.1 159.0,183.7 159.5,183.3 160.0,182.8 160.5,182.4 161.0,181.9 161.5,181.5 162.0,181.0 162.5,180.6 163.0,180.1 163.5,179.7 164.0,179.2 164.5,178.8 165.0,178.3 165.5,177.9 166.0,177.5 166.5,177.1 167.0,176.7 167.5,176.3 168.0,175.9 168.5,175.5 169.0,175.1 169.5,174.7 170.0,174.3 170.5,173.9 171.0,173.5 171.5,173.2 172.0,173.0 172.5,172.8 173.0,172.6 173.5,172.3 174.0,172.1 174.5,171.9 175.0,171.6 175.5,171.4 176.0,171.2 176.5,170.9 177.0,170.7 177.5,170.5 178.0,170.8 178.5,171.0 179.0,171.3 179.5,171.6 180.0,171.9 180.5,172.1 181.0,172.4 181.5,172.7 182.0,173.0 182.5,172.9 183.0,172.9 183.5,172.8 184.0,172.8 184.5,172.7 185.0,172.7 185.5,172.6 186.0,172.6 186.5,173.0 187.0,173.4 187.5,173.9 188.0,174.3 188.5,174.7 189.0,175.2 189.5,175.6 190.0,176.0 190.5,176.9 191.0,177.7 191.5,178.6 192.0,179.4 192.5,180.3 193.0,181.1 193.5,182.0 194.0,182.8 194.5,183.7 195.0,184.5 195.5,185.4 196.0,186.2 196.5,187.1 197.0,187.9 197.5,188.8 198.0,189.8 198.5,190.7 199.0,191.7 199.5,192.6 200.0,193.6 200.5,194.5 201.0,195.5 201.5,196.5 202.0,197.4 202.5,198.4 203.0,199.3 203.5,200.3 204.0,201.2 204.5,202.2 205.0,203.2 205.5,204.2 206.0,205.2 206.5,206.2 207.0,207.2 207.5,208.2 208.0,209.2 208.5,210.2 209.0,211.2 209.5,212.0 210.0,212.9 210.5,213.7 211.0,214.6 211.5,215.4 212.0,216.2 212.5,217.0 213.0,217.8 213.5,218.6 214.0,219.4 214.5,220.2 215.0,221.0 215.5,221.8 216.0,222.6 216.5,223.4 217.0,224.2 217.5,225.0 218.0,225.9 218.5,226.7 219.0,227.5 219.5,228.3 220.0,229.1 220.5,229.9 221.0,230.7 221.5,231.5 222.0,232.3 222.5,233.2 223.0,234.0 223.5,234.8 224.0,235.4 224.5,236.1 225.0,236.8 225.5,237.5 226.0,238.2 226.5,238.9 227.0,239.5 227.5,240.2 228.0,240.9 228.5,241.6 229.0,242.2 229.5,242.9 230.0,243.6 230.5,244.1 231.0,244.7 231.5,245.3 232.0,245.8 232.5,246.4 233.0,247.0 233.5,247.5 234.0,248.1 234.5,248.7 235.0,249.2 235.5,249.8 236.0,250.3 236.5,250.9 237.0,251.5 237.5,252.1 238.0,252.7 238.5,253.2 239.0,253.8 239.5,254.4 240.0,255.0 240.5,255.6 241.0,256.2 241.5,256.6 242.0,256.9 242.5,257.3 243.0,257.7 243.5,258.1 244.0,258.5 244.5,258.9 245.0,259.3 245.5,259.7 246.0,260.1" stroke-width="2.00"/>
<polyline points="49.0,283.5 102.5,283.5 103.0,282.9 103.5,282.3 104.0,281.5 104.5,280.7 105.0,278.9 105.5,276.9 106.0,275.0 106.5,273.0 107.0,271.1 107.5,269.1 108.0,267.1 108.5,265.2 109.0,263.2 109.5,261.3 110.0,259.3 110.5,256.7 111.0,253.6 111.5,250.5 112.0,247.4 112.5,244.3 113.0,241.2 113.5,239.1 114.0,237.0 114.5,234.8 115.0,232.8 115.5,230.9 116.0,228.9 116.5,227.0 117.0,225.2 117.5,223.3 118.0,221.5 118.5,219.6 119.0,217.8 119.5,215.9 120.0,214.2 120.5,212.9 121.0,212.0 121.5,211.1 122.0,210.2 122.5,209.3 123.0,208.4 123.5,207.6 124.0,206.8 124.5,206.4 125.0,205.9 125.5,205.5 126.0,205.1 126.5,204.6 127.0,204.2 127.5,203.8 128.0,203.4 128.5,203.0 129.0,202.6 129.5,202.2 130.0,201.8 130.5,201.6 131.0,201.4 131.5,201.2 132.0,201.0 132.5,200.8 133.0,200.6 133.5,200.4 134.0,200.2 134.5,200.0 135.0,199.8 135.5,199.7 136.0,199.5 136.5,199.4 137.0,199.2 137.5,199.1 138.0,198.9 138.5,198.8 139.0,198.6 139.5,198.4 140.0,198.3 140.5,198.1 141.0,198.0 141.5,197.8 142.0,197.6 142.5,197.4 143.0,197.1 143.5,196.7 144.0,196.4 144.5,196.1 145.0,195.7 145.5,195.4 146.0,195.1 146.5,194.7 147.0,194.4 147.5,194.1 148.0,193.8 148.5,193.4 149.0,193.1 149.5,192.8 150.0,192.5 150.5,191.9 151.0,191.4 151.5,190.9 152.0,190.4 152.5,189.9 153.0,189.4 153.5,188.8 154.0,188.3 154.5,187.7 155.0,187.2 155.5,186.7 156.0,186.1 156.5,185.6 157.0,185.0 157.5,184.5 158.0,184.1 158.5,183.7 159.0,183.2 159.5,182.8 160.0,182.4 160.5,181.9 161.0,181.5 161.5,181.0 162.0,180.6 162.5,180.2 163.0,179.7 163.5,179.3 164.0,178.8 164.5,178.4 165.0,177.9 165.5,177.5 166.0,177.1 166.5,176.7 167.0,176.3 167.5,175.9 168.0,175.5 168.5,175.1 169.0,174.7 169.5,174.3 170.0,173.9 170.5,173.5 171.0,173.1 171.5,172.9 172.0,172.7 172.5,172.4 173.0,172.2 173.5,172.0 174.0,171.8 174.5,171.5 175.0,171.3 175.5,171.1 176.0,170.8 176.5,170.6 177.0,170.4 177.5,170.1 178.0,170.4 178.5,170.7 179.0,171.0 179.5,171.3 180.0,171.5 180.5,171.8 181.0,172.1 181.5,172.4 182.0,172.6 182.5,172.6 183.0,172.6 183.5,172.5 184.0,172.5 184.5,172.4 185.0,172.4 185.5,172.3 186.0,172.3 186.5,172.7 187.0,173.1 187.5,173.6 188.0,174.0 188.5,174.4 189.0,174.9 189.5,175.3 190.0,175.7 190.5,176.6 191.0,177.4 191.5,178.3 192.0,179.1 192.5,179.9 193.0,180.8 193.5,181.6 194.0,182.5 194.5,183.3 195.0,184.2 195.5,185.0 196.0,185.9 196.5,186.7 197.0,187.6 197.5,188.4 198.0,189.4 198.5,190.3 199.0,191.3 199.5,192.3 200.0,193.2 200.5,194.2 201.0,195.2 201.5,196.1 202.0,197.1 202.5,198.1 203.0,199.0 203.5,200.0 204.0,200.9 204.5,201.9 205.0,202.9 205.5,203.9 206.0,204.9 206.5,205.9 207.0,207.0 207.5,208.0 208.0,209.0 208.5,210.0 209.0,211.0 209.5,211.9 210.0,212.7 210.5,213.6 211.0,214.4 211.5,215.2 212.0,216.0 212.5,216.9 213.0,217.7 213.5,218.5 214.0,219.3 214.5,220.1 215.0,220.9 215.5,221.7 216.0,222.5 216.5,223.3 217.0,224.1 217.5,224.9 218.0,225.7 218.5,226.5 219.0,227.3 219.5,228.2 220.0,229.0 220.5,229.8 221.0,230.6 221.5,231.4 222.0,232.2 222.5,233.0 223.0,233.8 223.5,234.6 224.0,235.3 224.5,236.0 225.0,236.7 225.5,237.4 226.0,238.1 226.5,238.8 227.0,239.4 227.5,240.1 228.0,240.8 228.5,241.4 229.0,242.1 229.5,242.7 230.0,243.4 230.5,244.0 231.0,244.6 231.5,245.1 232.0,245.7 232.5,246.2 233.0,246.8 233.5,247.3 234.0,247.9 234.5,248.5 235.0,249.0 235.5,249.6 236.0,250.1 236.5,250.7 237.0,251.3 237.5,251.8 238.0,252.4 238.5,253.0 239.0,253.6 239.5,254.2 240.0,254.7 240.5,255.3 241.0,255.9 241.5,256.3 242.0,256.7 242.5,257.1 243.0,257.4 243.5,257.8 244.0,258.2 244.5,258.6 245.0,259.0 245.5,259.4 246.0,259.8" stroke-width="2.00"/>
<polyline points="49.0,283.5 102.5,283.5 103.0,282.9 103.5,282.3 104.0,281.4 104.5,280.5 105.0,278.6 105.5,276.6 106.0,274.6 106.5,272.5 107.0,270.5 107.5,268.5 108.0,266.5 108.5,264.5 109.0,262.5 109.5,260.5 110.0,258.5 110.5,255.8 111.0,252.7 111.5,249.6 112.0,246.5 112.5,243.4 113.0,240.4 113.5,238.2 114.0,236.0 114.5,233.9 115.0,231.9 115.5,229.9 116.0,227.9 116.5,226.0 117.0,224.2 117.5,222.3 118.0,220.5 118.5,218.6 119.0,216.7 119.5,214.9 120.0,213.1 120.5,211.9 121.0,211.0 121.5,210.1 122.0,209.2 122.5,208.3 123.0,207.4 123.5,206.6 124.0,205.8 124.5,205.3 125.0,204.9 125.5,204.4 126.0,204.0 126.5,203.6 127.0,203.1 127.5,202.7 128.0,202.3 128.5,201.9 129.0,201.5 129.5,201.2 130.0,200.8 130.5,200.6 131.0,200.4 131.5,200.2 132.0,200.0 132.5,199.8 133.0,199.6 133.5,199.4 134.0,199.2 134.5,199.0 135.0,198.8 135.5,198.7 136.0,198.5 136.5,198.4 137.0,198.2 137.5,198.1 138.0,197.9 138.5,197.8 139.0,197.7 139.5,197.5 140.0,197.4 140.5,197.2 141.0,197.1 141.5,196.9 142.0,196.7 142.5,196.5 143.0,196.2 143.5,195.9 144.0,195.5 144.5,195.2 145.0,194.9 145.5,194.6 146.0,194.2 146.5,193.9 147.0,193.6 147.5,193.3 148.0,193.0 148.5,192.6 149.0,192.3 149.5,192.0 150.0,191.7 150.5,191.2 151.0,190.7 151.5,190.2 152.0,189.7 152.5,189.2 153.0,188.7 153.5,188.2 154.0,187.7 154.5,187.2 155.0,186.6 155.5,186.1 156.0,185.6 156.5,185.1 157.0,184.5 157.5,184.0 158.0,183.6 158.5,183.2 159.0,182.8 159.5,182.3 160.0,181.9 160.5,181.5 161.0,181.1 161.5,180.6 162.0,180.2 162.5,179.7 163.0,179.3 163.5,178.9 164.0,178.4 164.5,178.0 165.0,177.5 165.5,177.1 166.0,176.7 166.5,176.3 167.0,175.9 167.5,175.6 168.0,175.2 168.5,174.8 169.0,174.4 169.5,174.0 170.0,173.6 170.5,173.2 171.0,172.8 171.5,172.6 172.0,172.3 172.5,172.1 173.0,171.9 173.5,171.6 174.0,171.4 174.5,171.2 175.0,171.0 175.5,170.7 176.0,170.5 176.5,170.3 177.0,170.0 177.5,169.8 178.0,170.1 178.5,170.4 179.0,170.6 179.5,170.9 180.0,171.2 180.5,171.5 181.0,171.7 181.5,172.0 182.0,172.3 182.5,172.3 183.0,172.2 183.5,172.2 184.0,172.1 184.5,172.1 185.0,172.1 185.5,172.0 186.0,172.0 186.5,172.4 187.0,172.8 187.5,173.2 188.0,173.7 188.5,174.1 189.0,174.5 189.5,175.0 190.0,175.4 190.5,176.2 191.0,177.1 191.5,177.9 192.0,178.8 192.5,179.6 193.0,180.4 193.5,181.3 194.0,182.1 194.5,183.0 195.0,183.8 195.5,184.6 196.0,185.5 196.5,186.3 197.0,187.2 197.5,188.0 198.0,189.0 198.5,189.9 199.0,190.9 199.5,191.9 200.0,192.9 200.5,193.8 201.0,194.8 201.5,195.8 202.0,196.8 202.5,197.7 203.0,198.7 203.5,199.7 204.0,200.7 204.5,201.6 205.0,202.6 205.5,203.6 206.0,204.7 206.5,205.7 207.0,206.7 207.5,207.8 208.0,208.8 208.5,209.8 209.0,210.8 209.5,211.7 210.0,212.6 210.5,213.5 211.0,214.3 211.5,215.1 212.0,215.9 212.5,216.7 213.0,217.5 213.5,218.3 214.0,219.1 214.5,219.9 215.0,220.7 215.5,221.6 216.0,222.4 216.5,223.2 217.0,224.0 217.5,224.8 218.0,225.6 218.5,226.4 219.0,227.2 219.5,228.0 220.0,228.8 220.5,229.6 221.0,230.5 221.5,231.3 222.0,232.1 222.5,232.9 223.0,233.7 223.5,234.5 224.0,235.2 224.5,235.9 225.0,236.6 225.5,237.3 226.0,238.0 226.5,238.6 227.0,239.3 227.5,240.0 228.0,240.6 228.5,241.3 229.0,241.9 229.5,242.6 230.0,243.3 230.5,243.9 231.0,244.4 231.5,245.0 232.0,245.5 232.5,246.1 233.0,246.6 233.5,247.2 234.0,247.7 234.5,248.3 235.0,248.8 235.5,249.4 236.0,249.9 236.5,250.5 237.0,251.0 237.5,251.6 238.0,252.2 238.5,252.8 239.0,253.3 239.5,253.9 240.0,254.5 240.5,255.0 241.0,255.6 241.5,256.0 242.0,256.4 242.5,256.8 243.0,257.2 243.5,257.6 244.0,257.9 244.5,258.3 245.0,258.7 245.5,259.1 246.0,259.5" stroke-width="2.00"/>
<polyline points="49.0,283.5 102.5,283.5 103.0,282.9 103.5,282.3 104.0,281.3 104.5,280.3 105.0,278.4 105.5,276.3 106.0,274.2 106.5,272.1 107.0,270.0 107.5,267.9 108.0,265.8 108.5,263.8 109.0,261.7 109.5,259.7 110.0,257.6 110.5,254.9 111.0,251.9 111.5,248.8 112.0,245.7 112.5,242.6 113.0,239.5 113.5,237.3 114.0,235.1 114.5,232.9 115.0,230.9 115.5,228.9 116.0,227.0 116.5,225.0 117.0,223.2 117.5,221.3 118.0,219.5 118.5,217.6 119.0,215.7 119.5,213.9 120.0,212.1 120.5,210.9 121.0,210.0 121.5,209.1 122.0,208.1 122.5,207.2 123.0,206.3 123.5,205.5 124.0,204.7 124.5,204.3 125.0,203.8 125.5,203.4 126.0,202.9 126.5,202.5 127.0,202.0 127.5,201.6 128.0,201.2 128.5,200.9 129.0,200.5 129.5,200.1 130.0,199.8 130.5,199.6 131.0,199.4 131.5,199.2 132.0,199.0 132.5,198.8 133.0,198.6 133.5,198.4 134.0,198.2 134.5,198.0 135.0,197.8 135.5,197.6 136.0,197.5 136.5,197.4 137.0,197.2 137.5,197.1 138.0,197.0 138.5,196.8 139.0,196.7 139.5,196.6 140.0,196.4 140.5,196.3 141.0,196.2 141.5,196.0 142.0,195.8 142.5,195.6 143.0,195.3 143.5,195.0 144.0,194.7 144.5,194.3 145.0,194.0 145.5,193.7 146.0,193.4 146.5,193.1 147.0,192.8 147.5,192.5 148.0,192.2 148.5,191.9 149.0,191.6 149.5,191.3 150.0,191.0 150.5,190.5 151.0,190.0 151.5,189.5 152.0,189.0 152.5,188.6 153.0,188.1 153.5,187.6 154.0,187.1 154.5,186.6 155.0,186.1 155.5,185.5 156.0,185.0 156.5,184.5 157.0,184.0 157.5,183.5 158.0,183.1 158.5,182.7 159.0,182.3 159.5,181.9 160.0,181.5 160.5,181.1 161.0,180.6 161.5,180.2 162.0,179.7 162.5,179.3 163.0,178.9 163.5,178.4 164.0,178.0 164.5,177.6 165.0,177.1 165.5,176.7 166.0,176.3 166.5,176.0 167.0,175.6 167.5,175.2 168.0,174.8 168.5,174.4 169.0,174.0 169.5,173.6 170.0,173.2 170.5,172.8 171.0,172.5 171.5,172.2 172.0,172.0 172.5,171.8 173.0,171.5 173.5,171.3 174.0,171.1 174.5,170.8 175.0,170.6 175.5,170.4 176.0,170.2 176.5,169.9 177.0,169.7 177.5,169.5 178.0,169.7 178.5,170.0 179.0,170.3 179.5,170.6 180.0,170.8 180.5,171.1 181.0,171.4 181.5,171.7 182.0,172.0 182.5,171.9 183.0,171.9 183.5,171.9 184.0,171.8 184.5,171.8 185.0,171.8 185.5,171.7 186.0,171.7 186.5,172.1 187.0,172.5 187.5,172.9 188.0,173.4 188.5,173.8 189.0,174.2 189.5,174.7 190.0,175.1 190.5,175.9 191.0,176.7 191.5,177.6 192.0,178.4 192.5,179.3 193.0,180.1 193.5,180.9 194.0,181.8 194.5,182.6 195.0,183.4 195.5,184.3 196.0,185.1 196.5,185.9 197.0,186.8 197.5,187.6 198.0,188.6 198.5,189.6 199.0,190.5 199.5,191.5 200.0,192.5 200.5,193.5 201.0,194.5 201.5,195.5 202.0,196.4 202.5,197.4 203.0,198.4 203.5,199.4 204.0,200.4 204.5,201.3 205.0,202.3 205.5,203.4 206.0,204.4 206.5,205.5 207.0,206.5 207.5,207.5 208.0,208.6 208.5,209.6 209.0,210.6 209.5,211.5 210.0,212.4 210.5,213.3 211.0,214.2 211.5,215.0 212.0,215.8 212.5,216.6 213.0,217.4 213.5,218.2 214.0,219.0 214.5,219.8 215.0,220.6 215.5,221.4 216.0,222.2 216.5,223.0 217.0,223.8 217.5,224.7 218.0,225.5 218.5,226.3 219.0,227.1 219.5,227.9 220.0,228.7 220.5,229.5 221.0,230.3 221.5,231.1 222.0,232.0 222.5,232.8 223.0,233.6 223.5,234.4 224.0,235.1 224.5,235.8 225.0,236.5 225.5,237.2 226.0,237.9 226.5,238.5 227.0,239.2 227.5,239.8 228.0,240.5 228.5,241.1 229.0,241.8 229.5,242.5 230.0,243.1 230.5,243.7 231.0,244.3 231.5,244.8 232.0,245.4 232.5,245.9 233.0,246.4 233.5,247.0 234.0,247.5 234.5,248.1 235.0,248.6 235.5,249.1 236.0,249.7 236.5,250.2 237.0,250.8 237.5,251.4 238.0,251.9 238.5,252.5 239.0,253.1 239.5,253.6 240.0,254.2 240.5,254.8 241.0,255.3 241.5,255.7 242.0,256.1 242.5,256.5 243.0,256.9 243.5,257.3 244.0,257.6 244.5,258.0 245.0,258.4 245.5,258.8 246.0,259.2" stroke-width="2.00"/>
<polyline points="49.0,283.5 102.5,283.5 103.0,282.9 103.5,282.2 104.0,281.2 104.5,280.1 105.0,278.1 105.5,275.9 106.0,273.7 106.5,271.6 107.0,269.4 107.5,267.3 108.0,265.2 108.5,263.1 109.0,261.0 109.5,258.9 110.0,256.8 110.5,254.1 111.0,251.0 111.5,247.9 112.0,244.8 112.5,241.8 113.0,238.7 113.5,236.5 114.0,234.2 114.5,232.0 115.0,229.9 115.5,228.0 116.0,226.0 116.5,224.1 117.0,222.2 117.5,220.3 118.0,218.4 118.5,216.6 119.0,214.7 119.5,212.8 120.0,211.1 120.5,209.9 121.0,209.0 121.5,208.0 122.0,207.1 122.5,206.2 123.0,205.2 123.5,204.5 124.0,203.7 124.5,203.2 125.0,202.8 125.5,202.3 126.0,201.9 126.5,201.4 127.0,201.0 127.5,200.5 128.0,200.1 128.5,199.8 129.0,199.4 129.5,199.1 130.0,198.7 130.5,198.5 131.0,198.3 131.5,198.1 132.0,197.9 132.5,197.7 133.0,197.5 133.5,197.3 134.0,197.1 134.5,196.9 135.0,196.7 135.5,196.6 136.0,196.5 136.5,196.4 137.0,196.2 137.5,196.1 138.0,196.0 138.5,195.9 139.0,195.8 139.5,195.6 140.0,195.5 140.5,195.4 141.0,195.3 141.5,195.1 142.0,194.9 142.5,194.7 143.0,194.4 143.5,194.1 144.0,193.8 144.5,193.5 145.0,193.2 145.5,192.9 146.0,192.6 146.5,192.3 147.0,191.9 147.5,191.6 148.0,191.4 148.5,191.1 149.0,190.8 149.5,190.5 150.0,190.2 150.5,189.7 151.0,189.3 151.5,188.8 152.0,188.4 152.5,187.9 153.0,187.4 153.5,187.0 154.0,186.5 154.5,186.0 155.0,185.5 155.5,185.0 156.0,184.5 156.5,184.0 157.0,183.5 157.5,183.0 158.0,182.6 158.5,182.2 159.0,181.8 159.5,181.4 160.0,181.0 160.5,180.6 161.0,180.2 161.5,179.8 162.0,179.3 162.5,178.9 163.0,178.5 163.5,178.0 164.0,177.6 164.5,177.2 165.0,176.7 165.5,176.4 166.0,176.0 166.5,175.6 167.0,175.2 167.5,174.8 168.0,174.4 168.5,174.0 169.0,173.7 169.5,173.3 170.0,172.9 170.5,172.5 171.0,172.1 171.5,171.9 172.0,171.7 172.5,171.4 173.0,171.2 173.5,171.0 174.0,170.7 174.5,170.5 175.0,170.3 175.5,170.0 176.0,169.8 176.5,169.6 177.0,169.4 177.5,169.1 178.0,169.4 178.5,169.7 179.0,170.0 179.5,170.2 180.0,170.5 180.5,170.8 181.0,171.1 181.5,171.3 182.0,171.6 182.5,171.6 183.0,171.6 183.5,171.5 184.0,171.5 184.5,171.5 185.0,171.4 185.5,171.4 186.0,171.4 186.5,171.8 187.0,172.2 187.5,172.6 188.0,173.1 188.5,173.5 189.0,173.9 189.5,174.3 190.0,174.8 190.5,175.6 191.0,176.4 191.5,177.2 192.0,178.1 192.5,178.9 193.0,179.7 193.5,180.6 194.0,181.4 194.5,182.2 195.0,183.1 195.5,183.9 196.0,184.7 196.5,185.5 197.0,186.4 197.5,187.2 198.0,188.2 198.5,189.2 199.0,190.2 199.5,191.2 200.0,192.1 200.5,193.1 201.0,194.1 201.5,195.1 202.0,196.1 202.5,197.1 203.0,198.1 203.5,199.1 204.0,200.1 204.5,201.1 205.0,202.0 205.5,203.1 206.0,204.2 206.5,205.2 207.0,206.3 207.5,207.3 208.0,208.4 208.5,209.4 209.0,210.4 209.5,211.3 210.0,212.3 210.5,213.2 211.0,214.1 211.5,214.9 212.0,215.7 212.5,216.5 213.0,217.3 213.5,218.1 214.0,218.9 214.5,219.7 215.0,220.5 215.5,221.3 216.0,222.1 216.5,222.9 217.0,223.7 217.5,224.5 218.0,225.3 218.5,226.1 219.0,227.0 219.5,227.8 220.0,228.6 220.5,229.4 221.0,230.2 221.5,231.0 222.0,231.8 222.5,232.6 223.0,233.4 223.5,234.2 224.0,235.0 224.5,235.7 225.0,236.4 225.5,237.1 226.0,237.7 226.5,238.4 227.0,239.1 227.5,239.7 228.0,240.4 228.5,241.0 229.0,241.7 229.5,242.3 230.0,243.0 230.5,243.6 231.0,244.1 231.5,244.7 232.0,245.2 232.5,245.7 233.0,246.3 233.5,246.8 234.0,247.3 234.5,247.9 235.0,248.4 235.5,248.9 236.0,249.5 236.5,250.0 237.0,250.6 237.5,251.1 238.0,251.7 238.5,252.2 239.0,252.8 239.5,253.4 240.0,253.9 240.5,254.5 241.0,255.0 241.5,255.4 242.0,255.8 242.5,256.2 243.0,256.6 243.5,257.0 244.0,257.4 244.5,257.7 245.0,258.1 245.5,258.5 246.0,258.9" stroke-width="2.00"/>
<polyline points="49.0,283.5 102.5,283.5 103.0,282.8 103.5,282.2 104.0,281.0 104.5,279.9 105.0,277.8 105.5,275.5 106.0,273.2 106.5,270.9 107.0,268.7 107.5,266.6 108.0,264.4 108.5,262.2 109.0,260.0 109.5,257.9 110.0,255.7 110.5,253.0 111.0,249.9 111.5,246.9 112.0,243.8 112.5,240.7 113.0,237.7 113.5,235.4 114.0,233.1 114.5,230.8 115.0,228.7 115.5,226.7 116.0,224.8 116.5,222.8 117.0,221.0 117.5,219.1 118.0,217.2 118.5,215.3 119.0,213.4 119.5,211.5 120.0,209.8 120.5,208.6 121.0,207.7 121.5,206.7 122.0,205.8 122.5,204.8 123.0,203.9 123.5,203.1 124.0,202.4 124.5,201.9 125.0,201.5 125.5,201.0 126.0,200.5 126.5,200.1 127.0,199.6 127.5,199.1 128.0,198.8 128.5,198.5 129.0,198.1 129.5,197.8 130.0,197.4 130.5,197.2 131.0,197.0 131.5,196.8 132.0,196.6 132.5,196.4 133.0,196.2 133.5,196.0 134.0,195.8 134.5,195.6 135.0,195.4 135.5,195.3 136.0,195.2 136.5,195.1 137.0,195.0 137.5,194.9 138.0,194.8 138.5,194.7 139.0,194.6 139.5,194.5 140.0,194.4 140.5,194.2 141.0,194.1 141.5,194.0 142.0,193.8 142.5,193.6 143.0,193.3 143.5,193.0 144.0,192.7 144.5,192.4 145.0,192.1 145.5,191.8 146.0,191.5 146.5,191.2 147.0,190.9 147.5,190.6 148.0,190.3 148.5,190.1 149.0,189.8 149.5,189.5 150.0,189.2 150.5,188.8 151.0,188.4 151.5,187.9 152.0,187.5 152.5,187.1 153.0,186.7 153.5,186.2 154.0,185.7 154.5,185.2 155.0,184.8 155.5,184.3 156.0,183.8 156.5,183.3 157.0,182.9 157.5,182.4 158.0,182.0 158.5,181.6 159.0,181.2 159.5,180.9 160.0,180.5 160.5,180.1 161.0,179.6 161.5,179.2 162.0,178.8 162.5,178.4 163.0,177.9 163.5,177.5 164.0,177.1 164.5,176.7 165.0,176.3 165.5,175.9 166.0,175.5 166.5,175.1 167.0,174.7 167.5,174.3 168.0,174.0 168.5,173.6 169.0,173.2 169.5,172.8 170.0,172.5 170.5,172.1 171.0,171.7 171.5,171.5 172.0,171.2 172.5,171.0 173.0,170.8 173.5,170.5 174.0,170.3 174.5,170.1 175.0,169.8 175.5,169.6 176.0,169.4 176.5,169.2 177.0,168.9 177.5,168.7 178.0,169.0 178.5,169.3 179.0,169.5 179.5,169.8 180.0,170.1 180.5,170.4 181.0,170.6 181.5,170.9 182.0,171.2 182.5,171.2 183.0,171.2 183.5,171.1 184.0,171.1 184.5,171.1 185.0,171.1 185.5,171.0 186.0,171.0 186.5,171.4 187.0,171.8 187.5,172.2 188.0,172.7 188.5,173.1 189.0,173.5 189.5,173.9 190.0,174.4 190.5,175.2 191.0,176.0 191.5,176.8 192.0,177.7 192.5,178.5 193.0,179.3 193.5,180.1 194.0,180.9 194.5,181.8 195.0,182.6 195.5,183.4 196.0,184.2 196.5,185.1 197.0,185.9 197.5,186.7 198.0,187.7 198.5,188.7 199.0,189.7 199.5,190.7 200.0,191.7 200.5,192.7 201.0,193.7 201.5,194.7 202.0,195.7 202.5,196.7 203.0,197.7 203.5,198.7 204.0,199.7 204.5,200.7 205.0,201.7 205.5,202.8 206.0,203.8 206.5,204.9 207.0,206.0 207.5,207.0 208.0,208.1 208.5,209.2 209.0,210.2 209.5,211.1 210.0,212.1 210.5,213.0 211.0,213.9 211.5,214.7 212.0,215.5 212.5,216.3 213.0,217.1 213.5,217.9 214.0,218.7 214.5,219.5 215.0,220.3 215.5,221.1 216.0,221.9 216.5,222.7 217.0,223.6 217.5,224.4 218.0,225.2 218.5,226.0 219.0,226.8 219.5,227.6 220.0,228.4 220.5,229.2 221.0,230.0 221.5,230.8 222.0,231.7 222.5,232.5 223.0,233.3 223.5,234.1 224.0,234.8 224.5,235.5 225.0,236.2 225.5,237.0 226.0,237.6 226.5,238.3 227.0,238.9 227.5,239.6 228.0,240.2 228.5,240.8 229.0,241.5 229.5,242.1 230.0,242.8 230.5,243.4 231.0,244.0 231.5,244.5 232.0,245.0 232.5,245.5 233.0,246.0 233.5,246.6 234.0,247.1 234.5,247.6 235.0,248.1 235.5,248.7 236.0,249.2 236.5,249.7 237.0,250.3 237.5,250.8 238.0,251.4 238.5,251.9 239.0,252.5 239.5,253.0 240.0,253.6 240.5,254.1 241.0,254.7 241.5,255.1 242.0,255.5 242.5,255.8 243.0,256.2 243.5,256.6 244.0,257.0 244.5,257.4 245.0,257.8 245.5,258.1 246.0,258.5" stroke-width="2.00"/>
<polyline points="49.0,283.5 102.5,283.5 103.0,282.8 103.5,282.1 104.0,280.9 104.5,279.6 105.0,277.5 105.5,275.1 106.0,272.7 106.5,270.3 107.0,268.1 107.5,265.8 108.0,263.6 108.5,261.3 109.0,259.1 109.5,256.9 110.0,254.7 110.5,251.9 111.0,248.9 111.5,245.8 112.0,242.7 112.5,239.7 113.0,236.6 113.5,234.3 114.0,232.0 114.5,229.6 115.0,227.5 115.5,225.5 116.0,223.5 116.5,221.6 117.0,219.7 117.5,217.8 118.0,215.9 118.5,214.0 119.0,212.2 119.5,210.3 120.0,208.6 120.5,207.4 121.0,206.4 121.5,205.4 122.0,204.5 122.5,203.5 123.0,202.6 123.5,201.8 124.0,201.1 124.5,200.6 125.0,200.1 125.5,199.7 126.0,199.2 126.5,198.7 127.0,198.3 127.5,197.8 128.0,197.5 128.5,197.1 129.0,196.8 129.5,196.5 130.0,196.1 130.5,195.9 131.0,195.7 131.5,195.5 132.0,195.3 132.5,195.1 133.0,194.9 133.5,194.7 134.0,194.5 134.5,194.3 135.0,194.1 135.5,194.0 136.0,193.9 136.5,193.8 137.0,193.8 137.5,193.7 138.0,193.6 138.5,193.5 139.0,193.4 139.5,193.3 140.0,193.2 140.5,193.1 141.0,193.0 141.5,192.8 142.0,192.6 142.5,192.5 143.0,192.2 143.5,191.9 144.0,191.6 144.5,191.3 145.0,191.0 145.5,190.7 146.0,190.5 146.5,190.2 147.0,189.9 147.5,189.6 148.0,189.3 148.5,189.1 149.0,188.8 149.5,188.6 150.0,188.3 150.5,187.9 151.0,187.5 151.5,187.1 152.0,186.7 152.5,186.3 153.0,185.9 153.5,185.4 154.0,185.0 154.5,184.5 155.0,184.0 155.5,183.6 156.0,183.1 156.5,182.7 157.0,182.2 157.5,181.8 158.0,181.4 158.5,181.0 159.0,180.7 159.5,180.3 160.0,179.9 160.5,179.5 161.0,179.1 161.5,178.7 162.0,178.3 162.5,177.8 163.0,177.4 163.5,177.0 164.0,176.6 164.5,176.2 165.0,175.8 165.5,175.4 166.0,175.0 166.5,174.6 167.0,174.2 167.5,173.9 168.0,173.5 168.5,173.1 169.0,172.8 169.5,172.4 170.0,172.0 170.5,171.6 171.0,171.3 171.5,171.0 172.0,170.8 172.5,170.6 173.0,170.3 173.5,170.1 174.0,169.9 174.5,169.7 175.0,169.4 175.5,169.2 176.0,169.0 176.5,168.7 177.0,168.5 177.5,168.3 178.0,168.5 178.5,168.8 179.0,169.1 179.5,169.4 180.0,169.7 180.5,169.9 181.0,170.2 181.5,170.5 182.0,170.8 182.5,170.8 183.0,170.7 183.5,170.7 184.0,170.7 184.5,170.7 185.0,170.7 185.5,170.7 186.0,170.6 186.5,171.0 187.0,171.4 187.5,171.8 188.0,172.3 188.5,172.7 189.0,173.1 189.5,173.5 190.0,174.0 190.5,174.8 191.0,175.6 191.5,176.4 192.0,177.2 192.5,178.0 193.0,178.9 193.5,179.7 194.0,180.5 194.5,181.3 195.0,182.1 195.5,182.9 196.0,183.8 196.5,184.6 197.0,185.4 197.5,186.2 198.0,187.2 198.5,188.2 199.0,189.2 199.5,190.2 200.0,191.2 200.5,192.3 201.0,193.3 201.5,194.3 202.0,195.3 202.5,196.3 203.0,197.3 203.5,198.3 204.0,199.3 204.5,200.3 205.0,201.3 205.5,202.4 206.0,203.5 206.5,204.6 207.0,205.7 207.5,206.8 208.0,207.8 208.5,208.9 209.0,209.9 209.5,210.9 210.0,211.9 210.5,212.9 211.0,213.7 211.5,214.5 212.0,215.3 212.5,216.1 213.0,216.9 213.5,217.8 214.0,218.6 214.5,219.4 215.0,220.2 215.5,221.0 216.0,221.8 216.5,222.6 217.0,223.4 217.5,224.2 218.0,225.0 218.5,225.8 219.0,226.6 219.5,227.4 220.0,228.3 220.5,229.1 221.0,229.9 221.5,230.7 222.0,231.5 222.5,232.3 223.0,233.1 223.5,233.9 224.0,234.6 224.5,235.4 225.0,236.1 225.5,236.8 226.0,237.5 226.5,238.1 227.0,238.7 227.5,239.4 228.0,240.0 228.5,240.7 229.0,241.3 229.5,242.0 230.0,242.6 230.5,243.2 231.0,243.8 231.5,244.3 232.0,244.8 232.5,245.3 233.0,245.8 233.5,246.3 234.0,246.9 234.5,247.4 235.0,247.9 235.5,248.4 236.0,248.9 236.5,249.5 237.0,250.0 237.5,250.5 238.0,251.1 238.5,251.6 239.0,252.2 239.5,252.7 240.0,253.3 240.5,253.8 241.0,254.3 241.5,254.7 242.0,255.1 242.5,255.5 243.0,255.9 243.5,256.2 244.0,256.6 244.5,257.0 245.0,257.4 245.5,257.8 246.0,258.1" stroke-width="2.00"/>
<polyline points="49.0,283.5 102.5,283.5 103.0,282.7 103.5,281.9 104.0,280.4 104.5,278.8 105.0,276.4 105.5,273.7 106.0,271.0 106.5,268.2 107.0,265.7 107.5,263.3 108.0,260.8 108.5,258.4 109.0,255.9 109.5,253.5 110.0,251.1 110.5,248.3 111.0,245.2 111.5,242.2 112.0,239.1 112.5,236.1 113.0,233.1 113.5,230.6 114.0,228.1 114.5,225.6 115.0,223.4 115.5,221.4 116.0,219.4 116.5,217.5 117.0,215.5 117.5,213.6 118.0,211.7 118.5,209.8 119.0,207.8 119.5,205.8 120.0,204.0 120.5,202.8 121.0,201.8 121.5,200.8 122.0,200.0 122.5,199.2 123.0,198.4 123.5,197.9 124.0,197.3 124.5,196.8 125.0,196.1 125.5,195.3 126.0,194.4 126.5,193.6 127.0,192.8 127.5,192.3 128.0,192.1 128.5,192.1 129.0,192.2 129.5,192.3 130.0,192.3 130.5,192.3 131.0,192.2 131.5,191.9 132.0,191.4 132.5,190.8 133.0,190.2 133.5,189.7 134.0,189.3 134.5,189.0 135.0,188.9 135.5,189.2 136.0,189.5 136.5,189.9 137.0,190.2 137.5,190.3 138.0,190.3 138.5,190.2 139.0,189.8 139.5,189.4 140.0,189.0 140.5,188.6 141.0,188.3 141.5,188.1 142.0,188.1 142.5,188.2 143.0,188.3 143.5,188.5 144.0,188.5 144.5,188.5 145.0,188.3 145.5,187.9 146.0,187.4 146.5,186.7 147.0,186.1 147.5,185.5 148.0,185.1 148.5,184.8 149.0,184.8 149.5,184.8 150.0,185.0 150.5,185.1 151.0,185.1 151.5,185.0 152.0,184.7 152.5,184.2 153.0,183.6 153.5,182.8 154.0,182.1 154.5,181.3 155.0,180.7 155.5,180.4 156.0,180.2 156.5,180.1 157.0,180.0 157.5,179.9 158.0,179.8 158.5,179.6 159.0,179.2 159.5,178.8 160.0,178.2 160.5,177.7 161.0,177.1 161.5,176.6 162.0,176.2 162.5,175.8 163.0,175.5 163.5,175.2 164.0,174.9 164.5,174.5 165.0,174.1 165.5,173.7 166.0,173.3 166.5,173.0 167.0,172.6 167.5,172.3 168.0,171.9 168.5,171.6 169.0,171.2 169.5,170.9 170.0,170.5 170.5,170.2 171.0,169.8 171.5,169.6 172.0,169.4 172.5,169.1 173.0,168.9 173.5,168.7 174.0,168.4 174.5,168.2 175.0,168.0 175.5,167.7 176.0,167.5 176.5,167.3 177.0,167.1 177.5,166.8 178.0,167.1 178.5,167.4 179.0,167.7 179.5,167.9 180.0,168.2 180.5,168.5 181.0,168.8 181.5,169.0 182.0,169.3 182.5,169.3 183.0,169.3 183.5,169.3 184.0,169.3 184.5,169.3 185.0,169.4 185.5,169.4 186.0,169.4 186.5,169.7 187.0,170.1 187.5,170.5 188.0,170.9 188.5,171.3 189.0,171.8 189.5,172.2 190.0,172.6 190.5,173.4 191.0,174.2 191.5,175.0 192.0,175.8 192.5,176.6 193.0,177.4 193.5,178.2 194.0,178.9 194.5,179.7 195.0,180.5 195.5,181.3 196.0,182.1 196.5,182.9 197.0,183.7 197.5,184.5 198.0,185.5 198.5,186.6 199.0,187.6 199.5,188.7 200.0,189.7 200.5,190.8 201.0,191.8 201.5,192.8 202.0,193.9 202.5,194.9 203.0,196.0 203.5,197.0 204.0,198.1 204.5,199.1 205.0,200.2 205.5,201.3 206.0,202.4 206.5,203.5 207.0,204.7 207.5,205.8 208.0,206.9 208.5,208.0 209.0,209.1 209.5,210.2 210.0,211.2 210.5,212.3 211.0,213.2 211.5,214.0 212.0,214.8 212.5,215.6 213.0,216.4 213.5,217.2 214.0,218.0 214.5,218.8 215.0,219.6 215.5,220.4 216.0,221.2 216.5,222.0 217.0,222.8 217.5,223.7 218.0,224.5 218.5,225.3 219.0,226.1 219.5,226.9 220.0,227.7 220.5,228.5 221.0,229.3 221.5,230.1 222.0,230.9 222.5,231.8 223.0,232.6 223.5,233.4 224.0,234.1 224.5,234.9 225.0,235.6 225.5,236.4 226.0,237.0 226.5,237.6 227.0,238.2 227.5,238.9 228.0,239.5 228.5,240.1 229.0,240.7 229.5,241.4 230.0,242.0 230.5,242.6 231.0,243.2 231.5,243.6 232.0,244.1 232.5,244.6 233.0,245.1 233.5,245.6 234.0,246.0 234.5,246.5 235.0,247.0 235.5,247.5 236.0,248.0 236.5,248.5 237.0,249.0 237.5,249.5 238.0,250.0 238.5,250.6 239.0,251.1 239.5,251.6 240.0,252.1 240.5,252.6 241.0,253.2 241.5,253.5 242.0,253.9 242.5,254.3 243.0,254.6 243.5,255.0 244.0,255.4 244.5,255.8 245.0,256.1 245.5,256.5 246.0,256.9" stroke-width="2.00"/>
<polyline points="49.0,283.5 102.5,283.5 103.0,282.6 103.5,281.6 104.0,279.4 104.5,277.1 105.0,274.3 105.5,270.9 106.0,267.6 106.5,264.2 107.0,261.2 107.5,258.4 108.0,255.5 108.5,252.6 109.0,249.8 109.5,246.9 110.0,244.1 110.5,241.1 111.0,238.1 111.5,235.1 112.0,232.2 112.5,229.2 113.0,226.2 113.5,223.4 114.0,220.6 114.5,217.8 115.0,215.4 115.5,213.4 116.0,211.4 116.5,209.4 117.0,207.4 117.5,205.4 118.0,203.4 118.5,201.4 119.0,199.4 119.5,197.5 120.0,196.1 120.5,195.0 121.0,193.9 121.5,192.7 122.0,191.5 122.5,190.2 123.0,188.8 123.5,188.0 124.0,187.3 124.5,186.9 125.0,186.5 125.5,186.3 126.0,186.1 126.5,185.9 127.0,185.6 127.5,185.1 128.0,184.8 128.5,184.3 129.0,183.7 129.5,183.1 130.0,182.5 130.5,182.1 131.0,181.8 131.5,181.7 132.0,181.8 132.5,182.0 133.0,182.2 133.5,182.3 134.0,182.4 134.5,182.2 135.0,181.9 135.5,181.7 136.0,181.3 136.5,181.0 137.0,180.7 137.5,180.5 138.0,180.5 138.5,180.7 139.0,181.0 139.5,181.5 140.0,181.9 140.5,182.3 141.0,182.6 141.5,182.4 142.0,182.2 142.5,181.7 143.0,181.1 143.5,180.6 144.0,180.1 144.5,179.7 145.0,179.4 145.5,179.4 146.0,179.5 146.5,179.7 147.0,179.9 147.5,180.1 148.0,180.2 148.5,180.1 149.0,179.8 149.5,179.4 150.0,178.9 150.5,178.3 151.0,177.9 151.5,177.5 152.0,177.3 152.5,177.3 153.0,177.5 153.5,177.6 154.0,177.7 154.5,177.8 155.0,177.7 155.5,177.5 156.0,177.0 156.5,176.5 157.0,175.9 157.5,175.3 158.0,174.9 158.5,174.5 159.0,174.3 159.5,174.2 160.0,174.1 160.5,174.0 161.0,173.8 161.5,173.5 162.0,173.2 162.5,172.8 163.0,172.4 163.5,172.0 164.0,171.6 164.5,171.2 165.0,170.8 165.5,170.5 166.0,170.2 166.5,169.8 167.0,169.5 167.5,169.2 168.0,168.9 168.5,168.6 169.0,168.3 169.5,168.0 170.0,167.6 170.5,167.3 171.0,167.0 171.5,166.8 172.0,166.6 172.5,166.3 173.0,166.1 173.5,165.9 174.0,165.6 174.5,165.4 175.0,165.2 175.5,164.9 176.0,164.7 176.5,164.5 177.0,164.3 177.5,164.0 178.0,164.3 178.5,164.6 179.0,164.9 179.5,165.1 180.0,165.4 180.5,165.7 181.0,166.0 181.5,166.2 182.0,166.5 182.5,166.6 183.0,166.6 183.5,166.7 184.0,166.7 184.5,166.7 185.0,166.8 185.5,166.8 186.0,166.9 186.5,167.1 187.0,167.5 187.5,167.9 188.0,168.3 188.5,168.7 189.0,169.2 189.5,169.6 190.0,170.0 190.5,170.7 191.0,171.5 191.5,172.2 192.0,173.0 192.5,173.7 193.0,174.5 193.5,175.2 194.0,176.0 194.5,176.7 195.0,177.5 195.5,178.2 196.0,179.0 196.5,179.7 197.0,180.5 197.5,181.2 198.0,182.3 198.5,183.4 199.0,184.5 199.5,185.6 200.0,186.7 200.5,187.9 201.0,189.0 201.5,190.1 202.0,191.2 202.5,192.3 203.0,193.4 203.5,194.5 204.0,195.6 204.5,196.7 205.0,197.8 205.5,199.1 206.0,200.3 206.5,201.5 207.0,202.7 207.5,203.9 208.0,205.1 208.5,206.4 209.0,207.6 209.5,208.8 210.0,210.0 210.5,211.2 211.0,212.1 211.5,212.9 212.0,213.7 212.5,214.5 213.0,215.3 213.5,216.1 214.0,216.9 214.5,217.8 215.0,218.6 215.5,219.4 216.0,220.2 216.5,221.0 217.0,221.8 217.5,222.6 218.0,223.4 218.5,224.2 219.0,225.0 219.5,225.8 220.0,226.6 220.5,227.4 221.0,228.3 221.5,229.1 222.0,229.9 222.5,230.7 223.0,231.5 223.5,232.3 224.0,233.1 224.5,233.9 225.0,234.7 225.5,235.4 226.0,236.0 226.5,236.6 227.0,237.2 227.5,237.8 228.0,238.4 228.5,239.0 229.0,239.6 229.5,240.2 230.0,240.8 230.5,241.4 231.0,241.9 231.5,242.4 232.0,242.8 232.5,243.2 233.0,243.6 233.5,244.1 234.0,244.5 234.5,244.9 235.0,245.3 235.5,245.7 236.0,246.2 236.5,246.6 237.0,247.1 237.5,247.6 238.0,248.0 238.5,248.5 239.0,249.0 239.5,249.4 240.0,249.9 240.5,250.4 241.0,250.8 241.5,251.2 242.0,251.6 242.5,251.9 243.0,252.3 243.5,252.6 244.0,253.0 244.5,253.3 245.0,253.7 245.5,254.0 246.0,254.4" stroke-width="2.00"/>
<polyline points="49.0,283.5 102.5,283.5 103.0,282.5 103.5,281.5 104.0,279.0 104.5,276.5 105.0,273.6 105.5,269.9 106.0,266.3 106.5,262.7 107.0,259.6 107.5,256.6 108.0,253.6 108.5,250.5 109.0,247.5 109.5,244.5 110.0,241.5 110.5,238.5 111.0,235.6 111.5,232.6 112.0,229.6 112.5,226.7 113.0,223.8 113.5,220.8 114.0,217.9 114.5,214.9 115.0,212.5 115.5,210.5 116.0,208.5 116.5,206.5 117.0,204.4 117.5,202.4 118.0,200.4 118.5,198.4 119.0,196.3 119.5,194.2 120.0,192.6 120.5,191.4 121.0,190.3 121.5,189.2 122.0,188.2 122.5,187.3 123.0,186.4 123.5,186.0 124.0,185.6 124.5,185.0 125.0,184.2 125.5,183.3 126.0,182.4 126.5,181.5 127.0,180.7 127.5,180.1 128.0,180.0 128.5,180.1 129.0,180.3 129.5,180.5 130.0,180.6 130.5,180.6 131.0,180.5 131.5,180.2 132.0,179.7 132.5,179.1 133.0,178.5 133.5,178.0 134.0,177.6 134.5,177.3 135.0,177.2 135.5,177.6 136.0,178.1 136.5,178.5 137.0,179.0 137.5,179.3 138.0,179.4 138.5,179.3 139.0,179.1 139.5,178.9 140.0,178.5 140.5,178.3 141.0,178.1 141.5,178.0 142.0,177.9 142.5,178.1 143.0,178.3 143.5,178.5 144.0,178.7 144.5,178.8 145.0,178.7 145.5,178.4 146.0,177.9 146.5,177.4 147.0,176.8 147.5,176.4 148.0,176.1 148.5,175.9 149.0,176.0 149.5,176.2 150.0,176.5 150.5,176.8 151.0,177.0 151.5,177.1 152.0,177.1 152.5,176.8 153.0,176.5 153.5,175.9 154.0,175.2 154.5,174.7 155.0,174.3 155.5,174.1 156.0,174.0 156.5,174.1 157.0,174.2 157.5,174.3 158.0,174.3 158.5,174.2 159.0,174.0 159.5,173.6 160.0,173.2 160.5,172.7 161.0,172.2 161.5,171.8 162.0,171.4 162.5,171.1 163.0,170.9 163.5,170.6 164.0,170.3 164.5,170.0 165.0,169.7 165.5,169.3 166.0,169.0 166.5,168.7 167.0,168.4 167.5,168.1 168.0,167.8 168.5,167.5 169.0,167.2 169.5,166.9 170.0,166.6 170.5,166.3 171.0,166.0 171.5,165.8 172.0,165.5 172.5,165.3 173.0,165.1 173.5,164.8 174.0,164.6 174.5,164.4 175.0,164.2 175.5,163.9 176.0,163.7 176.5,163.5 177.0,163.2 177.5,163.0 178.0,163.3 178.5,163.6 179.0,163.8 179.5,164.1 180.0,164.4 180.5,164.7 181.0,164.9 181.5,165.2 182.0,165.5 182.5,165.6 183.0,165.6 183.5,165.7 184.0,165.7 184.5,165.8 185.0,165.9 185.5,165.9 186.0,166.0 186.5,166.2 187.0,166.6 187.5,167.0 188.0,167.4 188.5,167.8 189.0,168.2 189.5,168.6 190.0,169.0 190.5,169.7 191.0,170.5 191.5,171.2 192.0,171.9 192.5,172.7 193.0,173.4 193.5,174.1 194.0,174.9 194.5,175.6 195.0,176.3 195.5,177.1 196.0,177.8 196.5,178.5 197.0,179.3 197.5,180.0 198.0,181.1 198.5,182.3 199.0,183.4 199.5,184.5 200.0,185.7 200.5,186.8 201.0,187.9 201.5,189.1 202.0,190.2 202.5,191.3 203.0,192.5 203.5,193.6 204.0,194.7 204.5,195.9 205.0,197.0 205.5,198.2 206.0,199.5 206.5,200.8 207.0,202.0 207.5,203.2 208.0,204.5 208.5,205.8 209.0,207.0 209.5,208.3 210.0,209.5 210.5,210.8 211.0,211.7 211.5,212.5 212.0,213.3 212.5,214.1 213.0,215.0 213.5,215.8 214.0,216.6 214.5,217.4 215.0,218.2 215.5,219.0 216.0,219.8 216.5,220.6 217.0,221.4 217.5,222.2 218.0,223.0 218.5,223.8 219.0,224.6 219.5,225.4 220.0,226.2 220.5,227.1 221.0,227.9 221.5,228.7 222.0,229.5 222.5,230.3 223.0,231.1 223.5,231.9 224.0,232.7 224.5,233.5 225.0,234.4 225.5,235.1 226.0,235.7 226.5,236.3 227.0,236.9 227.5,237.4 228.0,238.0 228.5,238.6 229.0,239.2 229.5,239.8 230.0,240.3 230.5,240.9 231.0,241.5 231.5,241.9 232.0,242.3 232.5,242.7 233.0,243.1 233.5,243.5 234.0,243.9 234.5,244.3 235.0,244.7 235.5,245.1 236.0,245.5 236.5,245.9 237.0,246.4 237.5,246.8 238.0,247.3 238.5,247.8 239.0,248.2 239.5,248.7 240.0,249.1 240.5,249.6 241.0,250.0 241.5,250.3 242.0,250.7 242.5,251.1 243.0,251.4 243.5,251.8 244.0,252.1 244.5,252.4 245.0,252.8 245.5,253.2 246.0,253.5" stroke-width="2.00"/>
<polyline points="269.5,274.5 272.0,276.3 282.0,278.6 290.0,280.0 296.0,281.0 302.0,282.2 308.0,283.2 315.0,284.0" stroke-width="3.00"/>
<polyline points="329.4,283.5 382.9,283.5 383.9,282.8 384.9,282.0 385.4,281.0 387.4,277.0 389.6,268.9 390.4,266.0 392.6,255.3 393.7,250.0 396.8,235.0 397.0,234.3 400.6,221.0 400.7,220.9 404.6,215.5 406.7,213.8 411.2,210.2 412.5,209.8 421.2,207.0 422.5,206.0 430.0,200.2 437.4,192.8 437.5,192.7 445.0,185.2 452.4,180.6 452.5,180.5 457.4,177.5 458.1,177.8 461.4,179.0 461.9,179.2 466.2,180.9 468.8,185.2 470.0,186.5 476.2,192.8 477.6,194.5 481.8,205.8 482.6,208.0 489.3,222.5 490.7,225.5 498.2,236.8 500.5,239.6 504.4,244.3 508.2,249.3 509.3,250.6 512.5,254.5 516.8,257.3 525.6,263.0" stroke-width="2.00"/>
<polyline points="329.4,283.5 382.9,283.5 383.9,282.6 384.9,281.6 385.4,280.5 387.4,275.6 389.6,267.0 390.4,264.0 392.6,253.3 393.7,248.1 396.8,233.4 397.0,232.6 400.6,220.0 400.7,219.8 404.6,214.5 406.7,212.7 411.2,209.2 412.5,208.8 421.2,206.1 422.5,205.2 430.0,199.0 437.4,191.7 437.5,191.6 445.0,184.3 452.4,179.5 452.5,179.4 457.4,176.4 458.1,176.6 461.4,178.0 461.9,178.2 466.2,179.8 468.8,184.1 470.0,185.3 476.2,191.6 477.6,193.6 481.8,204.8 482.6,206.9 489.3,221.0 490.7,224.1 498.2,235.7 500.5,238.7 504.4,243.4 508.2,248.4 509.3,249.8 512.5,253.6 516.8,256.6 525.6,262.3" stroke-width="2.00"/>
<polyline points="329.4,283.5 382.9,283.5 383.9,282.5 384.9,281.2 385.4,280.0 387.4,274.2 389.6,265.1 390.4,262.0 392.6,251.3 393.7,246.2 396.8,231.8 397.0,231.0 400.6,219.0 400.7,218.8 404.6,213.4 406.7,211.5 411.2,208.2 412.5,207.8 421.2,205.1 422.5,204.3 430.0,197.9 437.4,190.6 437.5,190.5 445.0,183.4 452.4,178.5 452.5,178.4 457.4,175.3 458.1,175.4 461.4,177.0 461.9,177.3 466.2,178.8 468.8,182.9 470.0,184.2 476.2,190.5 477.6,192.6 481.8,203.8 482.6,205.8 489.3,219.6 490.7,222.6 498.2,234.7 500.5,237.8 504.4,242.6 508.2,247.6 509.3,248.9 512.5,252.7 516.8,256.0 525.6,261.7" stroke-width="2.00"/>
<polyline points="329.4,283.5 382.9,283.5 383.9,282.4 384.9,280.8 385.4,279.5 387.4,272.8 389.6,263.3 390.4,260.0 392.6,249.2 393.7,244.2 396.8,230.1 397.0,229.4 400.6,218.0 400.7,217.8 404.6,212.4 406.7,210.3 411.2,207.2 412.5,206.8 421.2,204.2 422.5,203.4 430.0,196.7 437.4,189.6 437.5,189.5 445.0,182.4 452.4,177.4 452.5,177.3 457.4,174.2 458.1,174.2 461.4,176.0 461.9,176.3 466.2,177.8 468.8,181.7 470.0,183.0 476.2,189.4 477.6,191.7 481.8,202.8 482.6,204.7 489.3,218.2 490.7,221.2 498.2,233.6 500.5,236.9 504.4,241.7 508.2,246.7 509.3,248.0 512.5,251.9 516.8,255.3 525.6,261.0" stroke-width="2.00"/>
<polyline points="329.4,283.5 382.9,283.5 383.9,282.2 384.9,280.3 385.4,279.0 387.4,271.4 389.6,261.4 390.4,258.0 392.6,247.2 393.7,242.3 396.8,228.5 397.0,227.8 400.6,217.0 400.7,216.8 404.6,211.4 406.7,209.2 411.2,206.2 412.5,205.8 421.2,203.2 422.5,202.5 430.0,195.5 437.4,188.5 437.5,188.4 445.0,181.5 452.4,176.3 452.5,176.3 457.4,173.1 458.1,173.1 461.4,175.0 461.9,175.3 466.2,176.7 468.8,180.5 470.0,181.8 476.2,188.3 477.6,190.7 481.8,201.8 482.6,203.6 489.3,216.8 490.7,219.7 498.2,232.5 500.5,236.0 504.4,240.9 508.2,245.8 509.3,247.2 512.5,251.0 516.8,254.7 525.6,260.3" stroke-width="2.00"/>
<polyline points="329.4,283.5 382.9,283.5 383.9,282.1 384.9,279.9 385.4,278.5 387.4,270.0 389.6,259.5 390.4,256.0 392.6,245.2 393.7,240.4 396.8,226.9 397.0,226.1 400.6,215.9 400.7,215.8 404.6,210.3 406.7,208.0 411.2,205.2 412.5,204.8 421.2,202.3 422.5,201.6 430.0,194.3 437.4,187.4 437.5,187.3 445.0,180.6 452.4,175.3 452.5,175.2 457.4,172.0 458.1,171.9 461.4,174.0 461.9,174.3 466.2,175.7 468.8,179.3 470.0,180.6 476.2,187.2 477.6,189.8 481.8,200.8 482.6,202.5 489.3,215.3 490.7,218.3 498.2,231.4 500.5,235.1 504.4,240.0 508.2,244.9 509.3,246.3 512.5,250.1 516.8,254.0 525.6,259.6" stroke-width="2.00"/>
<polyline points="329.4,283.5 382.9,283.5 383.9,282.0 384.9,279.5 385.4,278.0 387.4,268.6 389.6,257.6 390.4,254.0 392.6,243.1 393.7,238.4 396.8,225.3 397.0,224.5 400.6,214.9 400.7,214.8 404.6,209.3 406.7,206.9 411.2,204.2 412.5,203.8 421.2,201.3 422.5,200.8 430.0,193.2 437.4,186.3 437.5,186.2 445.0,179.7 452.4,174.2 452.5,174.2 457.4,170.9 458.1,170.7 461.4,173.0 461.9,173.4 466.2,174.6 468.8,178.1 470.0,179.4 476.2,186.1 477.6,188.8 481.8,199.8 482.6,201.4 489.3,213.9 490.7,216.8 498.2,230.4 500.5,234.3 504.4,239.1 508.2,244.1 509.3,245.5 512.5,249.2 516.8,253.3 525.6,259.0" stroke-width="2.00"/>
<polyline points="329.4,283.5 382.9,283.5 383.9,281.9 384.9,279.1 385.4,277.5 387.4,267.2 389.6,255.7 390.4,252.0 392.6,241.1 393.7,236.5 396.8,223.6 397.0,222.9 400.6,213.9 400.7,213.7 404.6,208.3 406.7,205.7 411.2,203.3 412.5,202.8 421.2,200.4 422.5,199.9 430.0,192.0 437.4,185.2 437.5,185.2 445.0,178.8 452.4,173.2 452.5,173.1 457.4,169.8 458.1,169.5 461.4,172.0 461.9,172.4 466.2,173.6 468.8,176.9 470.0,178.3 476.2,184.9 477.6,187.9 481.8,198.7 482.6,200.3 489.3,212.5 490.7,215.4 498.2,229.3 500.5,233.4 504.4,238.3 508.2,243.2 509.3,244.6 512.5,248.3 516.8,252.7 525.6,258.3" stroke-width="2.00"/>
<polyline points="329.4,283.5 382.9,283.5 383.9,281.8 384.9,278.7 385.4,277.0 387.4,265.8 389.6,253.8 390.4,250.0 392.6,239.1 393.7,234.6 396.8,222.0 397.0,221.3 400.6,212.9 400.7,212.7 404.6,207.2 406.7,204.5 411.2,202.3 412.5,201.8 421.2,199.4 422.5,199.0 430.0,190.8 437.4,184.2 437.5,184.1 445.0,177.8 452.4,172.1 452.5,172.0 457.4,168.7 458.1,168.4 461.4,171.0 461.9,171.4 466.2,172.5 468.8,175.7 470.0,177.1 476.2,183.8 477.6,186.9 481.8,197.7 482.6,199.2 489.3,211.1 490.7,213.9 498.2,228.2 500.5,232.5 504.4,237.4 508.2,242.3 509.3,243.7 512.5,247.5 516.8,252.0 525.6,257.6" stroke-width="2.00"/>
<polyline points="329.4,283.5 382.9,283.5 383.9,281.6 384.9,278.2 385.4,276.5 387.4,264.4 389.6,251.9 390.4,248.0 392.6,237.0 393.7,232.7 396.8,220.4 397.0,219.6 400.6,211.9 400.7,211.7 404.6,206.2 406.7,203.4 411.2,201.3 412.5,200.8 421.2,198.5 422.5,198.1 430.0,189.7 437.4,183.1 437.5,183.0 445.0,176.9 452.4,171.1 452.5,171.0 457.4,167.6 458.1,167.2 461.4,170.0 461.9,170.5 466.2,171.5 468.8,174.5 470.0,175.9 476.2,182.7 477.6,186.0 481.8,196.7 482.6,198.1 489.3,209.6 490.7,212.5 498.2,227.2 500.5,231.6 504.4,236.6 508.2,241.5 509.3,242.9 512.5,246.6 516.8,251.4 525.6,257.0" stroke-width="2.00"/>
<polyline points="329.4,283.5 382.9,283.5 383.9,281.5 384.9,277.8 385.4,276.0 387.4,263.0 389.6,250.0 390.4,246.0 392.6,235.0 393.7,230.8 396.8,218.8 397.0,218.0 400.6,210.9 400.7,210.7 404.6,205.2 406.7,202.2 411.2,200.3 412.5,199.8 421.2,197.6 422.5,197.2 430.0,188.5 437.4,182.0 437.5,181.9 445.0,176.0 452.4,170.0 452.5,169.9 457.4,166.5 458.1,166.0 461.4,169.0 461.9,169.5 466.2,170.4 468.8,173.3 470.0,174.8 476.2,181.6 477.6,185.0 481.8,195.7 482.6,197.0 489.3,208.2 490.7,211.0 498.2,226.1 500.5,230.7 504.4,235.7 508.2,240.6 509.3,242.0 512.5,245.7 516.8,250.7 525.6,256.3" stroke-width="2.00"/>
<polyline points="549.8,276.8 553.0,278.0 562.5,280.0 572.0,281.5 580.0,282.5 588.0,283.4 595.5,284.0" stroke-width="3.20"/>
</g>
<polygon points="151.4,186.0 152.1,76.0 152.8,74.7 153.6,76.0 154.2,186.0" stroke-width="1"/>
<polygon points="156.6,184.0 157.3,85.0 157.9,83.7 158.5,85.0 159.2,184.0" stroke-width="1"/>
<polygon points="160.0,180.0 160.7,124.0 161.0,122.7 161.3,124.0 162.0,180.0" stroke-width="1"/>
<polygon points="166.0,176.0 166.7,105.0 167.5,103.7 168.3,105.0 169.0,176.0" stroke-width="1"/>
<polygon points="149.3,186 149.5,164.5 151,163.2 153.5,162.8 156,164 158.5,163 161,164.5 163.5,164.5 164.3,170 166,172.5 169.5,172 169.5,180 160,188" stroke-width="0.8"/>
<polygon points="245.6,258.0 245.9,215.0 246.5,178.0 247.6,174.5 248.8,178.0 249.6,196.0 250.6,199.0 251.6,196.5 252.6,200.0 253.3,222.0 255.0,224.0 256.4,222.0 256.8,190.0 257.8,186.5 259.0,189.0 259.8,210.0 260.8,198.0 261.8,195.5 262.9,198.0 263.5,218.0 264.3,240.0 266.2,243.0 266.6,240.5 267.8,240.5 268.4,250.0 269.3,268.0 270.5,274.0 270.0,277.0 268.0,276.0 266.5,268.0 264.5,265.0 262.5,259.0 261.0,257.0 259.5,261.0 258.5,263.0 257.0,259.0 255.0,254.0 253.5,251.0 252.0,252.0 250.5,258.0 248.5,255.0 247.5,258.0 246.5,263.0 245.6,262.0" stroke-width="0.8"/>
<polygon points="407.3,206.0 408.1,191.5 408.8,190.0 409.4,191.5 410.2,206.0" stroke-width="1"/>
<polygon points="431.2,192.0 432.1,133.5 432.8,132.0 433.4,133.5 434.2,192.0" stroke-width="1"/>
<polygon points="436.0,190.0 436.8,83.0 438.1,81.5 439.4,83.0 440.2,190.0" stroke-width="1"/>
<polygon points="439.6,188.0 440.4,151.0 441.2,149.5 442.1,151.0 442.9,188.0" stroke-width="1"/>
<polygon points="445.6,184.0 446.4,95.0 447.5,93.5 448.6,95.0 449.4,184.0" stroke-width="1"/>
<polygon points="430,194 430.2,161.5 443.5,161.5 444,186" stroke-width="0.6"/>
<polygon points="525.6,263.0 525.8,200.0 526.5,165.0 527.8,160.0 529.0,164.0 530.0,170.0 531.3,164.5 532.5,163.0 533.8,166.0 534.4,192.0 535.5,192.5 536.9,192.5 537.4,186.0 538.5,183.8 539.5,185.0 540.2,176.0 541.5,173.5 542.8,176.0 543.5,190.0 545.0,190.0 546.5,205.0 549.5,217.5 550.3,230.0 550.3,276.5 548.8,278.0 547.2,277.0 547.0,240.0 545.3,222.0 542.5,221.0 542.0,256.0 537.6,256.0 537.5,241.0 536.0,240.0 535.6,223.0 532.0,223.0 531.0,241.0 529.5,243.0 529.4,257.5 526.5,258.5" stroke-width="0.8"/>
</g>
<g font-family="Liberation Sans, sans-serif" fill="#fff">
<rect x="69.3" y="43.2" width="5.6" height="1.1" fill="#e4e4e4"/>
<text x="79.8" y="49.1" font-size="14.5" text-anchor="start" fill="#fff" textLength="16.0" lengthAdjust="spacingAndGlyphs">25</text>
<rect x="349.7" y="43.2" width="5.6" height="1.1" fill="#e4e4e4"/>
<text x="360.2" y="49.1" font-size="14.5" text-anchor="start" fill="#fff" textLength="16.0" lengthAdjust="spacingAndGlyphs">25</text>
<g clip-path="url(#clipL)"><text x="318.3" y="49.1" font-size="14.5" text-anchor="end" fill="#fff" textLength="16.0" lengthAdjust="spacingAndGlyphs">25</text></g>
<rect x="69.3" y="91.2" width="5.6" height="1.1" fill="#e4e4e4"/>
<text x="79.8" y="97.1" font-size="14.5" text-anchor="start" fill="#fff" textLength="16.0" lengthAdjust="spacingAndGlyphs">20</text>
<rect x="349.7" y="91.2" width="5.6" height="1.1" fill="#e4e4e4"/>
<text x="360.2" y="97.1" font-size="14.5" text-anchor="start" fill="#fff" textLength="16.0" lengthAdjust="spacingAndGlyphs">20</text>
<g clip-path="url(#clipL)"><text x="318.3" y="97.1" font-size="14.5" text-anchor="end" fill="#fff" textLength="16.0" lengthAdjust="spacingAndGlyphs">20</text></g>
<rect x="69.3" y="139.2" width="5.6" height="1.1" fill="#e4e4e4"/>
<text x="79.8" y="145.1" font-size="14.5" text-anchor="start" fill="#fff" textLength="16.0" lengthAdjust="spacingAndGlyphs">15</text>
<rect x="349.7" y="139.2" width="5.6" height="1.1" fill="#e4e4e4"/>
<text x="360.2" y="145.1" font-size="14.5" text-anchor="start" fill="#fff" textLength="16.0" lengthAdjust="spacingAndGlyphs">15</text>
<g clip-path="url(#clipL)"><text x="318.3" y="145.1" font-size="14.5" text-anchor="end" fill="#fff" textLength="16.0" lengthAdjust="spacingAndGlyphs">15</text></g>
<rect x="69.3" y="187.2" width="5.6" height="1.1" fill="#e4e4e4"/>
<text x="79.8" y="193.1" font-size="14.5" text-anchor="start" fill="#fff" textLength="16.0" lengthAdjust="spacingAndGlyphs">10</text>
<rect x="349.7" y="187.2" width="5.6" height="1.1" fill="#e4e4e4"/>
<text x="360.2" y="193.1" font-size="14.5" text-anchor="start" fill="#fff" textLength="16.0" lengthAdjust="spacingAndGlyphs">10</text>
<g clip-path="url(#clipL)"><text x="318.3" y="193.1" font-size="14.5" text-anchor="end" fill="#fff" textLength="16.0" lengthAdjust="spacingAndGlyphs">10</text></g>
<rect x="69.3" y="235.2" width="5.6" height="1.1" fill="#e4e4e4"/>
<text x="79.8" y="241.1" font-size="14.5" text-anchor="start" fill="#fff" textLength="7.6" lengthAdjust="spacingAndGlyphs">5</text>
<rect x="349.7" y="235.2" width="5.6" height="1.1" fill="#e4e4e4"/>
<text x="360.2" y="241.1" font-size="14.5" text-anchor="start" fill="#fff" textLength="7.6" lengthAdjust="spacingAndGlyphs">5</text>
<g clip-path="url(#clipL)"><text x="318.3" y="241.1" font-size="14.5" text-anchor="end" fill="#fff" textLength="7.6" lengthAdjust="spacingAndGlyphs">5</text></g>
<rect x="69.3" y="283.2" width="5.6" height="1.1" fill="#e4e4e4"/>
<text x="79.8" y="289.1" font-size="14.5" text-anchor="start" fill="#fff" textLength="7.6" lengthAdjust="spacingAndGlyphs">0</text>
<rect x="349.7" y="283.2" width="5.6" height="1.1" fill="#e4e4e4"/>
<text x="360.2" y="289.1" font-size="14.5" text-anchor="start" fill="#fff" textLength="7.6" lengthAdjust="spacingAndGlyphs">0</text>
<g clip-path="url(#clipL)"><text x="318.3" y="289.1" font-size="14.5" text-anchor="end" fill="#fff" textLength="7.6" lengthAdjust="spacingAndGlyphs">0</text></g>
</g>
<g font-family="Liberation Sans, sans-serif" fill="#000">
<text x="181.5" y="15.8" font-size="17.5" text-anchor="middle" fill="#000" textLength="178.0" lengthAdjust="spacingAndGlyphs">11.2 (Tile112=112) X</text>
<text x="462.5" y="15.8" font-size="17.5" text-anchor="middle" fill="#000" textLength="178.0" lengthAdjust="spacingAndGlyphs">11.2 (Tile112=112) Y</text>
<text x="31.8" y="42.2" font-size="14.5" text-anchor="end" fill="#000" textLength="19.5" lengthAdjust="spacingAndGlyphs">On</text>
<text x="612.3" y="42.2" font-size="14.5" text-anchor="start" fill="#000" textLength="19.5" lengthAdjust="spacingAndGlyphs">On</text>
<text x="31.8" y="58.9" font-size="14.5" text-anchor="end" fill="#000" textLength="8.5" lengthAdjust="spacingAndGlyphs">Y</text>
<text x="612.3" y="58.9" font-size="14.5" text-anchor="start" fill="#000" textLength="8.5" lengthAdjust="spacingAndGlyphs">Y</text>
<text x="31.8" y="75.6" font-size="14.5" text-anchor="end" fill="#000" textLength="20.5" lengthAdjust="spacingAndGlyphs">Off</text>
<text x="612.3" y="75.6" font-size="14.5" text-anchor="start" fill="#000" textLength="20.5" lengthAdjust="spacingAndGlyphs">Off</text>
<text x="31.8" y="92.3" font-size="14.5" text-anchor="end" fill="#000">P</text>
<text x="612.3" y="92.3" font-size="14.5" text-anchor="start" fill="#000">P</text>
<text x="31.8" y="109.0" font-size="14.5" text-anchor="end" fill="#000">O</text>
<text x="612.3" y="109.0" font-size="14.5" text-anchor="start" fill="#000">O</text>
<text x="31.8" y="125.8" font-size="14.5" text-anchor="end" fill="#000">N</text>
<text x="612.3" y="125.8" font-size="14.5" text-anchor="start" fill="#000">N</text>
<text x="31.8" y="142.5" font-size="14.5" text-anchor="end" fill="#000">M</text>
<text x="612.3" y="142.5" font-size="14.5" text-anchor="start" fill="#000">M</text>
<text x="31.8" y="159.2" font-size="14.5" text-anchor="end" fill="#000">L</text>
<text x="612.3" y="159.2" font-size="14.5" text-anchor="start" fill="#000">L</text>
<text x="31.8" y="175.9" font-size="14.5" text-anchor="end" fill="#000">K</text>
<text x="612.3" y="175.9" font-size="14.5" text-anchor="start" fill="#000">K</text>
<text x="31.8" y="192.6" font-size="14.5" text-anchor="end" fill="#000">J</text>
<text x="612.3" y="192.6" font-size="14.5" text-anchor="start" fill="#000">J</text>
<text x="31.8" y="209.3" font-size="14.5" text-anchor="end" fill="#000">I</text>
<text x="612.3" y="209.3" font-size="14.5" text-anchor="start" fill="#000">I</text>
<text x="31.8" y="226.1" font-size="14.5" text-anchor="end" fill="#000">H</text>
<text x="612.3" y="226.1" font-size="14.5" text-anchor="start" fill="#000">H</text>
<text x="31.8" y="242.8" font-size="14.5" text-anchor="end" fill="#000">G</text>
<text x="612.3" y="242.8" font-size="14.5" text-anchor="start" fill="#000">G</text>
<text x="31.8" y="259.5" font-size="14.5" text-anchor="end" fill="#000">F</text>
<text x="612.3" y="259.5" font-size="14.5" text-anchor="start" fill="#000">F</text>
<text x="31.8" y="276.2" font-size="14.5" text-anchor="end" fill="#000">E</text>
<text x="612.3" y="276.2" font-size="14.5" text-anchor="start" fill="#000">E</text>
<text x="31.8" y="292.9" font-size="14.5" text-anchor="end" fill="#000">D</text>
<text x="612.3" y="292.9" font-size="14.5" text-anchor="start" fill="#000">D</text>
<text x="31.8" y="309.7" font-size="14.5" text-anchor="end" fill="#000">C</text>
<text x="612.3" y="309.7" font-size="14.5" text-anchor="start" fill="#000">C</text>
<text x="31.8" y="326.4" font-size="14.5" text-anchor="end" fill="#000">B</text>
<text x="612.3" y="326.4" font-size="14.5" text-anchor="start" fill="#000">B</text>
<text x="31.8" y="343.1" font-size="14.5" text-anchor="end" fill="#000">A</text>
<text x="612.3" y="343.1" font-size="14.5" text-anchor="start" fill="#000">A</text>
<text x="31.8" y="359.8" font-size="14.5" text-anchor="end" fill="#000" textLength="20.5" lengthAdjust="spacingAndGlyphs">Off</text>
<text x="612.3" y="359.8" font-size="14.5" text-anchor="start" fill="#000" textLength="20.5" lengthAdjust="spacingAndGlyphs">Off</text>
<text x="31.8" y="376.5" font-size="14.5" text-anchor="end" fill="#000" textLength="9.5" lengthAdjust="spacingAndGlyphs">X</text>
<text x="612.3" y="376.5" font-size="14.5" text-anchor="start" fill="#000" textLength="9.5" lengthAdjust="spacingAndGlyphs">X</text>
<text x="31.8" y="393.2" font-size="14.5" text-anchor="end" fill="#000" textLength="19.5" lengthAdjust="spacingAndGlyphs">On</text>
<text x="612.3" y="393.2" font-size="14.5" text-anchor="start" fill="#000" textLength="19.5" lengthAdjust="spacingAndGlyphs">On</text>
<rect x="48.75" y="408" width="1.1" height="5.2" fill="#000"/>
<text x="48.7" y="426.3" font-size="10.0" text-anchor="middle" fill="#111">0</text>
<rect x="89.42" y="408" width="1.1" height="5.2" fill="#000"/>
<text x="89.4" y="426.3" font-size="10.0" text-anchor="middle" fill="#111">50</text>
<rect x="130.08" y="408" width="1.1" height="5.2" fill="#000"/>
<text x="130.0" y="426.3" font-size="10.0" text-anchor="middle" fill="#111">100</text>
<rect x="170.75" y="408" width="1.1" height="5.2" fill="#000"/>
<text x="170.7" y="426.3" font-size="10.0" text-anchor="middle" fill="#111">150</text>
<rect x="211.41" y="408" width="1.1" height="5.2" fill="#000"/>
<text x="211.4" y="426.3" font-size="10.0" text-anchor="middle" fill="#111">200</text>
<rect x="252.07" y="408" width="1.1" height="5.2" fill="#000"/>
<text x="252.0" y="426.3" font-size="10.0" text-anchor="middle" fill="#111">250</text>
<rect x="292.74" y="408" width="1.1" height="5.2" fill="#000"/>
<text x="292.7" y="426.3" font-size="10.0" text-anchor="middle" fill="#111">300</text>
<rect x="329.05" y="408" width="1.1" height="5.2" fill="#000"/>
<text x="329.0" y="426.3" font-size="10.0" text-anchor="middle" fill="#111">0</text>
<rect x="369.72" y="408" width="1.1" height="5.2" fill="#000"/>
<text x="369.7" y="426.3" font-size="10.0" text-anchor="middle" fill="#111">50</text>
<rect x="410.38" y="408" width="1.1" height="5.2" fill="#000"/>
<text x="410.3" y="426.3" font-size="10.0" text-anchor="middle" fill="#111">100</text>
<rect x="451.05" y="408" width="1.1" height="5.2" fill="#000"/>
<text x="451.0" y="426.3" font-size="10.0" text-anchor="middle" fill="#111">150</text>
<rect x="491.71" y="408" width="1.1" height="5.2" fill="#000"/>
<text x="491.7" y="426.3" font-size="10.0" text-anchor="middle" fill="#111">200</text>
<rect x="532.38" y="408" width="1.1" height="5.2" fill="#000"/>
<text x="532.3" y="426.3" font-size="10.0" text-anchor="middle" fill="#111">250</text>
<rect x="573.04" y="408" width="1.1" height="5.2" fill="#000"/>
<text x="573.0" y="426.3" font-size="10.0" text-anchor="middle" fill="#111">300</text>
<text transform="translate(4.3,217.5) rotate(-90)" font-size="14.5" text-anchor="middle" textLength="44" lengthAdjust="spacingAndGlyphs">Dipole</text>
</g>
</svg>
</body></html>
